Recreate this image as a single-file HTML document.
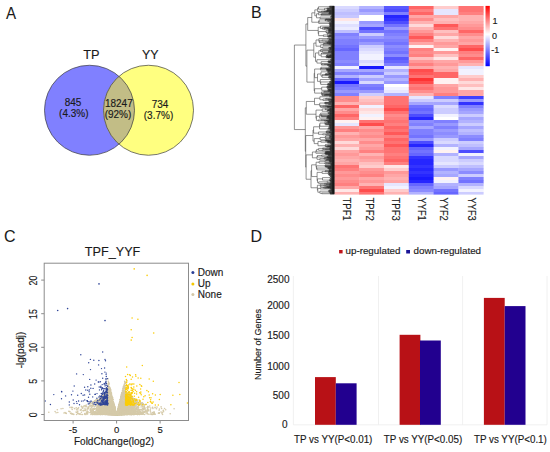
<!DOCTYPE html>
<html><head><meta charset="utf-8"><style>
html,body{margin:0;padding:0;background:#fff;width:550px;height:452px;overflow:hidden}
svg{display:block}
text{font-family:"Liberation Sans",sans-serif;fill:#1a1a1a;stroke:#1a1a1a;stroke-width:0.15px}
text.pl{stroke-width:0.06px}
</style></head><body>
<svg width="550" height="452" viewBox="0 0 550 452">
<defs>
<linearGradient id="cb" x1="0" y1="0" x2="0" y2="1">
<stop offset="0" stop-color="#ff0000"/>
<stop offset="0.47" stop-color="#ffffff"/>
<stop offset="1" stop-color="#0000ff"/>
</linearGradient>
</defs>

<text class="pl" x="5.9" y="19" font-size="16" textLength="10.1" lengthAdjust="spacingAndGlyphs">A</text>
<text class="pl" x="251" y="18" font-size="16">B</text>
<text class="pl" x="4" y="242.3" font-size="16">C</text>
<text class="pl" x="250.5" y="242.1" font-size="16">D</text>
<circle cx="89.5" cy="110.25" r="45" fill="#8080ff"/>
<circle cx="148.5" cy="110.25" r="45" fill="#ffff80"/>
<clipPath id="cA"><circle cx="89.5" cy="110.25" r="45"/></clipPath>
<circle cx="148.5" cy="110.25" r="45" fill="#c2bd86" clip-path="url(#cA)"/>
<circle cx="89.5" cy="110.25" r="45" fill="none" stroke="#3c3c3c" stroke-width="0.7"/>
<circle cx="148.5" cy="110.25" r="45" fill="none" stroke="#3c3c3c" stroke-width="0.7"/>
<text x="83.2" y="58.9" font-size="13.6" textLength="16.3" lengthAdjust="spacingAndGlyphs">TP</text>
<text x="141.9" y="58.9" font-size="13.6" textLength="16.6" lengthAdjust="spacingAndGlyphs">YY</text>
<g font-size="10" text-anchor="middle">
<text x="73" y="105.8">845</text><text x="73.8" y="117">(4.3%)</text>
<text x="118.8" y="107.4">18247</text><text x="118" y="118.2">(92%)</text>
<text x="160" y="107.7">734</text><text x="158.5" y="118.5">(3.7%)</text>
</g>
<rect x="334.30" y="6.00" width="25.13" height="3.30" fill="#d9d9ff"/>
<rect x="334.30" y="9.00" width="25.13" height="3.30" fill="#ccccff"/>
<rect x="334.30" y="12.00" width="25.13" height="3.30" fill="#bfbfff"/>
<rect x="334.30" y="15.00" width="25.13" height="3.30" fill="#c7c7ff"/>
<rect x="334.30" y="18.00" width="25.13" height="3.30" fill="#ffe6e6"/>
<rect x="334.30" y="21.00" width="25.13" height="3.30" fill="#f2f2ff"/>
<rect x="334.30" y="24.00" width="25.13" height="3.30" fill="#e0e0ff"/>
<rect x="334.30" y="27.00" width="25.13" height="3.30" fill="#ebebff"/>
<rect x="334.30" y="30.00" width="25.13" height="3.30" fill="#bfbfff"/>
<rect x="334.30" y="33.00" width="25.13" height="3.30" fill="#8080ff"/>
<rect x="334.30" y="36.00" width="25.13" height="3.30" fill="#8c8cff"/>
<rect x="334.30" y="39.00" width="25.13" height="3.30" fill="#8080ff"/>
<rect x="334.30" y="42.00" width="25.13" height="3.30" fill="#8080ff"/>
<rect x="334.30" y="45.00" width="25.13" height="3.30" fill="#7373ff"/>
<rect x="334.30" y="48.00" width="25.13" height="3.30" fill="#6666ff"/>
<rect x="334.30" y="51.00" width="25.13" height="3.30" fill="#8080ff"/>
<rect x="334.30" y="54.00" width="25.13" height="3.30" fill="#8080ff"/>
<rect x="334.30" y="57.00" width="25.13" height="3.30" fill="#8080ff"/>
<rect x="334.30" y="60.00" width="25.13" height="3.30" fill="#8c8cff"/>
<rect x="334.30" y="63.00" width="25.13" height="3.30" fill="#8080ff"/>
<rect x="334.30" y="66.00" width="25.13" height="3.30" fill="#f2f2ff"/>
<rect x="334.30" y="69.00" width="25.13" height="3.30" fill="#a6a6ff"/>
<rect x="334.30" y="72.00" width="25.13" height="3.30" fill="#8080ff"/>
<rect x="334.30" y="75.00" width="25.13" height="3.30" fill="#b2b2ff"/>
<rect x="334.30" y="78.00" width="25.13" height="3.30" fill="#6666ff"/>
<rect x="334.30" y="81.00" width="25.13" height="3.30" fill="#1919ff"/>
<rect x="334.30" y="84.00" width="25.13" height="3.30" fill="#7373ff"/>
<rect x="334.30" y="87.00" width="25.13" height="3.30" fill="#8080ff"/>
<rect x="334.30" y="90.00" width="25.13" height="3.30" fill="#9999ff"/>
<rect x="334.30" y="93.00" width="25.13" height="3.30" fill="#8080ff"/>
<rect x="334.30" y="96.00" width="25.13" height="3.30" fill="#ff8c8c"/>
<rect x="334.30" y="99.00" width="25.13" height="3.30" fill="#ff8c8c"/>
<rect x="334.30" y="102.00" width="25.13" height="3.30" fill="#ffb2b2"/>
<rect x="334.30" y="105.00" width="25.13" height="3.30" fill="#ff6666"/>
<rect x="334.30" y="108.00" width="25.13" height="3.30" fill="#ffa6a6"/>
<rect x="334.30" y="111.00" width="25.13" height="3.30" fill="#ff8c8c"/>
<rect x="334.30" y="114.00" width="25.13" height="3.30" fill="#ff6666"/>
<rect x="334.30" y="117.00" width="25.13" height="3.30" fill="#ff8080"/>
<rect x="334.30" y="120.00" width="25.13" height="3.30" fill="#fff2f2"/>
<rect x="334.30" y="123.00" width="25.13" height="3.30" fill="#e6e6ff"/>
<rect x="334.30" y="126.00" width="25.13" height="3.30" fill="#ff9999"/>
<rect x="334.30" y="129.00" width="25.13" height="3.30" fill="#ff8080"/>
<rect x="334.30" y="132.00" width="25.13" height="3.30" fill="#ffb2b2"/>
<rect x="334.30" y="135.00" width="25.13" height="3.30" fill="#ff9999"/>
<rect x="334.30" y="138.00" width="25.13" height="3.30" fill="#ffa6a6"/>
<rect x="334.30" y="141.00" width="25.13" height="3.30" fill="#ffd9d9"/>
<rect x="334.30" y="144.00" width="25.13" height="3.30" fill="#ffb2b2"/>
<rect x="334.30" y="147.00" width="25.13" height="3.30" fill="#ffd9d9"/>
<rect x="334.30" y="150.00" width="25.13" height="3.30" fill="#ffa6a6"/>
<rect x="334.30" y="153.00" width="25.13" height="3.30" fill="#ff9999"/>
<rect x="334.30" y="156.00" width="25.13" height="3.30" fill="#ffa6a6"/>
<rect x="334.30" y="159.00" width="25.13" height="3.30" fill="#ffb2b2"/>
<rect x="334.30" y="162.00" width="25.13" height="3.30" fill="#ffa6a6"/>
<rect x="334.30" y="165.00" width="25.13" height="3.30" fill="#ff7373"/>
<rect x="334.30" y="168.00" width="25.13" height="3.30" fill="#ff8080"/>
<rect x="334.30" y="171.00" width="25.13" height="3.30" fill="#ff9999"/>
<rect x="334.30" y="174.00" width="25.13" height="3.30" fill="#ff8c8c"/>
<rect x="334.30" y="177.00" width="25.13" height="3.30" fill="#ff9999"/>
<rect x="334.30" y="180.00" width="25.13" height="3.30" fill="#ff8c8c"/>
<rect x="334.30" y="183.00" width="25.13" height="3.30" fill="#ff8080"/>
<rect x="334.30" y="186.00" width="25.13" height="3.30" fill="#ffa6a6"/>
<rect x="334.30" y="189.00" width="25.13" height="3.30" fill="#ffe6e6"/>
<rect x="334.30" y="192.00" width="25.13" height="2.60" fill="#ffb2b2"/>
<rect x="359.13" y="6.00" width="25.13" height="3.30" fill="#b2b2ff"/>
<rect x="359.13" y="9.00" width="25.13" height="3.30" fill="#9999ff"/>
<rect x="359.13" y="12.00" width="25.13" height="3.30" fill="#b2b2ff"/>
<rect x="359.13" y="15.00" width="25.13" height="3.30" fill="#ffffff"/>
<rect x="359.13" y="18.00" width="25.13" height="3.30" fill="#ffffff"/>
<rect x="359.13" y="21.00" width="25.13" height="3.30" fill="#9999ff"/>
<rect x="359.13" y="24.00" width="25.13" height="3.30" fill="#a6a6ff"/>
<rect x="359.13" y="27.00" width="25.13" height="3.30" fill="#4d4dff"/>
<rect x="359.13" y="30.00" width="25.13" height="3.30" fill="#7373ff"/>
<rect x="359.13" y="33.00" width="25.13" height="3.30" fill="#ccccff"/>
<rect x="359.13" y="36.00" width="25.13" height="3.30" fill="#9999ff"/>
<rect x="359.13" y="39.00" width="25.13" height="3.30" fill="#8080ff"/>
<rect x="359.13" y="42.00" width="25.13" height="3.30" fill="#9999ff"/>
<rect x="359.13" y="45.00" width="25.13" height="3.30" fill="#ccccff"/>
<rect x="359.13" y="48.00" width="25.13" height="3.30" fill="#d9d9ff"/>
<rect x="359.13" y="51.00" width="25.13" height="3.30" fill="#e6e6ff"/>
<rect x="359.13" y="54.00" width="25.13" height="3.30" fill="#f2f2ff"/>
<rect x="359.13" y="57.00" width="25.13" height="3.30" fill="#f2f2ff"/>
<rect x="359.13" y="60.00" width="25.13" height="3.30" fill="#d9d9ff"/>
<rect x="359.13" y="63.00" width="25.13" height="3.30" fill="#e6e6ff"/>
<rect x="359.13" y="66.00" width="25.13" height="3.30" fill="#1919ff"/>
<rect x="359.13" y="69.00" width="25.13" height="3.30" fill="#a6a6ff"/>
<rect x="359.13" y="72.00" width="25.13" height="3.30" fill="#8080ff"/>
<rect x="359.13" y="75.00" width="25.13" height="3.30" fill="#ccccff"/>
<rect x="359.13" y="78.00" width="25.13" height="3.30" fill="#a6a6ff"/>
<rect x="359.13" y="81.00" width="25.13" height="3.30" fill="#d9d9ff"/>
<rect x="359.13" y="84.00" width="25.13" height="3.30" fill="#8080ff"/>
<rect x="359.13" y="87.00" width="25.13" height="3.30" fill="#7373ff"/>
<rect x="359.13" y="90.00" width="25.13" height="3.30" fill="#9999ff"/>
<rect x="359.13" y="93.00" width="25.13" height="3.30" fill="#ccccff"/>
<rect x="359.13" y="96.00" width="25.13" height="3.30" fill="#ffcccc"/>
<rect x="359.13" y="99.00" width="25.13" height="3.30" fill="#ffbfbf"/>
<rect x="359.13" y="102.00" width="25.13" height="3.30" fill="#ffb2b2"/>
<rect x="359.13" y="105.00" width="25.13" height="3.30" fill="#f2f2ff"/>
<rect x="359.13" y="108.00" width="25.13" height="3.30" fill="#ffd9d9"/>
<rect x="359.13" y="111.00" width="25.13" height="3.30" fill="#ffe6e6"/>
<rect x="359.13" y="114.00" width="25.13" height="3.30" fill="#f2f2ff"/>
<rect x="359.13" y="117.00" width="25.13" height="3.30" fill="#fff2f2"/>
<rect x="359.13" y="120.00" width="25.13" height="3.30" fill="#ff7373"/>
<rect x="359.13" y="123.00" width="25.13" height="3.30" fill="#ff4d4d"/>
<rect x="359.13" y="126.00" width="25.13" height="3.30" fill="#ffa6a6"/>
<rect x="359.13" y="129.00" width="25.13" height="3.30" fill="#ff8c8c"/>
<rect x="359.13" y="132.00" width="25.13" height="3.30" fill="#ff9999"/>
<rect x="359.13" y="135.00" width="25.13" height="3.30" fill="#ff8c8c"/>
<rect x="359.13" y="138.00" width="25.13" height="3.30" fill="#ffa6a6"/>
<rect x="359.13" y="141.00" width="25.13" height="3.30" fill="#ff8c8c"/>
<rect x="359.13" y="144.00" width="25.13" height="3.30" fill="#ffa6a6"/>
<rect x="359.13" y="147.00" width="25.13" height="3.30" fill="#ff9999"/>
<rect x="359.13" y="150.00" width="25.13" height="3.30" fill="#ff8080"/>
<rect x="359.13" y="153.00" width="25.13" height="3.30" fill="#ffb2b2"/>
<rect x="359.13" y="156.00" width="25.13" height="3.30" fill="#ff9999"/>
<rect x="359.13" y="159.00" width="25.13" height="3.30" fill="#ffa6a6"/>
<rect x="359.13" y="162.00" width="25.13" height="3.30" fill="#ffbfbf"/>
<rect x="359.13" y="165.00" width="25.13" height="3.30" fill="#ffcccc"/>
<rect x="359.13" y="168.00" width="25.13" height="3.30" fill="#ff9999"/>
<rect x="359.13" y="171.00" width="25.13" height="3.30" fill="#ff8c8c"/>
<rect x="359.13" y="174.00" width="25.13" height="3.30" fill="#ff8080"/>
<rect x="359.13" y="177.00" width="25.13" height="3.30" fill="#ffa6a6"/>
<rect x="359.13" y="180.00" width="25.13" height="3.30" fill="#ff9999"/>
<rect x="359.13" y="183.00" width="25.13" height="3.30" fill="#ffb2b2"/>
<rect x="359.13" y="186.00" width="25.13" height="3.30" fill="#ff7373"/>
<rect x="359.13" y="189.00" width="25.13" height="3.30" fill="#ff4d4d"/>
<rect x="359.13" y="192.00" width="25.13" height="2.60" fill="#ff7373"/>
<rect x="383.97" y="6.00" width="25.13" height="3.30" fill="#5959ff"/>
<rect x="383.97" y="9.00" width="25.13" height="3.30" fill="#4d4dff"/>
<rect x="383.97" y="12.00" width="25.13" height="3.30" fill="#8080ff"/>
<rect x="383.97" y="15.00" width="25.13" height="3.30" fill="#2626ff"/>
<rect x="383.97" y="18.00" width="25.13" height="3.30" fill="#3333ff"/>
<rect x="383.97" y="21.00" width="25.13" height="3.30" fill="#4d4dff"/>
<rect x="383.97" y="24.00" width="25.13" height="3.30" fill="#7373ff"/>
<rect x="383.97" y="27.00" width="25.13" height="3.30" fill="#9999ff"/>
<rect x="383.97" y="30.00" width="25.13" height="3.30" fill="#7373ff"/>
<rect x="383.97" y="33.00" width="25.13" height="3.30" fill="#8080ff"/>
<rect x="383.97" y="36.00" width="25.13" height="3.30" fill="#8c8cff"/>
<rect x="383.97" y="39.00" width="25.13" height="3.30" fill="#8080ff"/>
<rect x="383.97" y="42.00" width="25.13" height="3.30" fill="#7373ff"/>
<rect x="383.97" y="45.00" width="25.13" height="3.30" fill="#8c8cff"/>
<rect x="383.97" y="48.00" width="25.13" height="3.30" fill="#8080ff"/>
<rect x="383.97" y="51.00" width="25.13" height="3.30" fill="#7373ff"/>
<rect x="383.97" y="54.00" width="25.13" height="3.30" fill="#8c8cff"/>
<rect x="383.97" y="57.00" width="25.13" height="3.30" fill="#5959ff"/>
<rect x="383.97" y="60.00" width="25.13" height="3.30" fill="#6666ff"/>
<rect x="383.97" y="63.00" width="25.13" height="3.30" fill="#8080ff"/>
<rect x="383.97" y="66.00" width="25.13" height="3.30" fill="#e6e6ff"/>
<rect x="383.97" y="69.00" width="25.13" height="3.30" fill="#b2b2ff"/>
<rect x="383.97" y="72.00" width="25.13" height="3.30" fill="#ccccff"/>
<rect x="383.97" y="75.00" width="25.13" height="3.30" fill="#9999ff"/>
<rect x="383.97" y="78.00" width="25.13" height="3.30" fill="#b2b2ff"/>
<rect x="383.97" y="81.00" width="25.13" height="3.30" fill="#9999ff"/>
<rect x="383.97" y="84.00" width="25.13" height="3.30" fill="#ffffff"/>
<rect x="383.97" y="87.00" width="25.13" height="3.30" fill="#f2f2ff"/>
<rect x="383.97" y="90.00" width="25.13" height="3.30" fill="#e6e6ff"/>
<rect x="383.97" y="93.00" width="25.13" height="3.30" fill="#b2b2ff"/>
<rect x="383.97" y="96.00" width="25.13" height="3.30" fill="#ff7373"/>
<rect x="383.97" y="99.00" width="25.13" height="3.30" fill="#ff7373"/>
<rect x="383.97" y="102.00" width="25.13" height="3.30" fill="#ff7373"/>
<rect x="383.97" y="105.00" width="25.13" height="3.30" fill="#ff6666"/>
<rect x="383.97" y="108.00" width="25.13" height="3.30" fill="#ff4d4d"/>
<rect x="383.97" y="111.00" width="25.13" height="3.30" fill="#ff7373"/>
<rect x="383.97" y="114.00" width="25.13" height="3.30" fill="#ff8c8c"/>
<rect x="383.97" y="117.00" width="25.13" height="3.30" fill="#ff8080"/>
<rect x="383.97" y="120.00" width="25.13" height="3.30" fill="#ff7373"/>
<rect x="383.97" y="123.00" width="25.13" height="3.30" fill="#ff8080"/>
<rect x="383.97" y="126.00" width="25.13" height="3.30" fill="#ff6666"/>
<rect x="383.97" y="129.00" width="25.13" height="3.30" fill="#ff7373"/>
<rect x="383.97" y="132.00" width="25.13" height="3.30" fill="#ff5959"/>
<rect x="383.97" y="135.00" width="25.13" height="3.30" fill="#ff8080"/>
<rect x="383.97" y="138.00" width="25.13" height="3.30" fill="#ff6666"/>
<rect x="383.97" y="141.00" width="25.13" height="3.30" fill="#ff7373"/>
<rect x="383.97" y="144.00" width="25.13" height="3.30" fill="#ff5959"/>
<rect x="383.97" y="147.00" width="25.13" height="3.30" fill="#ff7373"/>
<rect x="383.97" y="150.00" width="25.13" height="3.30" fill="#ff7373"/>
<rect x="383.97" y="153.00" width="25.13" height="3.30" fill="#ff8080"/>
<rect x="383.97" y="156.00" width="25.13" height="3.30" fill="#ff7373"/>
<rect x="383.97" y="159.00" width="25.13" height="3.30" fill="#ff6666"/>
<rect x="383.97" y="162.00" width="25.13" height="3.30" fill="#ff8080"/>
<rect x="383.97" y="165.00" width="25.13" height="3.30" fill="#ffe6e6"/>
<rect x="383.97" y="168.00" width="25.13" height="3.30" fill="#ffcccc"/>
<rect x="383.97" y="171.00" width="25.13" height="3.30" fill="#ff9999"/>
<rect x="383.97" y="174.00" width="25.13" height="3.30" fill="#ffa6a6"/>
<rect x="383.97" y="177.00" width="25.13" height="3.30" fill="#ffb2b2"/>
<rect x="383.97" y="180.00" width="25.13" height="3.30" fill="#ffa6a6"/>
<rect x="383.97" y="183.00" width="25.13" height="3.30" fill="#e6e6ff"/>
<rect x="383.97" y="186.00" width="25.13" height="3.30" fill="#f2f2ff"/>
<rect x="383.97" y="189.00" width="25.13" height="3.30" fill="#ffcccc"/>
<rect x="383.97" y="192.00" width="25.13" height="2.60" fill="#ffb2b2"/>
<rect x="408.80" y="6.00" width="25.13" height="3.30" fill="#ff6666"/>
<rect x="408.80" y="9.00" width="25.13" height="3.30" fill="#ff8080"/>
<rect x="408.80" y="12.00" width="25.13" height="3.30" fill="#ff6666"/>
<rect x="408.80" y="15.00" width="25.13" height="3.30" fill="#ffa6a6"/>
<rect x="408.80" y="18.00" width="25.13" height="3.30" fill="#ff8c8c"/>
<rect x="408.80" y="21.00" width="25.13" height="3.30" fill="#ffb2b2"/>
<rect x="408.80" y="24.00" width="25.13" height="3.30" fill="#ffd9d9"/>
<rect x="408.80" y="27.00" width="25.13" height="3.30" fill="#ffb2b2"/>
<rect x="408.80" y="30.00" width="25.13" height="3.30" fill="#ff9999"/>
<rect x="408.80" y="33.00" width="25.13" height="3.30" fill="#ff8080"/>
<rect x="408.80" y="36.00" width="25.13" height="3.30" fill="#ff5959"/>
<rect x="408.80" y="39.00" width="25.13" height="3.30" fill="#ff8080"/>
<rect x="408.80" y="42.00" width="25.13" height="3.30" fill="#ffa6a6"/>
<rect x="408.80" y="45.00" width="25.13" height="3.30" fill="#fff2f2"/>
<rect x="408.80" y="48.00" width="25.13" height="3.30" fill="#ff8080"/>
<rect x="408.80" y="51.00" width="25.13" height="3.30" fill="#ff8c8c"/>
<rect x="408.80" y="54.00" width="25.13" height="3.30" fill="#ff8080"/>
<rect x="408.80" y="57.00" width="25.13" height="3.30" fill="#ffbfbf"/>
<rect x="408.80" y="60.00" width="25.13" height="3.30" fill="#ff9999"/>
<rect x="408.80" y="63.00" width="25.13" height="3.30" fill="#ff8080"/>
<rect x="408.80" y="66.00" width="25.13" height="3.30" fill="#ffa6a6"/>
<rect x="408.80" y="69.00" width="25.13" height="3.30" fill="#ff4d4d"/>
<rect x="408.80" y="72.00" width="25.13" height="3.30" fill="#ff5959"/>
<rect x="408.80" y="75.00" width="25.13" height="3.30" fill="#ff7373"/>
<rect x="408.80" y="78.00" width="25.13" height="3.30" fill="#ff3333"/>
<rect x="408.80" y="81.00" width="25.13" height="3.30" fill="#ff4d4d"/>
<rect x="408.80" y="84.00" width="25.13" height="3.30" fill="#ff8080"/>
<rect x="408.80" y="87.00" width="25.13" height="3.30" fill="#ff7373"/>
<rect x="408.80" y="90.00" width="25.13" height="3.30" fill="#ff8c8c"/>
<rect x="408.80" y="93.00" width="25.13" height="3.30" fill="#ffb2b2"/>
<rect x="408.80" y="96.00" width="25.13" height="3.30" fill="#e6e6ff"/>
<rect x="408.80" y="99.00" width="25.13" height="3.30" fill="#ccccff"/>
<rect x="408.80" y="102.00" width="25.13" height="3.30" fill="#a6a6ff"/>
<rect x="408.80" y="105.00" width="25.13" height="3.30" fill="#7373ff"/>
<rect x="408.80" y="108.00" width="25.13" height="3.30" fill="#6666ff"/>
<rect x="408.80" y="111.00" width="25.13" height="3.30" fill="#7373ff"/>
<rect x="408.80" y="114.00" width="25.13" height="3.30" fill="#4d4dff"/>
<rect x="408.80" y="117.00" width="25.13" height="3.30" fill="#2626ff"/>
<rect x="408.80" y="120.00" width="25.13" height="3.30" fill="#8c8cff"/>
<rect x="408.80" y="123.00" width="25.13" height="3.30" fill="#8080ff"/>
<rect x="408.80" y="126.00" width="25.13" height="3.30" fill="#a6a6ff"/>
<rect x="408.80" y="129.00" width="25.13" height="3.30" fill="#8080ff"/>
<rect x="408.80" y="132.00" width="25.13" height="3.30" fill="#8080ff"/>
<rect x="408.80" y="135.00" width="25.13" height="3.30" fill="#7373ff"/>
<rect x="408.80" y="138.00" width="25.13" height="3.30" fill="#9999ff"/>
<rect x="408.80" y="141.00" width="25.13" height="3.30" fill="#4d4dff"/>
<rect x="408.80" y="144.00" width="25.13" height="3.30" fill="#2626ff"/>
<rect x="408.80" y="147.00" width="25.13" height="3.30" fill="#6666ff"/>
<rect x="408.80" y="150.00" width="25.13" height="3.30" fill="#7373ff"/>
<rect x="408.80" y="153.00" width="25.13" height="3.30" fill="#6666ff"/>
<rect x="408.80" y="156.00" width="25.13" height="3.30" fill="#3333ff"/>
<rect x="408.80" y="159.00" width="25.13" height="3.30" fill="#2626ff"/>
<rect x="408.80" y="162.00" width="25.13" height="3.30" fill="#2626ff"/>
<rect x="408.80" y="165.00" width="25.13" height="3.30" fill="#3333ff"/>
<rect x="408.80" y="168.00" width="25.13" height="3.30" fill="#2626ff"/>
<rect x="408.80" y="171.00" width="25.13" height="3.30" fill="#3333ff"/>
<rect x="408.80" y="174.00" width="25.13" height="3.30" fill="#2626ff"/>
<rect x="408.80" y="177.00" width="25.13" height="3.30" fill="#1919ff"/>
<rect x="408.80" y="180.00" width="25.13" height="3.30" fill="#2626ff"/>
<rect x="408.80" y="183.00" width="25.13" height="3.30" fill="#6666ff"/>
<rect x="408.80" y="186.00" width="25.13" height="3.30" fill="#8080ff"/>
<rect x="408.80" y="189.00" width="25.13" height="3.30" fill="#8c8cff"/>
<rect x="408.80" y="192.00" width="25.13" height="2.60" fill="#b2b2ff"/>
<rect x="433.63" y="6.00" width="25.13" height="3.30" fill="#ffcccc"/>
<rect x="433.63" y="9.00" width="25.13" height="3.30" fill="#e6e6ff"/>
<rect x="433.63" y="12.00" width="25.13" height="3.30" fill="#e6e6ff"/>
<rect x="433.63" y="15.00" width="25.13" height="3.30" fill="#ffa6a6"/>
<rect x="433.63" y="18.00" width="25.13" height="3.30" fill="#ffbfbf"/>
<rect x="433.63" y="21.00" width="25.13" height="3.30" fill="#ffb2b2"/>
<rect x="433.63" y="24.00" width="25.13" height="3.30" fill="#ff5959"/>
<rect x="433.63" y="27.00" width="25.13" height="3.30" fill="#ff7373"/>
<rect x="433.63" y="30.00" width="25.13" height="3.30" fill="#ffbfbf"/>
<rect x="433.63" y="33.00" width="25.13" height="3.30" fill="#ffa6a6"/>
<rect x="433.63" y="36.00" width="25.13" height="3.30" fill="#ffd9d9"/>
<rect x="433.63" y="39.00" width="25.13" height="3.30" fill="#ffb2b2"/>
<rect x="433.63" y="42.00" width="25.13" height="3.30" fill="#ff9999"/>
<rect x="433.63" y="45.00" width="25.13" height="3.30" fill="#ffa6a6"/>
<rect x="433.63" y="48.00" width="25.13" height="3.30" fill="#fff2f2"/>
<rect x="433.63" y="51.00" width="25.13" height="3.30" fill="#ff9999"/>
<rect x="433.63" y="54.00" width="25.13" height="3.30" fill="#ffbfbf"/>
<rect x="433.63" y="57.00" width="25.13" height="3.30" fill="#ffe6e6"/>
<rect x="433.63" y="60.00" width="25.13" height="3.30" fill="#ffa6a6"/>
<rect x="433.63" y="63.00" width="25.13" height="3.30" fill="#ff9999"/>
<rect x="433.63" y="66.00" width="25.13" height="3.30" fill="#ffb2b2"/>
<rect x="433.63" y="69.00" width="25.13" height="3.30" fill="#ffa6a6"/>
<rect x="433.63" y="72.00" width="25.13" height="3.30" fill="#ff6666"/>
<rect x="433.63" y="75.00" width="25.13" height="3.30" fill="#ff6666"/>
<rect x="433.63" y="78.00" width="25.13" height="3.30" fill="#fff2f2"/>
<rect x="433.63" y="81.00" width="25.13" height="3.30" fill="#fff2f2"/>
<rect x="433.63" y="84.00" width="25.13" height="3.30" fill="#ffa6a6"/>
<rect x="433.63" y="87.00" width="25.13" height="3.30" fill="#ff9999"/>
<rect x="433.63" y="90.00" width="25.13" height="3.30" fill="#ff9999"/>
<rect x="433.63" y="93.00" width="25.13" height="3.30" fill="#ff8080"/>
<rect x="433.63" y="96.00" width="25.13" height="3.30" fill="#8080ff"/>
<rect x="433.63" y="99.00" width="25.13" height="3.30" fill="#ccccff"/>
<rect x="433.63" y="102.00" width="25.13" height="3.30" fill="#a6a6ff"/>
<rect x="433.63" y="105.00" width="25.13" height="3.30" fill="#d9d9ff"/>
<rect x="433.63" y="108.00" width="25.13" height="3.30" fill="#ccccff"/>
<rect x="433.63" y="111.00" width="25.13" height="3.30" fill="#ccccff"/>
<rect x="433.63" y="114.00" width="25.13" height="3.30" fill="#f2f2ff"/>
<rect x="433.63" y="117.00" width="25.13" height="3.30" fill="#ffffff"/>
<rect x="433.63" y="120.00" width="25.13" height="3.30" fill="#8080ff"/>
<rect x="433.63" y="123.00" width="25.13" height="3.30" fill="#9999ff"/>
<rect x="433.63" y="126.00" width="25.13" height="3.30" fill="#8080ff"/>
<rect x="433.63" y="129.00" width="25.13" height="3.30" fill="#9999ff"/>
<rect x="433.63" y="132.00" width="25.13" height="3.30" fill="#8c8cff"/>
<rect x="433.63" y="135.00" width="25.13" height="3.30" fill="#9999ff"/>
<rect x="433.63" y="138.00" width="25.13" height="3.30" fill="#ccccff"/>
<rect x="433.63" y="141.00" width="25.13" height="3.30" fill="#d9d9ff"/>
<rect x="433.63" y="144.00" width="25.13" height="3.30" fill="#b2b2ff"/>
<rect x="433.63" y="147.00" width="25.13" height="3.30" fill="#f2f2ff"/>
<rect x="433.63" y="150.00" width="25.13" height="3.30" fill="#fff2f2"/>
<rect x="433.63" y="153.00" width="25.13" height="3.30" fill="#b2b2ff"/>
<rect x="433.63" y="156.00" width="25.13" height="3.30" fill="#d9d9ff"/>
<rect x="433.63" y="159.00" width="25.13" height="3.30" fill="#d9d9ff"/>
<rect x="433.63" y="162.00" width="25.13" height="3.30" fill="#e6e6ff"/>
<rect x="433.63" y="165.00" width="25.13" height="3.30" fill="#ccccff"/>
<rect x="433.63" y="168.00" width="25.13" height="3.30" fill="#9999ff"/>
<rect x="433.63" y="171.00" width="25.13" height="3.30" fill="#b2b2ff"/>
<rect x="433.63" y="174.00" width="25.13" height="3.30" fill="#a6a6ff"/>
<rect x="433.63" y="177.00" width="25.13" height="3.30" fill="#fff2f2"/>
<rect x="433.63" y="180.00" width="25.13" height="3.30" fill="#f2f2ff"/>
<rect x="433.63" y="183.00" width="25.13" height="3.30" fill="#b2b2ff"/>
<rect x="433.63" y="186.00" width="25.13" height="3.30" fill="#a6a6ff"/>
<rect x="433.63" y="189.00" width="25.13" height="3.30" fill="#7373ff"/>
<rect x="433.63" y="192.00" width="25.13" height="2.60" fill="#6666ff"/>
<rect x="458.47" y="6.00" width="25.13" height="3.30" fill="#ff7373"/>
<rect x="458.47" y="9.00" width="25.13" height="3.30" fill="#ff7373"/>
<rect x="458.47" y="12.00" width="25.13" height="3.30" fill="#ff8080"/>
<rect x="458.47" y="15.00" width="25.13" height="3.30" fill="#ffb2b2"/>
<rect x="458.47" y="18.00" width="25.13" height="3.30" fill="#ffb2b2"/>
<rect x="458.47" y="21.00" width="25.13" height="3.30" fill="#ffa6a6"/>
<rect x="458.47" y="24.00" width="25.13" height="3.30" fill="#ff9999"/>
<rect x="458.47" y="27.00" width="25.13" height="3.30" fill="#ff8c8c"/>
<rect x="458.47" y="30.00" width="25.13" height="3.30" fill="#ff6666"/>
<rect x="458.47" y="33.00" width="25.13" height="3.30" fill="#ff8c8c"/>
<rect x="458.47" y="36.00" width="25.13" height="3.30" fill="#ffa6a6"/>
<rect x="458.47" y="39.00" width="25.13" height="3.30" fill="#ff9999"/>
<rect x="458.47" y="42.00" width="25.13" height="3.30" fill="#ffa6a6"/>
<rect x="458.47" y="45.00" width="25.13" height="3.30" fill="#ff6666"/>
<rect x="458.47" y="48.00" width="25.13" height="3.30" fill="#ff4d4d"/>
<rect x="458.47" y="51.00" width="25.13" height="3.30" fill="#ff8080"/>
<rect x="458.47" y="54.00" width="25.13" height="3.30" fill="#ff8c8c"/>
<rect x="458.47" y="57.00" width="25.13" height="3.30" fill="#ff6666"/>
<rect x="458.47" y="60.00" width="25.13" height="3.30" fill="#ff9999"/>
<rect x="458.47" y="63.00" width="25.13" height="3.30" fill="#ffb2b2"/>
<rect x="458.47" y="66.00" width="25.13" height="3.30" fill="#e6e6ff"/>
<rect x="458.47" y="69.00" width="25.13" height="3.30" fill="#f2f2ff"/>
<rect x="458.47" y="72.00" width="25.13" height="3.30" fill="#f2f2ff"/>
<rect x="458.47" y="75.00" width="25.13" height="3.30" fill="#ffcccc"/>
<rect x="458.47" y="78.00" width="25.13" height="3.30" fill="#ffb2b2"/>
<rect x="458.47" y="81.00" width="25.13" height="3.30" fill="#ffd9d9"/>
<rect x="458.47" y="84.00" width="25.13" height="3.30" fill="#ffbfbf"/>
<rect x="458.47" y="87.00" width="25.13" height="3.30" fill="#ffe6e6"/>
<rect x="458.47" y="90.00" width="25.13" height="3.30" fill="#ffa6a6"/>
<rect x="458.47" y="93.00" width="25.13" height="3.30" fill="#ffa6a6"/>
<rect x="458.47" y="96.00" width="25.13" height="3.30" fill="#4040ff"/>
<rect x="458.47" y="99.00" width="25.13" height="3.30" fill="#9999ff"/>
<rect x="458.47" y="102.00" width="25.13" height="3.30" fill="#3333ff"/>
<rect x="458.47" y="105.00" width="25.13" height="3.30" fill="#8080ff"/>
<rect x="458.47" y="108.00" width="25.13" height="3.30" fill="#9999ff"/>
<rect x="458.47" y="111.00" width="25.13" height="3.30" fill="#a6a6ff"/>
<rect x="458.47" y="114.00" width="25.13" height="3.30" fill="#ccccff"/>
<rect x="458.47" y="117.00" width="25.13" height="3.30" fill="#a6a6ff"/>
<rect x="458.47" y="120.00" width="25.13" height="3.30" fill="#b2b2ff"/>
<rect x="458.47" y="123.00" width="25.13" height="3.30" fill="#ccccff"/>
<rect x="458.47" y="126.00" width="25.13" height="3.30" fill="#a6a6ff"/>
<rect x="458.47" y="129.00" width="25.13" height="3.30" fill="#bfbfff"/>
<rect x="458.47" y="132.00" width="25.13" height="3.30" fill="#b2b2ff"/>
<rect x="458.47" y="135.00" width="25.13" height="3.30" fill="#8c8cff"/>
<rect x="458.47" y="138.00" width="25.13" height="3.30" fill="#8080ff"/>
<rect x="458.47" y="141.00" width="25.13" height="3.30" fill="#ccccff"/>
<rect x="458.47" y="144.00" width="25.13" height="3.30" fill="#bfbfff"/>
<rect x="458.47" y="147.00" width="25.13" height="3.30" fill="#a6a6ff"/>
<rect x="458.47" y="150.00" width="25.13" height="3.30" fill="#4d4dff"/>
<rect x="458.47" y="153.00" width="25.13" height="3.30" fill="#f2f2ff"/>
<rect x="458.47" y="156.00" width="25.13" height="3.30" fill="#a6a6ff"/>
<rect x="458.47" y="159.00" width="25.13" height="3.30" fill="#ccccff"/>
<rect x="458.47" y="162.00" width="25.13" height="3.30" fill="#d9d9ff"/>
<rect x="458.47" y="165.00" width="25.13" height="3.30" fill="#bfbfff"/>
<rect x="458.47" y="168.00" width="25.13" height="3.30" fill="#a6a6ff"/>
<rect x="458.47" y="171.00" width="25.13" height="3.30" fill="#8c8cff"/>
<rect x="458.47" y="174.00" width="25.13" height="3.30" fill="#ccccff"/>
<rect x="458.47" y="177.00" width="25.13" height="3.30" fill="#8080ff"/>
<rect x="458.47" y="180.00" width="25.13" height="3.30" fill="#7373ff"/>
<rect x="458.47" y="183.00" width="25.13" height="3.30" fill="#b2b2ff"/>
<rect x="458.47" y="186.00" width="25.13" height="3.30" fill="#d9d9ff"/>
<rect x="458.47" y="189.00" width="25.13" height="3.30" fill="#f2f2ff"/>
<rect x="458.47" y="192.00" width="25.13" height="2.60" fill="#ccccff"/>
<path d="M324.5 8.40H326.9M324.5 8.40V10.00M318.5 6.77H329.2M318.5 9.20H324.5M318.5 6.77V9.20M317.6 7.98H318.5M317.6 11.73H318.7M317.6 7.98V11.73M321.0 14.32H321.4M321.0 14.32V15.25M318.4 14.79H321.0M318.4 12.80V14.79M330.6 16.39H331.0M330.6 16.39V17.78M320.0 17.08H330.6M320.0 17.08V18.55M316.5 13.79H318.4M316.5 17.82H320.0M316.5 13.79V17.82M314.8 9.86H317.6M314.8 15.80H316.5M314.8 9.86V15.80M325.0 20.44H325.4M325.0 19.39V20.44M319.1 19.91H325.0M319.1 19.91V22.09M329.1 24.05H329.5M329.1 22.82V24.05M318.7 21.00H319.1M318.7 23.44H329.1M318.7 21.00V23.44M311.8 12.83H314.8M311.8 22.22H318.7M311.8 12.83V22.22M322.5 29.18H324.3M322.5 27.69V29.18M320.5 26.08H329.4M320.5 28.44H322.5M320.5 26.08V28.44M326.4 31.90V33.04M326.0 32.47H326.4M326.0 30.67V32.47M323.4 34.91H327.5M323.4 34.91V36.39M318.6 31.57H326.0M318.6 35.65H323.4M318.6 31.57V35.65M318.2 27.26H320.5M318.2 33.61H318.6M318.2 27.26V33.61M307.7 17.52H311.8M307.7 30.44H318.2M307.7 17.52V30.44M327.6 38.10H328.6M327.6 38.10V39.08M319.3 40.31H322.1M319.3 42.34H319.7M319.3 40.31V42.34M318.9 38.59H327.6M318.9 41.33H319.3M318.9 38.59V41.33M323.1 45.53H331.0M323.1 44.03V45.53M322.6 48.28H328.4M322.6 46.86V48.28M320.7 44.78H323.1M320.7 47.57H322.6M320.7 44.78V47.57M316.0 39.96H318.9M316.0 46.18H320.7M316.0 39.96V46.18M322.4 52.17H328.2M322.4 50.86V52.17M320.5 49.88H320.9M320.5 51.52H322.4M320.5 49.88V51.52M326.4 55.43H326.8M326.4 55.43V56.54M326.0 55.99H326.4M326.0 55.99V57.59M321.2 53.58H321.6M321.2 56.79H326.0M321.2 53.58V56.79M318.8 50.70H320.5M318.8 55.18H321.2M318.8 50.70V55.18M330.5 59.22H330.9M330.5 59.22V60.18M327.8 61.16V62.11M321.6 63.90H322.0M321.6 63.90V65.16M321.2 61.64H327.8M321.2 64.53H321.6M321.2 61.64V64.53M316.9 59.70H330.5M316.9 63.08H321.2M316.9 59.70V63.08M315.5 52.94H318.8M315.5 61.39H316.9M315.5 52.94V61.39M313.8 43.07H316.0M313.8 57.17H315.5M313.8 43.07V57.17M328.7 66.63H329.1M328.7 66.63V67.89M321.0 67.26H328.7M321.0 67.26V68.80M320.6 68.03H321.0M320.6 68.03V70.03M327.6 72.40H328.0M327.6 71.26V72.40M322.6 74.41H325.0M322.6 74.41V75.53M328.5 76.79H328.9M328.5 76.79V77.85M322.1 74.97H322.6M322.1 77.32H328.5M322.1 74.97V77.32M321.0 71.83H327.6M321.0 76.15H322.1M321.0 71.83V76.15M330.6 80.16H331.0M330.6 78.90V80.16M329.5 82.49H329.9M329.5 81.42V82.49M327.5 83.87V84.96M320.7 81.96H329.5M320.7 84.42H327.5M320.7 81.96V84.42M320.3 79.53H330.6M320.3 83.19H320.7M320.3 79.53V83.19M317.5 73.99H321.0M317.5 81.36H320.3M317.5 73.99V81.36M314.6 69.03H320.6M314.6 77.67H317.5M314.6 69.03V77.67M326.9 86.33H327.3M326.9 87.96H327.3M326.9 86.33V87.96M327.7 89.69H328.1M327.7 89.69V90.95M321.7 87.14H326.9M321.7 90.32H327.7M321.7 87.14V90.32M321.9 95.21H322.3M321.9 93.37V95.21M321.5 91.93H323.8M321.5 94.29H321.9M321.5 91.93V94.29M314.6 88.73H321.7M314.6 93.11H321.5M314.6 88.73V93.11M314.2 73.35H314.6M314.2 90.92H314.6M314.2 73.35V90.92M306.9 50.12H313.8M306.9 82.14H314.2M306.9 50.12V82.14M305.9 23.98H307.7M305.9 66.13H306.9M305.9 23.98V66.13M328.6 101.09H329.0M328.6 99.99V101.09M323.0 98.99H325.2M323.0 100.54H328.6M323.0 98.99V100.54M319.9 96.75H329.7M319.9 99.77H323.0M319.9 96.75V99.77M324.6 103.61H325.2M324.6 102.51V103.61M320.8 106.36V107.48M320.4 106.92H320.8M320.4 105.42V106.92M319.7 103.06H324.6M319.7 106.17H320.4M319.7 103.06V106.17M314.5 98.26H319.9M314.5 104.62H319.7M314.5 98.26V104.62M327.1 110.67V111.86M322.2 108.92H325.1M322.2 111.26H327.1M322.2 108.92V111.26M321.4 114.31V115.60M321.0 114.96H321.4M321.0 114.96V116.65M320.6 115.81H321.0M320.6 113.12V115.81M319.6 114.46H320.6M319.6 118.14H326.6M319.6 114.46V118.14M318.1 119.93V120.86M316.4 116.30H319.6M316.4 120.39H318.1M316.4 116.30V120.39M316.0 110.09H322.2M316.0 118.35H316.4M316.0 110.09V118.35M306.3 101.44H314.5M306.3 114.22H316.0M306.3 101.44V114.22M325.3 123.43H325.7M325.3 123.43V124.85M324.9 124.14H325.3M324.9 121.94V124.14M329.0 125.69V126.81M319.9 123.04H324.9M319.9 126.25H329.0M319.9 123.04V126.25M328.0 128.12H328.4M328.0 129.75H329.8M328.0 128.12V129.75M319.5 124.64H319.9M319.5 128.93H328.0M319.5 124.64V128.93M326.1 131.29V132.65M318.5 131.97H326.1M318.5 134.28H322.8M318.5 131.97V134.28M313.6 126.79H319.5M313.6 133.13H318.5M313.6 126.79V133.13M325.7 135.86H329.2M325.7 135.86V137.17M325.3 136.51H325.7M325.3 136.51V138.36M320.1 137.44H325.3M320.1 137.44V139.76M327.4 142.77H327.8M327.4 141.65V142.77M320.9 142.21H327.4M320.9 140.70V142.21M325.6 144.41V145.57M325.2 144.99H325.6M325.2 144.99V146.52M318.0 141.46H320.9M318.0 145.75H325.2M318.0 141.46V145.75M314.2 138.60H320.1M314.2 143.61H318.0M314.2 138.60V143.61M313.0 129.96H313.6M313.0 141.10H314.2M313.0 129.96V141.10M322.7 147.92V148.93M318.6 148.42H322.7M318.6 150.33H322.2M318.6 148.42V150.33M316.7 149.38H318.6M316.7 149.38V151.91M315.9 150.64H316.7M315.9 153.29H324.7M315.9 150.64V153.29M317.4 155.56H321.7M317.4 155.56V157.05M319.8 158.61H324.0M319.8 158.61V160.06M317.0 156.31H317.4M317.0 159.34H319.8M317.0 156.31V159.34M312.4 151.97H315.9M312.4 157.82H317.0M312.4 151.97V157.82M319.1 161.29H325.0M319.1 161.29V163.18M325.4 164.61H330.6M325.4 164.61V165.73M325.0 165.17H325.4M325.0 165.17V166.56M316.9 168.06H327.5M316.9 168.06V169.90M316.5 165.87H325.0M316.5 168.98H316.9M316.5 165.87V168.98M316.1 162.23H319.1M316.1 167.42H316.5M316.1 162.23V167.42M328.6 174.84H329.0M328.6 173.65V174.84M328.2 174.24H328.6M328.2 172.56V174.24M322.1 173.40H328.2M322.1 171.35V173.40M330.5 177.08H330.9M330.5 176.10V177.08M330.1 176.59H330.5M330.1 176.59V178.65M322.5 177.62H330.1M322.5 177.62V180.05M327.2 181.21V182.50M318.7 181.85H327.2M318.7 181.85V183.45M317.5 178.84H322.5M317.5 182.65H318.7M317.5 178.84V182.65M317.1 172.38H322.1M317.1 180.74H317.5M317.1 172.38V180.74M311.6 164.83H316.1M311.6 176.56H317.1M311.6 164.83V176.56M320.7 185.48H324.0M320.7 185.48V186.95M320.3 186.21H320.7M320.3 184.29V186.21M320.2 187.75V189.01M328.4 190.55V191.78M319.9 191.17H328.4M319.9 193.28H321.8M319.9 191.17V193.28M317.8 188.38H320.2M317.8 192.23H319.9M317.8 188.38V192.23M317.4 185.25H320.3M317.4 190.30H317.8M317.4 185.25V190.30M311.0 170.69H311.6M311.0 187.78H317.4M311.0 170.69V187.78M306.1 154.89H312.4M306.1 179.24H311.0M306.1 154.89V179.24M305.7 135.53H313.0M305.7 167.07H306.1M305.7 135.53V167.07M305.3 107.83H306.3M305.3 151.30H305.7M305.3 107.83V151.30M294.4 45.05H305.9M294.4 129.56H305.3M294.4 45.05V129.56" stroke="#4a4a4a" stroke-width="0.6" fill="none"/><path d="M330.0 6.14H334.3M330.4 6.42H334.3M330.4 6.70H334.3M330.0 6.42H330.4M330.0 6.70H330.4M330.0 6.42V6.70M329.6 6.14H330.0M329.6 6.56H330.0M329.6 6.14V6.56M332.3 6.98H334.3M330.4 7.26H334.3M330.4 7.54H334.3M330.0 7.26H330.4M330.0 7.54H330.4M330.0 7.26V7.54M329.6 6.98H332.3M329.6 7.40H330.0M329.6 6.98V7.40M329.2 6.35H329.6M329.2 7.19H329.6M329.2 6.35V7.19M332.0 7.82H334.3M332.0 8.10H334.3M331.6 7.82H332.0M331.6 8.10H332.0M331.6 7.82V8.10M328.1 8.38H334.3M329.8 8.66H334.3M327.7 8.38H328.1M327.7 8.66H329.8M327.7 8.38V8.66M328.1 8.94H334.3M332.0 9.22H334.3M332.0 9.50H334.3M331.6 9.22H332.0M331.6 9.50H332.0M331.6 9.22V9.50M327.7 8.94H328.1M327.7 9.36H331.6M327.7 8.94V9.36M327.3 8.52H327.7M327.3 9.15H327.7M327.3 8.52V9.15M326.9 7.96H331.6M326.9 8.84H327.3M326.9 7.96V8.84M331.4 9.79H334.3M327.9 10.07H334.3M327.9 10.35H334.3M327.5 10.07H327.9M327.5 10.35H327.9M327.5 10.07V10.35M327.1 9.79H331.4M327.1 10.21H327.5M327.1 9.79V10.21M324.5 10.00H327.1M328.4 10.63H334.3M332.2 10.91H334.3M326.7 10.63H328.4M326.7 10.91H332.2M326.7 10.63V10.91M326.7 11.19H334.3M326.3 10.77H326.7M326.3 11.19H326.7M326.3 10.77V11.19M328.3 11.47H334.3M330.1 11.75H334.3M323.8 11.47H328.3M323.8 11.75H330.1M323.8 11.47V11.75M321.5 10.98H326.3M321.5 11.61H323.8M321.5 10.98V11.61M329.7 12.03H334.3M330.7 12.31H334.3M329.3 12.03H329.7M329.3 12.31H330.7M329.3 12.03V12.31M318.7 11.29H321.5M318.7 12.17H329.3M318.7 11.29V12.17M329.8 12.59H334.3M331.6 12.87H334.3M332.1 13.15H334.3M329.6 12.87H331.6M329.6 13.15H332.1M329.6 12.87V13.15M329.2 12.59H329.8M329.2 13.01H329.6M329.2 12.59V13.01M329.5 13.43H334.3M329.4 13.71H334.3M329.4 13.99H334.3M329.0 13.71H329.4M329.0 13.99H329.4M329.0 13.71V13.99M328.6 13.43H329.5M328.6 13.85H329.0M328.6 13.43V13.85M326.2 14.27H334.3M321.8 13.64H328.6M321.8 14.27H326.2M321.8 13.64V14.27M332.3 14.55H334.3M332.3 14.83H334.3M331.9 14.55H332.3M331.9 14.83H332.3M331.9 14.55V14.83M321.4 13.96H321.8M321.4 14.69H331.9M321.4 13.96V14.69M331.9 15.11H334.3M331.9 15.39H334.3M331.5 15.11H331.9M331.5 15.39H331.9M331.5 15.11V15.39M321.0 15.25H331.5M318.4 12.80H329.2M332.2 15.67H334.3M332.2 15.95H334.3M331.8 15.67H332.2M331.8 15.95H332.2M331.8 15.67V15.95M331.8 16.23H334.3M331.4 15.81H331.8M331.4 16.23H331.8M331.4 15.81V16.23M331.8 16.51H334.3M332.2 16.79H334.3M332.6 17.07H334.3M332.6 17.36H334.3M332.2 17.07H332.6M332.2 17.36H332.6M332.2 17.07V17.36M331.8 16.79H332.2M331.8 17.21H332.2M331.8 16.79V17.21M331.4 16.51H331.8M331.4 17.00H331.8M331.4 16.51V17.00M331.0 16.02H331.4M331.0 16.76H331.4M331.0 16.02V16.76M331.4 17.64H334.3M331.4 17.92H334.3M331.0 17.64H331.4M331.0 17.92H331.4M331.0 17.64V17.92M330.6 17.78H331.0M332.0 18.20H334.3M332.0 18.48H334.3M331.6 18.20H332.0M331.6 18.48H332.0M331.6 18.20V18.48M331.6 18.76H334.3M331.2 18.34H331.6M331.2 18.76H331.6M331.2 18.34V18.76M320.0 18.55H331.2M327.8 19.04H334.3M326.2 19.32H334.3M325.8 19.04H327.8M325.8 19.32H326.2M325.8 19.04V19.32M330.3 19.60H334.3M325.4 19.18H325.8M325.4 19.60H330.3M325.4 19.18V19.60M330.1 19.88H334.3M331.5 20.16H334.3M329.7 19.88H330.1M329.7 20.16H331.5M329.7 19.88V20.16M332.3 20.44H334.3M331.8 20.72H334.3M331.4 20.44H332.3M331.4 20.72H331.8M331.4 20.44V20.72M328.3 21.00H334.3M330.3 21.28H334.3M327.9 21.00H328.3M327.9 21.28H330.3M327.9 21.00V21.28M327.5 20.58H331.4M327.5 21.14H327.9M327.5 20.58V21.14M325.4 20.02H329.7M325.4 20.86H327.5M325.4 20.02V20.86M325.0 19.39H325.4M331.4 21.56H334.3M331.8 21.84H334.3M331.8 22.12H334.3M331.4 21.84H331.8M331.4 22.12H331.8M331.4 21.84V22.12M331.0 21.56H331.4M331.0 21.98H331.4M331.0 21.56V21.98M331.0 22.40H334.3M330.6 21.77H331.0M330.6 22.40H331.0M330.6 21.77V22.40M319.1 22.09H330.6M329.9 22.68H334.3M331.5 22.96H334.3M329.5 22.68H329.9M329.5 22.96H331.5M329.5 22.68V22.96M330.7 23.24H334.3M330.7 23.52H334.3M330.3 23.24H330.7M330.3 23.52H330.7M330.3 23.24V23.52M330.3 23.80H334.3M329.9 23.38H330.3M329.9 23.80H330.3M329.9 23.38V23.80M331.2 24.08H334.3M330.7 24.36H334.3M330.3 24.08H331.2M330.3 24.36H330.7M330.3 24.08V24.36M330.7 24.64H334.3M330.7 24.93H334.3M330.3 24.64H330.7M330.3 24.93H330.7M330.3 24.64V24.93M329.9 24.22H330.3M329.9 24.79H330.3M329.9 24.22V24.79M329.5 23.59H329.9M329.5 24.50H329.9M329.5 23.59V24.50M329.1 22.82H329.5M330.6 25.21H334.3M332.1 25.49H334.3M330.2 25.21H330.6M330.2 25.49H332.1M330.2 25.21V25.49M330.6 25.77H334.3M330.6 26.05H334.3M330.2 25.77H330.6M330.2 26.05H330.6M330.2 25.77V26.05M329.8 25.35H330.2M329.8 25.91H330.2M329.8 25.35V25.91M330.3 26.33H334.3M330.6 26.61H334.3M330.6 26.89H334.3M330.2 26.61H330.6M330.2 26.89H330.6M330.2 26.61V26.89M329.8 26.33H330.3M329.8 26.75H330.2M329.8 26.33V26.75M329.4 25.63H329.8M329.4 26.54H329.8M329.4 25.63V26.54M331.8 27.17H334.3M329.5 27.45H334.3M324.5 27.17H331.8M324.5 27.45H329.5M324.5 27.17V27.45M331.8 27.73H334.3M331.8 28.01H334.3M331.4 27.73H331.8M331.4 28.01H331.8M331.4 27.73V28.01M327.8 28.29H334.3M324.5 27.87H331.4M324.5 28.29H327.8M324.5 27.87V28.29M322.9 27.31H324.5M322.9 28.08H324.5M322.9 27.31V28.08M329.0 28.57H334.3M330.0 28.85H334.3M327.0 28.57H329.0M327.0 28.85H330.0M327.0 28.57V28.85M329.2 29.13H334.3M331.6 29.41H334.3M329.6 29.69H334.3M329.2 29.41H331.6M329.2 29.69H329.6M329.2 29.41V29.69M328.8 29.13H329.2M328.8 29.55H329.2M328.8 29.13V29.55M328.8 29.97H334.3M328.4 29.34H328.8M328.4 29.97H328.8M328.4 29.34V29.97M324.3 28.71H327.0M324.3 29.66H328.4M324.3 28.71V29.66M322.5 27.69H322.9M329.3 30.25H334.3M329.1 30.53H334.3M328.7 30.25H329.3M328.7 30.53H329.1M328.7 30.25V30.53M329.3 30.81H334.3M329.3 31.09H334.3M328.9 30.81H329.3M328.9 31.09H329.3M328.9 30.81V31.09M328.3 30.39H328.7M328.3 30.95H328.9M328.3 30.39V30.95M329.3 31.37H334.3M329.2 31.65H334.3M328.8 31.37H329.3M328.8 31.65H329.2M328.8 31.37V31.65M332.2 31.93H334.3M332.2 32.21H334.3M331.8 31.93H332.2M331.8 32.21H332.2M331.8 31.93V32.21M329.2 32.50H334.3M328.8 32.07H331.8M328.8 32.50H329.2M328.8 32.07V32.50M328.4 31.51H328.8M328.4 32.29H328.8M328.4 31.51V32.29M329.2 32.78H334.3M328.0 33.06H334.3M331.1 33.34H334.3M331.5 33.62H334.3M331.5 33.90H334.3M331.1 33.62H331.5M331.1 33.90H331.5M331.1 33.62V33.90M330.7 33.34H331.1M330.7 33.76H331.1M330.7 33.34V33.76M327.6 33.06H328.0M327.6 33.55H330.7M327.6 33.06V33.55M327.2 32.78H329.2M327.2 33.30H327.6M327.2 32.78V33.30M326.4 31.90H328.4M326.4 33.04H327.2M326.0 30.67H328.3M332.2 34.18H334.3M332.2 34.46H334.3M331.8 34.18H332.2M331.8 34.46H332.2M331.8 34.18V34.46M331.0 34.74H334.3M331.0 35.02H334.3M330.6 34.74H331.0M330.6 35.02H331.0M330.6 34.74V35.02M330.2 35.30H334.3M330.2 35.58H334.3M329.8 35.30H330.2M329.8 35.58H330.2M329.8 35.30V35.58M329.4 34.88H330.6M329.4 35.44H329.8M329.4 34.88V35.44M330.9 35.86H334.3M329.0 35.16H329.4M329.0 35.86H330.9M329.0 35.16V35.86M327.5 34.32H331.8M327.5 35.51H329.0M327.5 34.32V35.51M329.8 36.14H334.3M328.3 36.42H334.3M328.7 36.70H334.3M330.7 36.98H334.3M328.3 36.70H328.7M328.3 36.98H330.7M328.3 36.70V36.98M327.9 36.42H328.3M327.9 36.84H328.3M327.9 36.42V36.84M327.5 36.14H329.8M327.5 36.63H327.9M327.5 36.14V36.63M323.4 36.39H327.5M332.1 37.26H334.3M332.1 37.54H334.3M331.7 37.26H332.1M331.7 37.54H332.1M331.7 37.26V37.54M332.2 37.82H334.3M332.2 38.10H334.3M331.8 37.82H332.2M331.8 38.10H332.2M331.8 37.82V38.10M331.3 37.40H331.7M331.3 37.96H331.8M331.3 37.40V37.96M329.4 38.38H334.3M329.4 38.66H334.3M329.0 38.38H329.4M329.0 38.66H329.4M329.0 38.38V38.66M328.6 37.68H331.3M328.6 38.52H329.0M328.6 37.68V38.52M331.9 38.94H334.3M331.9 39.22H334.3M331.5 38.94H331.9M331.5 39.22H331.9M331.5 38.94V39.22M327.6 39.08H331.5M329.9 39.50H334.3M329.9 39.79H334.3M329.5 39.50H329.9M329.5 39.79H329.9M329.5 39.50V39.79M331.0 40.07H334.3M329.1 39.64H329.5M329.1 40.07H331.0M329.1 39.64V40.07M330.7 40.35H334.3M330.1 40.63H334.3M329.7 40.35H330.7M329.7 40.63H330.1M329.7 40.35V40.63M332.2 40.91H334.3M332.2 41.19H334.3M331.8 40.91H332.2M331.8 41.19H332.2M331.8 40.91V41.19M328.5 40.49H329.7M328.5 41.05H331.8M328.5 40.49V41.05M322.1 39.86H329.1M322.1 40.77H328.5M322.1 39.86V40.77M328.6 41.47H334.3M328.6 41.75H334.3M328.2 41.47H328.6M328.2 41.75H328.6M328.2 41.47V41.75M329.7 42.03H334.3M328.9 42.31H334.3M327.3 42.03H329.7M327.3 42.31H328.9M327.3 42.03V42.31M325.6 41.61H328.2M325.6 42.17H327.3M325.6 41.61V42.17M330.9 42.59H334.3M329.8 42.87H334.3M329.8 43.15H334.3M329.4 42.87H329.8M329.4 43.15H329.8M329.4 42.87V43.15M326.8 42.59H330.9M326.8 43.01H329.4M326.8 42.59V43.01M319.7 41.89H325.6M319.7 42.80H326.8M319.7 41.89V42.80M325.8 43.43H334.3M327.9 43.71H334.3M331.5 43.99H334.3M327.5 43.71H327.9M327.5 43.99H331.5M327.5 43.71V43.99M323.9 43.43H325.8M323.9 43.85H327.5M323.9 43.43V43.85M331.7 44.27H334.3M329.3 44.55H334.3M328.9 44.27H331.7M328.9 44.55H329.3M328.9 44.27V44.55M323.5 43.64H323.9M323.5 44.41H328.9M323.5 43.64V44.41M331.8 44.83H334.3M332.2 45.11H334.3M332.2 45.39H334.3M331.8 45.11H332.2M331.8 45.39H332.2M331.8 45.11V45.39M331.4 44.83H331.8M331.4 45.25H331.8M331.4 44.83V45.25M332.2 45.67H334.3M332.2 45.95H334.3M331.8 45.67H332.2M331.8 45.95H332.2M331.8 45.67V45.95M331.8 46.23H334.3M331.4 45.81H331.8M331.4 46.23H331.8M331.4 45.81V46.23M331.0 45.04H331.4M331.0 46.02H331.4M331.0 45.04V46.02M323.1 44.03H323.5M331.5 46.51H334.3M331.5 46.79H334.3M331.1 46.51H331.5M331.1 46.79H331.5M331.1 46.51V46.79M331.1 47.07H334.3M330.7 46.65H331.1M330.7 47.07H331.1M330.7 46.65V47.07M330.0 47.36H334.3M330.5 47.64H334.3M329.6 47.36H330.0M329.6 47.64H330.5M329.6 47.36V47.64M329.6 47.92H334.3M329.2 47.50H329.6M329.2 47.92H329.6M329.2 47.50V47.92M329.2 48.20H334.3M328.8 47.71H329.2M328.8 48.20H329.2M328.8 47.71V48.20M330.1 48.48H334.3M330.1 48.76H334.3M329.7 48.48H330.1M329.7 48.76H330.1M329.7 48.48V48.76M328.4 47.95H328.8M328.4 48.62H329.7M328.4 47.95V48.62M322.6 46.86H330.7M330.2 49.04H334.3M330.2 49.32H334.3M329.8 49.04H330.2M329.8 49.32H330.2M329.8 49.04V49.32M330.2 49.60H334.3M330.2 49.88H334.3M329.8 49.60H330.2M329.8 49.88H330.2M329.8 49.60V49.88M329.4 49.18H329.8M329.4 49.74H329.8M329.4 49.18V49.74M332.0 50.16H334.3M332.0 50.44H334.3M331.6 50.16H332.0M331.6 50.44H332.0M331.6 50.16V50.44M320.9 49.46H329.4M320.9 50.30H331.6M320.9 49.46V50.30M328.5 50.72H334.3M328.5 51.00H334.3M328.1 50.72H328.5M328.1 51.00H328.5M328.1 50.72V51.00M330.2 51.28H334.3M331.3 51.56H334.3M331.3 51.84H334.3M330.9 51.56H331.3M330.9 51.84H331.3M330.9 51.56V51.84M329.0 51.28H330.2M329.0 51.70H330.9M329.0 51.28V51.70M329.0 52.12H334.3M328.6 51.49H329.0M328.6 52.12H329.0M328.6 51.49V52.12M331.2 52.40H334.3M331.2 52.68H334.3M330.8 52.40H331.2M330.8 52.68H331.2M330.8 52.40V52.68M328.2 51.81H328.6M328.2 52.54H330.8M328.2 51.81V52.54M322.4 50.86H328.1M329.3 52.96H334.3M329.8 53.24H334.3M323.3 52.96H329.3M323.3 53.24H329.8M323.3 52.96V53.24M332.0 53.52H334.3M332.4 53.80H334.3M332.4 54.08H334.3M332.0 53.80H332.4M332.0 54.08H332.4M332.0 53.80V54.08M331.6 53.52H332.0M331.6 53.94H332.0M331.6 53.52V53.94M331.8 54.36H334.3M331.2 53.73H331.6M331.2 54.36H331.8M331.2 53.73V54.36M321.6 53.10H323.3M321.6 54.05H331.2M321.6 53.10V54.05M329.3 54.64H334.3M330.4 54.93H334.3M330.4 55.21H334.3M330.0 54.93H330.4M330.0 55.21H330.4M330.0 54.93V55.21M332.1 55.49H334.3M329.6 55.07H330.0M329.6 55.49H332.1M329.6 55.07V55.49M327.2 54.64H329.3M327.2 55.28H329.6M327.2 54.64V55.28M331.0 55.77H334.3M330.4 56.05H334.3M327.2 55.77H331.0M327.2 56.05H330.4M327.2 55.77V56.05M326.8 54.96H327.2M326.8 55.91H327.2M326.8 54.96V55.91M328.7 56.33H334.3M327.6 56.61H334.3M327.6 56.89H334.3M327.2 56.61H327.6M327.2 56.89H327.6M327.2 56.61V56.89M326.8 56.33H328.7M326.8 56.75H327.2M326.8 56.33V56.75M326.4 56.54H326.8M329.9 57.17H334.3M327.2 57.45H334.3M326.8 57.17H329.9M326.8 57.45H327.2M326.8 57.17V57.45M329.8 57.73H334.3M328.4 58.01H334.3M328.0 57.73H329.8M328.0 58.01H328.4M328.0 57.73V58.01M326.4 57.31H326.8M326.4 57.87H328.0M326.4 57.31V57.87M326.0 57.59H326.4M332.5 58.29H334.3M332.5 58.57H334.3M332.1 58.29H332.5M332.1 58.57H332.5M332.1 58.29V58.57M332.1 58.85H334.3M331.7 58.43H332.1M331.7 58.85H332.1M331.7 58.43V58.85M331.7 59.13H334.3M331.3 58.64H331.7M331.3 59.13H331.7M331.3 58.64V59.13M331.7 59.41H334.3M331.7 59.69H334.3M331.3 59.41H331.7M331.3 59.69H331.7M331.3 59.41V59.69M330.9 58.89H331.3M330.9 59.55H331.3M330.9 58.89V59.55M331.3 59.97H334.3M331.7 60.25H334.3M332.2 60.53H334.3M331.3 60.25H331.7M331.3 60.53H332.2M331.3 60.25V60.53M330.9 59.97H331.3M330.9 60.39H331.3M330.9 59.97V60.39M330.5 60.18H330.9M329.0 60.81H334.3M329.0 61.09H334.3M328.6 60.81H329.0M328.6 61.09H329.0M328.6 60.81V61.09M328.6 61.37H334.3M328.2 60.95H328.6M328.2 61.37H328.6M328.2 60.95V61.37M332.2 61.65H334.3M329.0 61.93H334.3M328.6 61.65H332.2M328.6 61.93H329.0M328.6 61.65V61.93M332.0 62.21H334.3M330.0 62.50H334.3M329.4 62.78H334.3M329.0 62.50H330.0M329.0 62.78H329.4M329.0 62.50V62.78M328.6 62.21H332.0M328.6 62.64H329.0M328.6 62.21V62.64M328.2 61.79H328.6M328.2 62.43H328.6M328.2 61.79V62.43M327.8 61.16H328.2M327.8 62.11H328.2M331.7 63.06H334.3M331.7 63.34H334.3M331.3 63.06H331.7M331.3 63.34H331.7M331.3 63.06V63.34M331.7 63.62H334.3M331.7 63.90H334.3M331.3 63.62H331.7M331.3 63.90H331.7M331.3 63.62V63.90M330.9 63.20H331.3M330.9 63.76H331.3M330.9 63.20V63.76M329.3 64.18H334.3M329.4 64.46H334.3M324.2 64.18H329.3M324.2 64.46H329.4M324.2 64.18V64.46M322.0 63.48H330.9M322.0 64.32H324.2M322.0 63.48V64.32M332.3 64.74H334.3M328.2 65.02H334.3M327.8 64.74H332.3M327.8 65.02H328.2M327.8 64.74V65.02M329.5 65.30H334.3M328.2 65.58H334.3M327.8 65.30H329.5M327.8 65.58H328.2M327.8 65.30V65.58M327.4 64.88H327.8M327.4 65.44H327.8M327.4 64.88V65.44M321.6 65.16H327.4M330.6 65.86H334.3M330.6 66.14H334.3M330.2 65.86H330.6M330.2 66.14H330.6M330.2 65.86V66.14M330.2 66.42H334.3M329.8 66.00H330.2M329.8 66.42H330.2M329.8 66.00V66.42M330.3 66.70H334.3M330.3 66.98H334.3M329.9 66.70H330.3M329.9 66.98H330.3M329.9 66.70V66.98M332.0 67.26H334.3M329.5 66.84H329.9M329.5 67.26H332.0M329.5 66.84V67.26M329.1 66.21H329.8M329.1 67.05H329.5M329.1 66.21V67.05M331.0 67.54H334.3M331.0 67.82H334.3M330.6 67.54H331.0M330.6 67.82H331.0M330.6 67.54V67.82M330.6 68.10H334.3M330.2 67.68H330.6M330.2 68.10H330.6M330.2 67.68V68.10M328.7 67.89H330.2M326.0 68.38H334.3M326.5 68.66H334.3M325.6 68.38H326.0M325.6 68.66H326.5M325.6 68.38V68.66M332.4 68.94H334.3M326.9 69.22H334.3M326.5 68.94H332.4M326.5 69.22H326.9M326.5 68.94V69.22M321.4 68.52H325.6M321.4 69.08H326.5M321.4 68.52V69.08M321.0 68.80H321.4M328.7 69.50H334.3M327.5 69.79H334.3M326.8 69.50H328.7M326.8 69.79H327.5M326.8 69.50V69.79M330.4 70.07H334.3M327.6 70.35H334.3M327.2 70.07H330.4M327.2 70.35H327.6M327.2 70.07V70.35M330.8 70.63H334.3M326.8 70.21H327.2M326.8 70.63H330.8M326.8 70.21V70.63M326.4 69.64H326.8M326.4 70.42H326.8M326.4 69.64V70.42M320.6 70.03H326.4M331.4 70.91H334.3M330.4 71.19H334.3M328.4 70.91H331.4M328.4 71.19H330.4M328.4 70.91V71.19M330.2 71.47H334.3M328.0 71.05H328.4M328.0 71.47H330.2M328.0 71.05V71.47M331.2 71.75H334.3M331.6 72.03H334.3M331.6 72.31H334.3M331.2 72.03H331.6M331.2 72.31H331.6M331.2 72.03V72.31M330.8 71.75H331.2M330.8 72.17H331.2M330.8 71.75V72.17M328.8 72.59H334.3M331.5 72.87H334.3M329.6 73.15H334.3M330.4 73.43H334.3M329.2 73.15H329.6M329.2 73.43H330.4M329.2 73.15V73.43M328.8 72.87H331.5M328.8 73.29H329.2M328.8 72.87V73.29M328.4 72.59H328.8M328.4 73.08H328.8M328.4 72.59V73.08M328.0 71.96H330.8M328.0 72.83H328.4M328.0 71.96V72.83M327.6 71.26H328.0M328.3 73.71H334.3M331.4 73.99H334.3M325.8 73.71H328.3M325.8 73.99H331.4M325.8 73.71V73.99M327.6 74.27H334.3M325.4 73.85H325.8M325.4 74.27H327.6M325.4 73.85V74.27M329.8 74.55H334.3M332.4 74.83H334.3M331.3 75.11H334.3M330.9 74.83H332.4M330.9 75.11H331.3M330.9 74.83V75.11M325.4 74.55H329.8M325.4 74.97H330.9M325.4 74.55V74.97M325.0 74.06H325.4M325.0 74.76H325.4M325.0 74.06V74.76M330.9 75.39H334.3M330.1 75.67H334.3M329.6 75.39H330.9M329.6 75.67H330.1M329.6 75.39V75.67M322.6 75.53H329.6M332.2 75.95H334.3M332.2 76.23H334.3M331.8 75.95H332.2M331.8 76.23H332.2M331.8 75.95V76.23M330.1 76.51H334.3M330.1 76.79H334.3M329.7 76.51H330.1M329.7 76.79H330.1M329.7 76.51V76.79M329.3 76.09H331.8M329.3 76.65H329.7M329.3 76.09V76.65M330.9 77.07H334.3M330.9 77.36H334.3M330.5 77.07H330.9M330.5 77.36H330.9M330.5 77.07V77.36M328.9 76.37H329.3M328.9 77.21H330.5M328.9 76.37V77.21M329.3 77.64H334.3M329.8 77.92H334.3M329.7 78.20H334.3M329.3 77.92H329.8M329.3 78.20H329.7M329.3 77.92V78.20M328.9 77.64H329.3M328.9 78.06H329.3M328.9 77.64V78.06M328.5 77.85H328.9M331.8 78.48H334.3M332.2 78.76H334.3M331.4 78.48H331.8M331.4 78.76H332.2M331.4 78.48V78.76M331.8 79.04H334.3M331.8 79.32H334.3M331.4 79.04H331.8M331.4 79.32H331.8M331.4 79.04V79.32M331.0 78.62H331.4M331.0 79.18H331.4M331.0 78.62V79.18M331.8 79.60H334.3M331.8 79.88H334.3M331.4 79.60H331.8M331.4 79.88H331.8M331.4 79.60V79.88M332.2 80.16H334.3M332.2 80.44H334.3M331.8 80.16H332.2M331.8 80.44H332.2M331.8 80.16V80.44M332.2 80.72H334.3M332.2 81.00H334.3M331.8 80.72H332.2M331.8 81.00H332.2M331.8 80.72V81.00M331.4 80.30H331.8M331.4 80.86H331.8M331.4 80.30V80.86M331.0 79.74H331.4M331.0 80.58H331.4M331.0 79.74V80.58M330.6 78.90H331.0M330.3 81.28H334.3M332.1 81.56H334.3M329.9 81.28H330.3M329.9 81.56H332.1M329.9 81.28V81.56M330.7 81.84H334.3M330.7 82.12H334.3M330.3 81.84H330.7M330.3 82.12H330.7M330.3 81.84V82.12M332.2 82.40H334.3M331.5 82.68H334.3M331.1 82.40H332.2M331.1 82.68H331.5M331.1 82.40V82.68M331.1 82.96H334.3M330.7 82.54H331.1M330.7 82.96H331.1M330.7 82.54V82.96M330.7 83.24H334.3M330.3 82.75H330.7M330.3 83.24H330.7M330.3 82.75V83.24M329.9 81.98H330.3M329.9 83.00H330.3M329.9 81.98V83.00M329.5 81.42H329.9M330.5 83.52H334.3M331.2 83.80H334.3M328.3 83.52H330.5M328.3 83.80H331.2M328.3 83.52V83.80M328.4 84.08H334.3M327.9 83.66H328.3M327.9 84.08H328.4M327.9 83.66V84.08M328.7 84.36H334.3M329.6 84.64H334.3M329.2 84.93H334.3M328.8 84.64H329.6M328.8 84.93H329.2M328.8 84.64V84.93M328.3 84.36H328.7M328.3 84.79H328.8M328.3 84.36V84.79M331.8 85.21H334.3M330.6 85.49H334.3M330.2 85.21H331.8M330.2 85.49H330.6M330.2 85.21V85.49M327.9 84.57H328.3M327.9 85.35H330.2M327.9 84.57V85.35M327.5 83.87H327.9M327.5 84.96H327.9M329.6 85.77H334.3M330.3 86.05H334.3M329.2 85.77H329.6M329.2 86.05H330.3M329.2 85.77V86.05M330.4 86.33H334.3M329.2 86.61H334.3M328.1 86.33H330.4M328.1 86.61H329.2M328.1 86.33V86.61M330.2 86.89H334.3M330.2 87.17H334.3M329.8 86.89H330.2M329.8 87.17H330.2M329.8 86.89V87.17M327.7 86.47H328.1M327.7 87.03H329.8M327.7 86.47V87.03M327.3 85.91H329.2M327.3 86.75H327.7M327.3 85.91V86.75M332.1 87.45H334.3M331.4 87.73H334.3M327.7 87.45H332.1M327.7 87.73H331.4M327.7 87.45V87.73M328.1 88.01H334.3M332.2 88.29H334.3M332.2 88.57H334.3M331.8 88.29H332.2M331.8 88.57H332.2M331.8 88.29V88.57M331.8 88.85H334.3M331.4 88.43H331.8M331.4 88.85H331.8M331.4 88.43V88.85M327.7 88.01H328.1M327.7 88.64H331.4M327.7 88.01V88.64M327.3 87.59H327.7M327.3 88.32H327.7M327.3 87.59V88.32M331.8 89.13H334.3M328.9 89.41H334.3M328.5 89.13H331.8M328.5 89.41H328.9M328.5 89.13V89.41M329.3 89.69H334.3M332.0 89.97H334.3M328.9 89.69H329.3M328.9 89.97H332.0M328.9 89.69V89.97M330.9 90.25H334.3M329.3 90.53H334.3M328.9 90.25H330.9M328.9 90.53H329.3M328.9 90.25V90.53M328.5 89.83H328.9M328.5 90.39H328.9M328.5 89.83V90.39M328.1 89.27H328.5M328.1 90.11H328.5M328.1 89.27V90.11M328.5 90.81H334.3M328.5 91.09H334.3M328.1 90.81H328.5M328.1 91.09H328.5M328.1 90.81V91.09M327.7 90.95H328.1M330.5 91.37H334.3M325.1 91.65H334.3M324.2 91.37H330.5M324.2 91.65H325.1M324.2 91.37V91.65M330.8 91.93H334.3M330.8 92.21H334.3M330.4 91.93H330.8M330.4 92.21H330.8M330.4 91.93V92.21M330.8 92.50H334.3M331.5 92.78H334.3M330.4 92.50H330.8M330.4 92.78H331.5M330.4 92.50V92.78M330.0 92.07H330.4M330.0 92.64H330.4M330.0 92.07V92.64M323.8 91.51H324.2M323.8 92.36H330.0M323.8 91.51V92.36M325.2 93.06H334.3M331.4 93.34H334.3M331.4 93.62H334.3M331.0 93.34H331.4M331.0 93.62H331.4M331.0 93.34V93.62M330.0 93.90H334.3M329.6 93.48H331.0M329.6 93.90H330.0M329.6 93.48V93.90M322.4 93.06H325.2M322.4 93.69H329.6M322.4 93.06V93.69M329.5 94.18H334.3M331.8 94.46H334.3M325.6 94.18H329.5M325.6 94.46H331.8M325.6 94.18V94.46M331.9 94.74H334.3M330.3 95.02H334.3M324.5 94.74H331.9M324.5 95.02H330.3M324.5 94.74V95.02M329.5 95.30H334.3M324.1 94.88H324.5M324.1 95.30H329.5M324.1 94.88V95.30M322.7 94.32H325.6M322.7 95.09H324.1M322.7 94.32V95.09M330.3 95.58H334.3M329.8 95.86H334.3M329.4 95.58H330.3M329.4 95.86H329.8M329.4 95.58V95.86M322.3 94.70H322.7M322.3 95.72H329.4M322.3 94.70V95.72M321.9 93.37H322.4M330.5 96.14H334.3M330.5 96.42H334.3M330.1 96.14H330.5M330.1 96.42H330.5M330.1 96.14V96.42M332.1 96.70H334.3M332.1 96.98H334.3M331.7 96.70H332.1M331.7 96.98H332.1M331.7 96.70V96.98M332.5 97.26H334.3M332.5 97.54H334.3M332.1 97.26H332.5M332.1 97.54H332.5M332.1 97.26V97.54M332.1 97.82H334.3M331.7 97.40H332.1M331.7 97.82H332.1M331.7 97.40V97.82M331.3 96.84H331.7M331.3 97.61H331.7M331.3 96.84V97.61M329.7 96.28H330.1M329.7 97.23H331.3M329.7 96.28V97.23M332.1 98.10H334.3M332.5 98.38H334.3M332.5 98.66H334.3M332.1 98.38H332.5M332.1 98.66H332.5M332.1 98.38V98.66M331.7 98.10H332.1M331.7 98.52H332.1M331.7 98.10V98.52M327.7 98.94H334.3M326.0 98.31H331.7M326.0 98.94H327.7M326.0 98.31V98.94M329.8 99.22H334.3M328.1 99.50H334.3M327.7 99.22H329.8M327.7 99.50H328.1M327.7 99.22V99.50M325.2 98.63H326.0M325.2 99.36H327.7M325.2 98.63V99.36M331.3 99.78H334.3M331.7 100.06H334.3M331.7 100.34H334.3M331.3 100.06H331.7M331.3 100.34H331.7M331.3 100.06V100.34M330.9 99.78H331.3M330.9 100.20H331.3M330.9 99.78V100.20M330.5 100.62H334.3M329.8 100.90H334.3M329.4 100.62H330.5M329.4 100.90H329.8M329.4 100.62V100.90M331.0 101.18H334.3M330.2 101.46H334.3M331.8 101.74H334.3M331.8 102.02H334.3M331.4 101.74H331.8M331.4 102.02H331.8M331.4 101.74V102.02M329.8 101.46H330.2M329.8 101.88H331.4M329.8 101.46V101.88M329.4 101.18H331.0M329.4 101.67H329.8M329.4 101.18V101.67M329.0 100.76H329.4M329.0 101.43H329.4M329.0 100.76V101.43M328.6 99.99H330.9M330.9 102.30H334.3M325.8 102.58H334.3M326.0 102.86H334.3M325.4 102.58H325.8M325.4 102.86H326.0M325.4 102.58V102.86M325.0 102.30H330.9M325.0 102.72H325.4M325.0 102.30V102.72M332.4 103.14H334.3M332.4 103.42H334.3M332.0 103.14H332.4M332.0 103.42H332.4M332.0 103.14V103.42M326.0 103.70H334.3M329.0 103.98H334.3M329.3 104.26H334.3M329.3 104.54H334.3M328.9 104.26H329.3M328.9 104.54H329.3M328.9 104.26V104.54M328.5 103.98H329.0M328.5 104.40H328.9M328.5 103.98V104.40M325.6 103.70H326.0M325.6 104.19H328.5M325.6 103.70V104.19M325.2 103.28H332.0M325.2 103.95H325.6M325.2 103.28V103.95M324.6 102.51H325.0M332.5 104.82H334.3M332.5 105.10H334.3M332.1 104.82H332.5M332.1 105.10H332.5M332.1 104.82V105.10M332.1 105.38H334.3M331.7 104.96H332.1M331.7 105.38H332.1M331.7 104.96V105.38M331.7 105.66H334.3M331.3 105.17H331.7M331.3 105.66H331.7M331.3 105.17V105.66M330.6 105.94H334.3M329.0 106.22H334.3M325.2 105.94H330.6M325.2 106.22H329.0M325.2 105.94V106.22M330.9 106.50H334.3M327.3 106.78H334.3M326.7 106.50H330.9M326.7 106.78H327.3M326.7 106.50V106.78M322.8 106.08H325.2M322.8 106.64H326.7M322.8 106.08V106.64M328.3 107.06H334.3M329.4 107.34H334.3M327.9 107.06H328.3M327.9 107.34H329.4M327.9 107.06V107.34M332.1 107.62H334.3M332.3 107.90H334.3M331.7 107.62H332.1M331.7 107.90H332.3M331.7 107.62V107.90M327.5 107.20H327.9M327.5 107.76H331.7M327.5 107.20V107.76M320.8 106.36H322.8M320.8 107.48H327.5M320.4 105.42H331.3M329.9 108.18H334.3M332.2 108.46H334.3M330.3 108.74H334.3M329.9 108.46H332.2M329.9 108.74H330.3M329.9 108.46V108.74M329.5 108.18H329.9M329.5 108.60H329.9M329.5 108.18V108.60M330.0 109.02H334.3M331.5 109.30H334.3M329.6 109.02H330.0M329.6 109.30H331.5M329.6 109.02V109.30M328.2 109.58H334.3M332.4 109.86H334.3M327.8 109.58H328.2M327.8 109.86H332.4M327.8 109.58V109.86M325.5 109.16H329.6M325.5 109.72H327.8M325.5 109.16V109.72M325.1 108.39H329.5M325.1 109.44H325.5M325.1 108.39V109.44M328.3 110.14H334.3M329.4 110.42H334.3M328.7 110.70H334.3M328.3 110.42H329.4M328.3 110.70H328.7M328.3 110.42V110.70M327.9 110.14H328.3M327.9 110.56H328.3M327.9 110.14V110.56M328.1 110.98H334.3M327.5 110.35H327.9M327.5 110.98H328.1M327.5 110.35V110.98M331.5 111.26H334.3M332.0 111.54H334.3M330.7 111.82H334.3M330.3 111.54H332.0M330.3 111.82H330.7M330.3 111.54V111.82M329.9 111.26H331.5M329.9 111.68H330.3M329.9 111.26V111.68M330.3 112.10H334.3M330.3 112.38H334.3M329.9 112.10H330.3M329.9 112.38H330.3M329.9 112.10V112.38M329.5 111.47H329.9M329.5 112.24H329.9M329.5 111.47V112.24M327.1 110.67H327.5M327.1 111.86H329.5M330.5 112.66H334.3M328.8 112.94H334.3M328.4 112.66H330.5M328.4 112.94H328.8M328.4 112.66V112.94M328.8 113.22H334.3M330.3 113.50H334.3M331.7 113.78H334.3M329.9 113.50H330.3M329.9 113.78H331.7M329.9 113.50V113.78M328.4 113.22H328.8M328.4 113.64H329.9M328.4 113.22V113.64M328.0 112.80H328.4M328.0 113.43H328.4M328.0 112.80V113.43M329.9 114.06H334.3M330.2 114.34H334.3M330.6 114.62H334.3M330.6 114.90H334.3M330.2 114.62H330.6M330.2 114.90H330.6M330.2 114.62V114.90M329.8 114.34H330.2M329.8 114.76H330.2M329.8 114.34V114.76M329.4 114.06H329.9M329.4 114.55H329.8M329.4 114.06V114.55M329.6 115.18H334.3M328.9 115.46H334.3M328.2 115.18H329.6M328.2 115.46H328.9M328.2 115.18V115.46M328.1 115.74H334.3M328.1 116.02H334.3M327.7 115.74H328.1M327.7 116.02H328.1M327.7 115.74V116.02M321.8 115.32H328.2M321.8 115.88H327.7M321.8 115.32V115.88M321.4 114.31H329.4M321.4 115.60H321.8M331.0 116.30H334.3M327.3 116.58H334.3M326.9 116.30H331.0M326.9 116.58H327.3M326.9 116.30V116.58M325.8 116.86H334.3M321.7 116.44H326.9M321.7 116.86H325.8M321.7 116.44V116.86M321.0 116.65H321.7M320.6 113.12H328.0M327.8 117.14H334.3M331.2 117.42H334.3M328.2 117.70H334.3M327.8 117.42H331.2M327.8 117.70H328.2M327.8 117.42V117.70M327.4 117.14H327.8M327.4 117.56H327.8M327.4 117.14V117.56M328.6 117.98H334.3M327.0 117.35H327.4M327.0 117.98H328.6M327.0 117.35V117.98M328.7 118.26H334.3M328.7 118.54H334.3M328.3 118.26H328.7M328.3 118.54H328.7M328.3 118.26V118.54M327.4 118.82H334.3M327.0 118.40H328.3M327.0 118.82H327.4M327.0 118.40V118.82M326.6 117.67H327.0M326.6 118.61H327.0M326.6 117.67V118.61M329.7 119.10H334.3M331.3 119.38H334.3M330.1 119.66H334.3M329.7 119.38H331.3M329.7 119.66H330.1M329.7 119.38V119.66M329.3 119.10H329.7M329.3 119.52H329.7M329.3 119.10V119.52M329.3 119.94H334.3M328.9 119.31H329.3M328.9 119.94H329.3M328.9 119.31V119.94M328.4 120.22H334.3M321.0 119.63H328.9M321.0 120.22H328.4M321.0 119.63V120.22M330.1 120.50H334.3M331.6 120.79H334.3M326.1 120.50H330.1M326.1 120.79H331.6M326.1 120.50V120.79M328.4 121.07H334.3M324.2 120.65H326.1M324.2 121.07H328.4M324.2 120.65V121.07M318.1 119.93H321.0M318.1 120.86H324.2M330.8 121.35H334.3M329.1 121.63H334.3M330.1 121.91H334.3M328.3 121.63H329.1M328.3 121.91H330.1M328.3 121.63V121.91M327.9 121.35H330.8M327.9 121.77H328.3M327.9 121.35V121.77M328.3 122.19H334.3M328.3 122.47H334.3M327.9 122.19H328.3M327.9 122.47H328.3M327.9 122.19V122.47M327.5 121.56H327.9M327.5 122.33H327.9M327.5 121.56V122.33M329.9 122.75H334.3M326.5 123.03H334.3M326.1 122.75H329.9M326.1 123.03H326.5M326.1 122.75V123.03M330.6 123.31H334.3M330.6 123.59H334.3M330.2 123.31H330.6M330.2 123.59H330.6M330.2 123.31V123.59M330.2 123.87H334.3M328.0 123.45H330.2M328.0 123.87H330.2M328.0 123.45V123.87M326.9 124.15H334.3M332.2 124.43H334.3M326.5 124.15H326.9M326.5 124.43H332.2M326.5 124.15V124.43M326.1 123.66H328.0M326.1 124.29H326.5M326.1 123.66V124.29M325.7 122.89H326.1M325.7 123.97H326.1M325.7 122.89V123.97M329.8 124.71H334.3M331.7 124.99H334.3M329.4 124.71H329.8M329.4 124.99H331.7M329.4 124.71V124.99M325.3 124.85H329.4M324.9 121.94H327.5M331.1 125.27H334.3M330.8 125.55H334.3M329.8 125.27H331.1M329.8 125.55H330.8M329.8 125.27V125.55M330.5 125.83H334.3M330.5 126.11H334.3M330.1 125.83H330.5M330.1 126.11H330.5M330.1 125.83V126.11M329.4 125.41H329.8M329.4 125.97H330.1M329.4 125.41V125.97M332.2 126.39H334.3M330.2 126.67H334.3M329.8 126.39H332.2M329.8 126.67H330.2M329.8 126.39V126.67M330.6 126.95H334.3M330.6 127.23H334.3M330.2 126.95H330.6M330.2 127.23H330.6M330.2 126.95V127.23M329.4 126.53H329.8M329.4 127.09H330.2M329.4 126.53V127.09M329.0 125.69H329.4M329.0 126.81H329.4M330.0 127.51H334.3M331.7 127.79H334.3M329.6 127.51H330.0M329.6 127.79H331.7M329.6 127.51V127.79M330.9 128.07H334.3M330.0 128.35H334.3M330.0 128.63H334.3M329.6 128.35H330.0M329.6 128.63H330.0M329.6 128.35V128.63M329.2 128.07H330.9M329.2 128.49H329.6M329.2 128.07V128.49M329.2 128.91H334.3M328.8 128.28H329.2M328.8 128.91H329.2M328.8 128.28V128.91M328.4 127.65H329.6M328.4 128.59H328.8M328.4 127.65V128.59M331.0 129.19H334.3M331.4 129.47H334.3M330.6 129.19H331.0M330.6 129.47H331.4M330.6 129.19V129.47M331.7 129.75H334.3M331.0 130.03H334.3M330.6 129.75H331.7M330.6 130.03H331.0M330.6 129.75V130.03M331.7 130.31H334.3M331.0 130.59H334.3M330.6 130.31H331.7M330.6 130.59H331.0M330.6 130.31V130.59M330.2 129.89H330.6M330.2 130.45H330.6M330.2 129.89V130.45M329.8 129.33H330.6M329.8 130.17H330.2M329.8 129.33V130.17M329.6 130.87H334.3M327.3 131.15H334.3M326.9 130.87H329.6M326.9 131.15H327.3M326.9 130.87V131.15M332.4 131.43H334.3M332.1 131.71H334.3M331.7 131.43H332.4M331.7 131.71H332.1M331.7 131.43V131.71M326.5 131.01H326.9M326.5 131.57H331.7M326.5 131.01V131.57M330.4 131.99H334.3M329.8 132.27H334.3M329.4 131.99H330.4M329.4 132.27H329.8M329.4 131.99V132.27M329.4 132.55H334.3M329.0 132.13H329.4M329.0 132.55H329.4M329.0 132.13V132.55M327.3 132.83H334.3M331.9 133.11H334.3M326.9 132.83H327.3M326.9 133.11H331.9M326.9 132.83V133.11M326.5 132.34H329.0M326.5 132.97H326.9M326.5 132.34V132.97M326.1 131.29H326.5M326.1 132.65H326.5M331.5 133.39H334.3M331.5 133.67H334.3M331.1 133.39H331.5M331.1 133.67H331.5M331.1 133.39V133.67M331.8 133.95H334.3M330.7 133.53H331.1M330.7 133.95H331.8M330.7 133.53V133.95M331.7 134.23H334.3M331.3 134.51H334.3M330.9 134.23H331.7M330.9 134.51H331.3M330.9 134.23V134.51M330.9 134.79H334.3M330.5 134.37H330.9M330.5 134.79H330.9M330.5 134.37V134.79M326.8 135.07H334.3M325.6 134.58H330.5M325.6 135.07H326.8M325.6 134.58V135.07M322.8 133.74H330.7M322.8 134.82H325.6M322.8 133.74V134.82M332.1 135.35H334.3M332.1 135.63H334.3M331.7 135.35H332.1M331.7 135.63H332.1M331.7 135.35V135.63M330.0 135.91H334.3M330.8 136.19H334.3M330.8 136.47H334.3M330.4 136.19H330.8M330.4 136.47H330.8M330.4 136.19V136.47M330.4 136.75H334.3M330.0 136.33H330.4M330.0 136.75H330.4M330.0 136.33V136.75M329.6 135.91H330.0M329.6 136.54H330.0M329.6 135.91V136.54M329.2 135.49H331.7M329.2 136.22H329.6M329.2 135.49V136.22M332.2 137.03H334.3M332.2 137.31H334.3M331.8 137.03H332.2M331.8 137.31H332.2M331.8 137.03V137.31M325.7 137.17H331.8M329.9 137.59H334.3M332.4 137.87H334.3M329.5 137.59H329.9M329.5 137.87H332.4M329.5 137.59V137.87M331.0 138.15H334.3M331.0 138.43H334.3M330.6 138.15H331.0M330.6 138.43H331.0M330.6 138.15V138.43M329.1 137.73H329.5M329.1 138.29H330.6M329.1 137.73V138.29M326.1 138.71H334.3M325.7 138.01H329.1M325.7 138.71H326.1M325.7 138.01V138.71M325.3 138.36H325.7M331.4 138.99H334.3M331.4 139.27H334.3M331.0 138.99H331.4M331.0 139.27H331.4M331.0 138.99V139.27M331.4 139.55H334.3M331.4 139.83H334.3M331.0 139.55H331.4M331.0 139.83H331.4M331.0 139.55V139.83M330.6 139.13H331.0M330.6 139.69H331.0M330.6 139.13V139.69M327.7 140.11H334.3M326.0 139.41H330.6M326.0 140.11H327.7M326.0 139.41V140.11M320.1 139.76H326.0M328.1 140.39H334.3M326.6 140.67H334.3M331.4 140.95H334.3M325.9 140.67H326.6M325.9 140.95H331.4M325.9 140.67V140.95M328.0 141.23H334.3M325.5 140.81H325.9M325.5 141.23H328.0M325.5 140.81V141.23M325.1 140.39H328.1M325.1 141.02H325.5M325.1 140.39V141.02M329.5 141.51H334.3M330.3 141.79H334.3M327.8 141.51H329.5M327.8 141.79H330.3M327.8 141.51V141.79M331.1 142.07H334.3M329.0 142.35H334.3M329.0 142.63H334.3M328.6 142.35H329.0M328.6 142.63H329.0M328.6 142.35V142.63M328.2 142.07H331.1M328.2 142.49H328.6M328.2 142.07V142.49M332.2 142.91H334.3M330.8 143.19H334.3M330.4 142.91H332.2M330.4 143.19H330.8M330.4 142.91V143.19M330.4 143.47H334.3M330.0 143.05H330.4M330.0 143.47H330.4M330.0 143.05V143.47M327.8 142.28H328.2M327.8 143.26H330.0M327.8 142.28V143.26M327.4 141.65H327.8M320.9 140.70H325.1M332.4 143.75H334.3M332.4 144.03H334.3M332.0 143.75H332.4M332.0 144.03H332.4M332.0 143.75V144.03M331.8 144.31H334.3M331.4 143.89H332.0M331.4 144.31H331.8M331.4 143.89V144.31M331.8 144.59H334.3M331.8 144.87H334.3M331.4 144.59H331.8M331.4 144.87H331.8M331.4 144.59V144.87M331.0 144.10H331.4M331.0 144.73H331.4M331.0 144.10V144.73M330.6 145.15H334.3M330.6 145.43H334.3M330.2 145.15H330.6M330.2 145.43H330.6M330.2 145.15V145.43M328.4 145.71H334.3M328.4 145.99H334.3M328.0 145.71H328.4M328.0 145.99H328.4M328.0 145.71V145.99M327.6 145.29H330.2M327.6 145.85H328.0M327.6 145.29V145.85M325.6 144.41H331.0M325.6 145.57H327.6M326.8 146.27H334.3M327.7 146.55H334.3M328.3 146.83H334.3M328.7 147.11H334.3M326.9 146.83H328.3M326.9 147.11H328.7M326.9 146.83V147.11M326.4 146.55H327.7M326.4 146.97H326.9M326.4 146.55V146.97M325.6 146.27H326.8M325.6 146.76H326.4M325.6 146.27V146.76M325.2 146.52H325.6M330.6 147.39H334.3M331.0 147.67H334.3M331.0 147.95H334.3M330.6 147.67H331.0M330.6 147.95H331.0M330.6 147.67V147.95M330.2 147.39H330.6M330.2 147.81H330.6M330.2 147.39V147.81M332.4 148.23H334.3M329.8 147.60H330.2M329.8 148.23H332.4M329.8 147.60V148.23M331.0 148.51H334.3M329.8 148.79H334.3M329.3 148.51H331.0M329.3 148.79H329.8M329.3 148.51V148.79M325.7 149.07H334.3M331.5 149.35H334.3M325.3 149.07H325.7M325.3 149.35H331.5M325.3 149.07V149.35M323.1 148.65H329.3M323.1 149.21H325.3M323.1 148.65V149.21M322.7 147.92H329.8M322.7 148.93H323.1M331.8 149.63H334.3M330.5 149.91H334.3M330.5 150.19H334.3M330.1 149.91H330.5M330.1 150.19H330.5M330.1 149.91V150.19M329.7 149.63H331.8M329.7 150.05H330.1M329.7 149.63V150.05M331.0 150.47H334.3M331.0 150.75H334.3M330.6 150.47H331.0M330.6 150.75H331.0M330.6 150.47V150.75M330.6 151.03H334.3M330.2 150.61H330.6M330.2 151.03H330.6M330.2 150.61V151.03M322.2 149.84H329.7M322.2 150.82H330.2M322.2 149.84V150.82M327.1 151.31H334.3M327.0 151.59H334.3M327.1 151.87H334.3M326.6 151.59H327.0M326.6 151.87H327.1M326.6 151.59V151.87M325.7 151.31H327.1M325.7 151.73H326.6M325.7 151.31V151.73M328.5 152.15H334.3M327.8 152.43H334.3M325.7 152.15H328.5M325.7 152.43H327.8M325.7 152.15V152.43M325.3 151.52H325.7M325.3 152.29H325.7M325.3 151.52V152.29M316.7 151.91H325.3M331.5 152.71H334.3M330.6 152.99H334.3M325.1 152.71H331.5M325.1 152.99H330.6M325.1 152.71V152.99M330.6 153.27H334.3M331.4 153.55H334.3M325.5 153.27H330.6M325.5 153.55H331.4M325.5 153.27V153.55M328.8 153.83H334.3M330.5 154.11H334.3M326.3 154.39H334.3M325.9 154.11H330.5M325.9 154.39H326.3M325.9 154.11V154.39M325.5 153.83H328.8M325.5 154.25H325.9M325.5 153.83V154.25M325.1 153.41H325.5M325.1 154.04H325.5M325.1 153.41V154.04M324.7 152.85H325.1M324.7 153.73H325.1M324.7 152.85V153.73M329.9 154.67H334.3M331.0 154.95H334.3M329.1 155.23H334.3M328.7 154.95H331.0M328.7 155.23H329.1M328.7 154.95V155.23M330.6 155.51H334.3M328.3 155.09H328.7M328.3 155.51H330.6M328.3 155.09V155.51M327.9 154.67H329.9M327.9 155.30H328.3M327.9 154.67V155.30M332.4 155.79H334.3M332.4 156.07H334.3M332.0 155.79H332.4M332.0 156.07H332.4M332.0 155.79V156.07M330.0 156.35H334.3M329.6 155.93H332.0M329.6 156.35H330.0M329.6 155.93V156.35M321.7 154.99H327.9M321.7 156.14H329.6M321.7 154.99V156.14M327.5 156.63H334.3M327.5 156.91H334.3M327.1 156.63H327.5M327.1 156.91H327.5M327.1 156.63V156.91M329.3 157.19H334.3M327.5 157.47H334.3M327.1 157.19H329.3M327.1 157.47H327.5M327.1 157.19V157.47M326.7 156.77H327.1M326.7 157.33H327.1M326.7 156.77V157.33M317.4 157.05H326.7M327.7 157.75H334.3M326.8 158.03H334.3M324.8 157.75H327.7M324.8 158.03H326.8M324.8 157.75V158.03M329.9 158.31H334.3M324.4 157.89H324.8M324.4 158.31H329.9M324.4 157.89V158.31M329.0 158.59H334.3M330.3 158.87H334.3M330.3 159.15H334.3M329.9 158.87H330.3M329.9 159.15H330.3M329.9 158.87V159.15M328.6 158.59H329.0M328.6 159.01H329.9M328.6 158.59V159.01M327.8 159.43H334.3M327.4 158.80H328.6M327.4 159.43H327.8M327.4 158.80V159.43M324.0 158.10H324.4M324.0 159.12H327.4M324.0 158.10V159.12M330.9 159.71H334.3M328.2 159.99H334.3M326.1 159.71H330.9M326.1 159.99H328.2M326.1 159.71V159.99M327.5 160.27H334.3M325.7 159.85H326.1M325.7 160.27H327.5M325.7 159.85V160.27M319.8 160.06H325.7M330.9 160.55H334.3M329.9 160.83H334.3M329.9 161.11H334.3M329.5 160.83H329.9M329.5 161.11H329.9M329.5 160.83V161.11M329.1 160.55H330.9M329.1 160.97H329.5M329.1 160.55V160.97M332.3 161.39H334.3M330.3 161.67H334.3M329.9 161.39H332.3M329.9 161.67H330.3M329.9 161.39V161.67M332.0 161.95H334.3M331.7 162.23H334.3M330.1 161.95H332.0M330.1 162.23H331.7M330.1 161.95V162.23M329.0 161.53H329.9M329.0 162.09H330.1M329.0 161.53V162.09M325.0 160.76H329.1M325.0 161.81H329.0M325.0 160.76V161.81M332.2 162.51H334.3M332.2 162.79H334.3M331.8 162.51H332.2M331.8 162.79H332.2M331.8 162.51V162.79M326.4 163.07H334.3M325.7 162.65H331.8M325.7 163.07H326.4M325.7 162.65V163.07M328.8 163.35H334.3M332.0 163.63H334.3M328.4 163.35H328.8M328.4 163.63H332.0M328.4 163.35V163.63M324.5 162.86H325.7M324.5 163.49H328.4M324.5 162.86V163.49M319.1 163.18H324.5M331.4 163.91H334.3M331.8 164.19H334.3M331.8 164.47H334.3M331.4 164.19H331.8M331.4 164.47H331.8M331.4 164.19V164.47M331.0 163.91H331.4M331.0 164.33H331.4M331.0 163.91V164.33M331.8 164.75H334.3M331.8 165.03H334.3M331.4 164.75H331.8M331.4 165.03H331.8M331.4 164.75V165.03M331.4 165.31H334.3M331.0 164.89H331.4M331.0 165.31H331.4M331.0 164.89V165.31M330.6 164.12H331.0M330.6 165.10H331.0M330.6 164.12V165.10M326.2 165.59H334.3M330.5 165.87H334.3M325.8 165.59H326.2M325.8 165.87H330.5M325.8 165.59V165.87M325.4 165.73H325.8M329.9 166.15H334.3M326.6 166.43H334.3M331.1 166.71H334.3M331.8 166.99H334.3M329.7 166.71H331.1M329.7 166.99H331.8M329.7 166.71V166.99M326.2 166.43H326.6M326.2 166.85H329.7M326.2 166.43V166.85M326.2 167.27H334.3M325.8 166.64H326.2M325.8 167.27H326.2M325.8 166.64V167.27M325.4 166.15H329.9M325.4 166.96H325.8M325.4 166.15V166.96M325.0 166.56H325.4M332.3 167.55H334.3M331.8 167.83H334.3M327.9 167.55H332.3M327.9 167.83H331.8M327.9 167.55V167.83M328.5 168.11H334.3M330.7 168.39H334.3M330.9 168.67H334.3M328.9 168.39H330.7M328.9 168.67H330.9M328.9 168.39V168.67M328.9 168.95H334.3M328.5 168.53H328.9M328.5 168.95H328.9M328.5 168.53V168.95M328.1 168.11H328.5M328.1 168.74H328.5M328.1 168.11V168.74M327.5 167.69H327.9M327.5 168.43H328.1M327.5 167.69V168.43M332.3 169.23H334.3M332.3 169.51H334.3M331.9 169.23H332.3M331.9 169.51H332.3M331.9 169.23V169.51M329.9 169.80H334.3M329.5 169.37H331.9M329.5 169.80H329.9M329.5 169.37V169.80M331.2 170.08H334.3M329.9 170.36H334.3M329.5 170.08H331.2M329.5 170.36H329.9M329.5 170.08V170.36M329.1 169.58H329.5M329.1 170.22H329.5M329.1 169.58V170.22M316.9 169.90H329.1M330.5 170.64H334.3M329.4 170.92H334.3M329.4 171.20H334.3M329.0 170.92H329.4M329.0 171.20H329.4M329.0 170.92V171.20M329.0 171.48H334.3M328.6 171.06H329.0M328.6 171.48H329.0M328.6 171.06V171.48M325.5 170.64H330.5M325.5 171.27H328.6M325.5 170.64V171.27M331.4 171.76H334.3M325.1 170.95H325.5M325.1 171.76H331.4M325.1 170.95V171.76M329.4 172.04H334.3M332.0 172.32H334.3M329.0 172.04H329.4M329.0 172.32H332.0M329.0 172.04V172.32M332.3 172.60H334.3M332.0 172.88H334.3M331.6 172.60H332.3M331.6 172.88H332.0M331.6 172.60V172.88M331.6 173.16H334.3M331.2 172.74H331.6M331.2 173.16H331.6M331.2 172.74V173.16M328.6 172.18H329.0M328.6 172.95H331.2M328.6 172.18V172.95M329.8 173.44H334.3M330.9 173.72H334.3M330.4 174.00H334.3M329.4 173.72H330.9M329.4 174.00H330.4M329.4 173.72V174.00M329.0 173.44H329.8M329.0 173.86H329.4M329.0 173.44V173.86M331.6 174.28H334.3M329.8 174.56H334.3M329.4 174.28H331.6M329.4 174.56H329.8M329.4 174.28V174.56M332.2 174.84H334.3M331.8 175.12H334.3M331.4 174.84H332.2M331.4 175.12H331.8M331.4 174.84V175.12M330.2 175.40H334.3M330.2 175.68H334.3M329.8 175.40H330.2M329.8 175.68H330.2M329.8 175.40V175.68M329.4 174.98H331.4M329.4 175.54H329.8M329.4 174.98V175.54M329.0 174.42H329.4M329.0 175.26H329.4M329.0 174.42V175.26M328.6 173.65H329.0M328.2 172.56H328.6M322.1 171.35H325.1M331.3 175.96H334.3M331.3 176.24H334.3M330.9 175.96H331.3M330.9 176.24H331.3M330.9 175.96V176.24M331.7 176.52H334.3M331.7 176.80H334.3M331.3 176.52H331.7M331.3 176.80H331.7M331.3 176.52V176.80M332.1 177.08H334.3M332.4 177.36H334.3M331.7 177.08H332.1M331.7 177.36H332.4M331.7 177.08V177.36M332.1 177.64H334.3M332.1 177.92H334.3M331.7 177.64H332.1M331.7 177.92H332.1M331.7 177.64V177.92M331.3 177.22H331.7M331.3 177.78H331.7M331.3 177.22V177.78M330.9 176.66H331.3M330.9 177.50H331.3M330.9 176.66V177.50M330.5 176.10H330.9M331.3 178.20H334.3M331.3 178.48H334.3M330.9 178.20H331.3M330.9 178.48H331.3M330.9 178.20V178.48M331.3 178.76H334.3M331.7 179.04H334.3M331.7 179.32H334.3M331.3 179.04H331.7M331.3 179.32H331.7M331.3 179.04V179.32M330.9 178.76H331.3M330.9 179.18H331.3M330.9 178.76V179.18M330.5 178.34H330.9M330.5 178.97H330.9M330.5 178.34V178.97M330.1 178.65H330.5M330.1 179.60H334.3M330.1 179.88H334.3M329.7 179.60H330.1M329.7 179.88H330.1M329.7 179.60V179.88M331.9 180.16H334.3M331.7 180.44H334.3M330.5 180.72H334.3M330.1 180.44H331.7M330.1 180.72H330.5M330.1 180.44V180.72M329.7 180.16H331.9M329.7 180.58H330.1M329.7 180.16V180.58M329.3 179.74H329.7M329.3 180.37H329.7M329.3 179.74V180.37M322.5 180.05H329.3M330.5 181.00H334.3M330.9 181.28H334.3M330.9 181.56H334.3M330.5 181.28H330.9M330.5 181.56H330.9M330.5 181.28V181.56M330.1 181.00H330.5M330.1 181.42H330.5M330.1 181.00V181.42M332.1 181.84H334.3M331.9 182.12H334.3M331.5 181.84H332.1M331.5 182.12H331.9M331.5 181.84V182.12M331.5 182.40H334.3M331.1 181.98H331.5M331.1 182.40H331.5M331.1 181.98V182.40M331.1 182.68H334.3M331.1 182.96H334.3M330.7 182.68H331.1M330.7 182.96H331.1M330.7 182.68V182.96M330.3 182.19H331.1M330.3 182.82H330.7M330.3 182.19V182.82M327.2 181.21H330.1M327.2 182.50H330.3M328.5 183.24H334.3M330.1 183.52H334.3M330.1 183.80H334.3M329.7 183.52H330.1M329.7 183.80H330.1M329.7 183.52V183.80M324.5 183.24H328.5M324.5 183.66H329.7M324.5 183.24V183.66M318.7 183.45H324.5M327.1 184.08H334.3M330.1 184.36H334.3M331.9 184.64H334.3M329.7 184.36H330.1M329.7 184.64H331.9M329.7 184.36V184.64M326.3 184.08H327.1M326.3 184.50H329.7M326.3 184.08V184.50M331.4 184.92H334.3M329.5 185.20H334.3M329.1 184.92H331.4M329.1 185.20H329.5M329.1 184.92V185.20M331.0 185.48H334.3M331.0 185.76H334.3M330.6 185.48H331.0M330.6 185.76H331.0M330.6 185.48V185.76M329.6 186.04H334.3M329.6 186.32H334.3M329.2 186.04H329.6M329.2 186.32H329.6M329.2 186.04V186.32M324.9 185.62H330.6M324.9 186.18H329.2M324.9 185.62V186.18M324.0 185.06H329.1M324.0 185.90H324.9M324.0 185.06V185.90M330.4 186.60H334.3M327.3 186.88H334.3M326.9 186.60H330.4M326.9 186.88H327.3M326.9 186.60V186.88M330.5 187.16H334.3M326.5 186.74H326.9M326.5 187.16H330.5M326.5 186.74V187.16M320.7 186.95H326.5M320.3 184.29H326.3M331.0 187.44H334.3M332.1 187.72H334.3M328.3 188.00H334.3M327.9 187.72H332.1M327.9 188.00H328.3M327.9 187.72V188.00M330.2 188.28H334.3M324.7 187.86H327.9M324.7 188.28H330.2M324.7 187.86V188.28M323.2 187.44H331.0M323.2 188.07H324.7M323.2 187.44V188.07M330.9 188.56H334.3M330.9 188.84H334.3M330.5 188.56H330.9M330.5 188.84H330.9M330.5 188.56V188.84M331.7 189.12H334.3M332.1 189.40H334.3M332.1 189.68H334.3M331.7 189.40H332.1M331.7 189.68H332.1M331.7 189.40V189.68M331.3 189.12H331.7M331.3 189.54H331.7M331.3 189.12V189.54M330.1 188.70H330.5M330.1 189.33H331.3M330.1 188.70V189.33M320.2 187.75H323.2M320.2 189.01H330.1M329.9 189.96H334.3M331.1 190.24H334.3M331.2 190.52H334.3M330.7 190.24H331.1M330.7 190.52H331.2M330.7 190.24V190.52M329.5 189.96H329.9M329.5 190.38H330.7M329.5 189.96V190.38M329.9 190.80H334.3M329.9 191.08H334.3M329.5 190.80H329.9M329.5 191.08H329.9M329.5 190.80V191.08M329.1 190.17H329.5M329.1 190.94H329.5M329.1 190.17V190.94M332.2 191.36H334.3M332.2 191.64H334.3M331.8 191.36H332.2M331.8 191.64H332.2M331.8 191.36V191.64M331.4 191.92H334.3M331.3 192.20H334.3M329.3 191.92H331.4M329.3 192.20H331.3M329.3 191.92V192.20M328.9 191.50H331.8M328.9 192.06H329.3M328.9 191.50V192.06M328.4 190.55H329.1M328.4 191.78H328.9M330.6 192.48H334.3M332.0 192.76H334.3M330.2 192.48H330.6M330.2 192.76H332.0M330.2 192.48V192.76M331.5 193.04H334.3M329.8 192.62H330.2M329.8 193.04H331.5M329.8 192.62V193.04M330.8 193.32H334.3M330.8 193.60H334.3M330.4 193.32H330.8M330.4 193.60H330.8M330.4 193.32V193.60M330.8 193.88H334.3M330.8 194.16H334.3M330.4 193.88H330.8M330.4 194.16H330.8M330.4 193.88V194.16M330.0 193.46H330.4M330.0 194.02H330.4M330.0 193.46V194.02M321.8 192.83H329.8M321.8 193.74H330.0M321.8 192.83V193.74" stroke="#000" stroke-width="0.4" fill="none"/><rect x="332.3" y="6.0" width="2" height="187.9" fill="#161616"/>
<rect x="485.5" y="5.9" width="4.3" height="60.3" fill="url(#cb)"/>
<g font-size="9">
<text x="492.5" y="24">1</text><text x="492" y="39.4">0</text><text x="491.2" y="53.3">-1</text>
</g>
<g font-size="10.2">
<text transform="translate(346.5,197.6) rotate(90)" x="0" y="0" dy="0.35em" textLength="23.1" lengthAdjust="spacingAndGlyphs">TPF1</text>
<text transform="translate(369.3,197.6) rotate(90)" x="0" y="0" dy="0.35em" textLength="23.1" lengthAdjust="spacingAndGlyphs">TPF2</text>
<text transform="translate(395.2,197.6) rotate(90)" x="0" y="0" dy="0.35em" textLength="23.1" lengthAdjust="spacingAndGlyphs">TPF3</text>
<text transform="translate(421.6,197.6) rotate(90)" x="0" y="0" dy="0.35em" textLength="23.1" lengthAdjust="spacingAndGlyphs">YYF1</text>
<text transform="translate(443.8,197.6) rotate(90)" x="0" y="0" dy="0.35em" textLength="23.1" lengthAdjust="spacingAndGlyphs">YYF2</text>
<text transform="translate(471.4,197.6) rotate(90)" x="0" y="0" dy="0.35em" textLength="23.1" lengthAdjust="spacingAndGlyphs">YYF3</text>
</g>
<text x="112.55" y="256" font-size="13.3" text-anchor="middle" textLength="55.5" lengthAdjust="spacingAndGlyphs">TPF_YYF</text>
<g fill="#d5caa9"><circle cx="108.6" cy="403.4" r="0.80"/><circle cx="112.5" cy="414.5" r="0.80"/><circle cx="120.1" cy="413.9" r="0.80"/><circle cx="99.4" cy="409.1" r="0.80"/><circle cx="94.5" cy="413.7" r="0.80"/><circle cx="119.9" cy="404.4" r="0.80"/><circle cx="115.9" cy="414.5" r="0.80"/><circle cx="93.3" cy="408.5" r="0.80"/><circle cx="133.7" cy="409.1" r="0.80"/><circle cx="122.7" cy="395.4" r="0.80"/><circle cx="130.4" cy="400.9" r="0.80"/><circle cx="112.5" cy="399.6" r="0.80"/><circle cx="123.5" cy="413.5" r="0.80"/><circle cx="124.7" cy="409.0" r="0.80"/><circle cx="110.7" cy="411.5" r="0.80"/><circle cx="126.4" cy="404.6" r="0.80"/><circle cx="127.5" cy="395.5" r="0.80"/><circle cx="103.2" cy="395.5" r="0.80"/><circle cx="132.7" cy="398.1" r="0.80"/><circle cx="143.2" cy="409.5" r="0.80"/><circle cx="123.7" cy="405.7" r="0.80"/><circle cx="132.5" cy="414.2" r="0.80"/><circle cx="123.3" cy="397.3" r="0.80"/><circle cx="116.4" cy="414.5" r="0.80"/><circle cx="118.7" cy="414.5" r="0.80"/><circle cx="85.0" cy="414.4" r="0.80"/><circle cx="100.9" cy="397.4" r="0.80"/><circle cx="132.3" cy="396.9" r="0.80"/><circle cx="127.0" cy="414.4" r="0.80"/><circle cx="122.1" cy="411.3" r="0.80"/><circle cx="119.2" cy="406.7" r="0.80"/><circle cx="118.7" cy="406.4" r="0.80"/><circle cx="104.1" cy="407.0" r="0.80"/><circle cx="128.7" cy="405.2" r="0.80"/><circle cx="101.5" cy="408.0" r="0.80"/><circle cx="102.4" cy="403.1" r="0.80"/><circle cx="109.0" cy="407.0" r="0.80"/><circle cx="139.4" cy="414.5" r="0.80"/><circle cx="115.1" cy="412.3" r="0.80"/><circle cx="115.1" cy="414.5" r="0.80"/><circle cx="93.5" cy="411.7" r="0.80"/><circle cx="121.6" cy="403.9" r="0.80"/><circle cx="128.7" cy="395.4" r="0.80"/><circle cx="121.5" cy="410.9" r="0.80"/><circle cx="113.1" cy="413.4" r="0.80"/><circle cx="124.1" cy="404.5" r="0.80"/><circle cx="105.9" cy="414.4" r="0.80"/><circle cx="127.0" cy="400.9" r="0.80"/><circle cx="119.3" cy="414.0" r="0.80"/><circle cx="132.1" cy="409.4" r="0.80"/><circle cx="127.7" cy="410.4" r="0.80"/><circle cx="124.8" cy="408.9" r="0.80"/><circle cx="123.5" cy="403.3" r="0.80"/><circle cx="129.0" cy="408.4" r="0.80"/><circle cx="124.3" cy="413.7" r="0.80"/><circle cx="129.8" cy="399.7" r="0.80"/><circle cx="113.8" cy="410.1" r="0.80"/><circle cx="144.6" cy="412.3" r="0.80"/><circle cx="112.6" cy="413.5" r="0.80"/><circle cx="131.5" cy="409.6" r="0.80"/><circle cx="100.1" cy="413.4" r="0.80"/><circle cx="127.1" cy="394.8" r="0.80"/><circle cx="133.3" cy="398.8" r="0.80"/><circle cx="115.2" cy="414.3" r="0.80"/><circle cx="128.6" cy="406.9" r="0.80"/><circle cx="105.6" cy="410.3" r="0.80"/><circle cx="127.2" cy="411.2" r="0.80"/><circle cx="125.3" cy="414.5" r="0.80"/><circle cx="104.3" cy="397.5" r="0.80"/><circle cx="83.3" cy="410.6" r="0.80"/><circle cx="116.4" cy="414.5" r="0.80"/><circle cx="107.0" cy="406.0" r="0.80"/><circle cx="127.7" cy="410.3" r="0.80"/><circle cx="112.1" cy="401.0" r="0.80"/><circle cx="118.2" cy="414.3" r="0.80"/><circle cx="108.7" cy="393.3" r="0.80"/><circle cx="121.7" cy="401.3" r="0.80"/><circle cx="82.5" cy="414.5" r="0.80"/><circle cx="119.9" cy="413.7" r="0.80"/><circle cx="114.5" cy="412.3" r="0.80"/><circle cx="101.8" cy="414.5" r="0.80"/><circle cx="119.2" cy="414.4" r="0.80"/><circle cx="138.0" cy="403.3" r="0.80"/><circle cx="126.4" cy="406.7" r="0.80"/><circle cx="113.4" cy="409.4" r="0.80"/><circle cx="124.0" cy="411.2" r="0.80"/><circle cx="114.5" cy="412.1" r="0.80"/><circle cx="123.7" cy="411.0" r="0.80"/><circle cx="120.2" cy="409.5" r="0.80"/><circle cx="130.2" cy="410.0" r="0.80"/><circle cx="104.7" cy="409.9" r="0.80"/><circle cx="110.1" cy="402.1" r="0.80"/><circle cx="113.3" cy="413.9" r="0.80"/><circle cx="107.5" cy="401.3" r="0.80"/><circle cx="108.4" cy="388.8" r="0.80"/><circle cx="129.1" cy="409.9" r="0.80"/><circle cx="119.7" cy="412.1" r="0.80"/><circle cx="110.0" cy="397.1" r="0.80"/><circle cx="137.7" cy="406.7" r="0.80"/><circle cx="98.5" cy="407.7" r="0.80"/><circle cx="115.9" cy="414.5" r="0.80"/><circle cx="115.8" cy="414.5" r="0.80"/><circle cx="131.2" cy="413.1" r="0.80"/><circle cx="127.1" cy="397.9" r="0.80"/><circle cx="123.8" cy="394.1" r="0.80"/><circle cx="84.2" cy="410.4" r="0.80"/><circle cx="142.7" cy="410.2" r="0.80"/><circle cx="122.6" cy="414.3" r="0.80"/><circle cx="121.7" cy="412.7" r="0.80"/><circle cx="115.4" cy="411.1" r="0.80"/><circle cx="119.4" cy="410.5" r="0.80"/><circle cx="127.3" cy="409.2" r="0.80"/><circle cx="110.2" cy="410.6" r="0.80"/><circle cx="121.5" cy="410.1" r="0.80"/><circle cx="79.6" cy="414.0" r="0.80"/><circle cx="130.1" cy="401.9" r="0.80"/><circle cx="98.7" cy="406.2" r="0.80"/><circle cx="114.7" cy="414.4" r="0.80"/><circle cx="116.4" cy="414.3" r="0.80"/><circle cx="97.2" cy="405.2" r="0.80"/><circle cx="116.0" cy="413.7" r="0.80"/><circle cx="122.4" cy="413.5" r="0.80"/><circle cx="129.2" cy="402.7" r="0.80"/><circle cx="114.5" cy="408.3" r="0.80"/><circle cx="115.9" cy="414.5" r="0.80"/><circle cx="122.7" cy="411.4" r="0.80"/><circle cx="111.7" cy="402.8" r="0.80"/><circle cx="122.5" cy="390.4" r="0.80"/><circle cx="108.7" cy="392.2" r="0.80"/><circle cx="106.3" cy="405.5" r="0.80"/><circle cx="113.5" cy="412.8" r="0.80"/><circle cx="86.3" cy="405.0" r="0.80"/><circle cx="117.4" cy="412.9" r="0.80"/><circle cx="128.0" cy="395.0" r="0.80"/><circle cx="117.1" cy="414.4" r="0.80"/><circle cx="122.2" cy="403.6" r="0.80"/><circle cx="126.3" cy="396.7" r="0.80"/><circle cx="112.7" cy="412.0" r="0.80"/><circle cx="122.5" cy="397.9" r="0.80"/><circle cx="118.6" cy="413.6" r="0.80"/><circle cx="116.1" cy="414.3" r="0.80"/><circle cx="115.7" cy="413.7" r="0.80"/><circle cx="97.9" cy="410.7" r="0.80"/><circle cx="105.5" cy="413.6" r="0.80"/><circle cx="114.4" cy="407.6" r="0.80"/><circle cx="110.0" cy="414.3" r="0.80"/><circle cx="85.0" cy="408.2" r="0.80"/><circle cx="127.2" cy="402.6" r="0.80"/><circle cx="120.8" cy="405.0" r="0.80"/><circle cx="97.4" cy="406.0" r="0.80"/><circle cx="124.3" cy="411.3" r="0.80"/><circle cx="128.5" cy="403.1" r="0.80"/><circle cx="121.8" cy="406.6" r="0.80"/><circle cx="128.0" cy="397.1" r="0.80"/><circle cx="142.6" cy="413.9" r="0.80"/><circle cx="130.7" cy="403.0" r="0.80"/><circle cx="104.8" cy="408.2" r="0.80"/><circle cx="112.3" cy="414.1" r="0.80"/><circle cx="113.5" cy="411.1" r="0.80"/><circle cx="91.0" cy="411.9" r="0.80"/><circle cx="103.5" cy="414.3" r="0.80"/><circle cx="128.4" cy="412.0" r="0.80"/><circle cx="108.0" cy="409.6" r="0.80"/><circle cx="122.8" cy="399.8" r="0.80"/><circle cx="119.0" cy="413.9" r="0.80"/><circle cx="113.1" cy="414.4" r="0.80"/><circle cx="115.2" cy="414.3" r="0.80"/><circle cx="111.1" cy="402.5" r="0.80"/><circle cx="116.4" cy="414.5" r="0.80"/><circle cx="105.0" cy="412.7" r="0.80"/><circle cx="111.3" cy="413.4" r="0.80"/><circle cx="112.2" cy="414.5" r="0.80"/><circle cx="146.3" cy="412.1" r="0.80"/><circle cx="103.2" cy="405.9" r="0.80"/><circle cx="140.2" cy="412.4" r="0.80"/><circle cx="113.2" cy="411.6" r="0.80"/><circle cx="116.4" cy="414.1" r="0.80"/><circle cx="115.5" cy="413.6" r="0.80"/><circle cx="111.1" cy="408.8" r="0.80"/><circle cx="118.0" cy="413.2" r="0.80"/><circle cx="97.6" cy="399.9" r="0.80"/><circle cx="123.5" cy="414.1" r="0.80"/><circle cx="113.0" cy="412.9" r="0.80"/><circle cx="114.6" cy="414.5" r="0.80"/><circle cx="123.6" cy="393.1" r="0.80"/><circle cx="110.7" cy="414.2" r="0.80"/><circle cx="87.8" cy="408.1" r="0.80"/><circle cx="95.3" cy="411.6" r="0.80"/><circle cx="144.9" cy="411.4" r="0.80"/><circle cx="103.7" cy="407.9" r="0.80"/><circle cx="120.0" cy="414.1" r="0.80"/><circle cx="117.5" cy="413.7" r="0.80"/><circle cx="100.7" cy="405.4" r="0.80"/><circle cx="114.5" cy="412.9" r="0.80"/><circle cx="108.6" cy="387.9" r="0.80"/><circle cx="122.3" cy="411.9" r="0.80"/><circle cx="105.1" cy="412.3" r="0.80"/><circle cx="114.5" cy="414.2" r="0.80"/><circle cx="127.4" cy="412.7" r="0.80"/><circle cx="124.2" cy="413.9" r="0.80"/><circle cx="117.6" cy="414.5" r="0.80"/><circle cx="118.4" cy="412.9" r="0.80"/><circle cx="126.0" cy="408.7" r="0.80"/><circle cx="119.0" cy="414.5" r="0.80"/><circle cx="115.0" cy="408.3" r="0.80"/><circle cx="117.8" cy="414.5" r="0.80"/><circle cx="122.8" cy="412.0" r="0.80"/><circle cx="127.0" cy="414.2" r="0.80"/><circle cx="112.3" cy="411.1" r="0.80"/><circle cx="162.0" cy="413.2" r="0.80"/><circle cx="115.0" cy="412.1" r="0.80"/><circle cx="132.5" cy="414.0" r="0.80"/><circle cx="137.2" cy="414.5" r="0.80"/><circle cx="114.4" cy="414.5" r="0.80"/><circle cx="119.4" cy="409.9" r="0.80"/><circle cx="117.8" cy="414.4" r="0.80"/><circle cx="70.0" cy="407.4" r="0.80"/><circle cx="123.4" cy="414.5" r="0.80"/><circle cx="100.1" cy="414.1" r="0.80"/><circle cx="103.5" cy="399.3" r="0.80"/><circle cx="110.6" cy="403.7" r="0.80"/><circle cx="125.6" cy="412.8" r="0.80"/><circle cx="113.6" cy="411.1" r="0.80"/><circle cx="87.0" cy="412.2" r="0.80"/><circle cx="118.6" cy="412.9" r="0.80"/><circle cx="131.6" cy="413.2" r="0.80"/><circle cx="97.2" cy="410.8" r="0.80"/><circle cx="108.2" cy="413.9" r="0.80"/><circle cx="134.0" cy="403.6" r="0.80"/><circle cx="119.1" cy="414.4" r="0.80"/><circle cx="123.5" cy="392.8" r="0.80"/><circle cx="97.9" cy="409.8" r="0.80"/><circle cx="115.1" cy="413.8" r="0.80"/><circle cx="108.8" cy="410.2" r="0.80"/><circle cx="143.4" cy="414.1" r="0.80"/><circle cx="123.5" cy="403.3" r="0.80"/><circle cx="121.4" cy="406.9" r="0.80"/><circle cx="118.1" cy="414.5" r="0.80"/><circle cx="122.6" cy="407.4" r="0.80"/><circle cx="115.3" cy="411.5" r="0.80"/><circle cx="121.3" cy="414.0" r="0.80"/><circle cx="106.1" cy="414.0" r="0.80"/><circle cx="119.2" cy="404.3" r="0.80"/><circle cx="117.8" cy="410.4" r="0.80"/><circle cx="110.6" cy="397.8" r="0.80"/><circle cx="119.0" cy="410.7" r="0.80"/><circle cx="126.6" cy="404.2" r="0.80"/><circle cx="110.8" cy="414.3" r="0.80"/><circle cx="92.8" cy="413.3" r="0.80"/><circle cx="107.7" cy="407.3" r="0.80"/><circle cx="129.4" cy="407.9" r="0.80"/><circle cx="120.3" cy="410.3" r="0.80"/><circle cx="96.6" cy="407.5" r="0.80"/><circle cx="122.5" cy="412.1" r="0.80"/><circle cx="102.5" cy="414.0" r="0.80"/><circle cx="124.5" cy="413.9" r="0.80"/><circle cx="108.7" cy="382.6" r="0.80"/><circle cx="85.0" cy="405.9" r="0.80"/><circle cx="98.1" cy="400.9" r="0.80"/><circle cx="147.6" cy="411.2" r="0.80"/><circle cx="71.7" cy="407.4" r="0.80"/><circle cx="133.1" cy="399.1" r="0.80"/><circle cx="128.1" cy="411.2" r="0.80"/><circle cx="124.5" cy="402.2" r="0.80"/><circle cx="116.4" cy="414.4" r="0.80"/><circle cx="109.6" cy="399.4" r="0.80"/><circle cx="114.9" cy="414.0" r="0.80"/><circle cx="120.6" cy="414.4" r="0.80"/><circle cx="117.7" cy="410.2" r="0.80"/><circle cx="76.2" cy="407.9" r="0.80"/><circle cx="120.6" cy="411.4" r="0.80"/><circle cx="123.0" cy="407.6" r="0.80"/><circle cx="120.9" cy="411.2" r="0.80"/><circle cx="106.3" cy="398.8" r="0.80"/><circle cx="117.3" cy="414.5" r="0.80"/><circle cx="132.4" cy="407.7" r="0.80"/><circle cx="118.0" cy="414.3" r="0.80"/><circle cx="120.9" cy="411.1" r="0.80"/><circle cx="132.7" cy="414.4" r="0.80"/><circle cx="93.0" cy="414.5" r="0.80"/><circle cx="115.1" cy="412.9" r="0.80"/><circle cx="119.0" cy="413.7" r="0.80"/><circle cx="119.5" cy="413.9" r="0.80"/><circle cx="108.0" cy="408.9" r="0.80"/><circle cx="100.9" cy="401.7" r="0.80"/><circle cx="99.5" cy="413.7" r="0.80"/><circle cx="121.2" cy="401.8" r="0.80"/><circle cx="106.5" cy="411.3" r="0.80"/><circle cx="129.0" cy="397.5" r="0.80"/><circle cx="119.0" cy="412.6" r="0.80"/><circle cx="142.5" cy="408.9" r="0.80"/><circle cx="109.7" cy="407.7" r="0.80"/><circle cx="122.0" cy="392.4" r="0.80"/><circle cx="128.6" cy="409.2" r="0.80"/><circle cx="101.5" cy="409.0" r="0.80"/><circle cx="129.8" cy="413.3" r="0.80"/><circle cx="107.7" cy="396.2" r="0.80"/><circle cx="114.4" cy="406.6" r="0.80"/><circle cx="136.7" cy="408.4" r="0.80"/><circle cx="118.8" cy="413.9" r="0.80"/><circle cx="122.8" cy="403.9" r="0.80"/><circle cx="114.5" cy="412.4" r="0.80"/><circle cx="138.4" cy="413.3" r="0.80"/><circle cx="111.0" cy="414.0" r="0.80"/><circle cx="120.2" cy="413.7" r="0.80"/><circle cx="96.5" cy="400.8" r="0.80"/><circle cx="111.1" cy="414.2" r="0.80"/><circle cx="121.0" cy="396.8" r="0.80"/><circle cx="117.3" cy="414.5" r="0.80"/><circle cx="122.4" cy="402.0" r="0.80"/><circle cx="97.0" cy="414.5" r="0.80"/><circle cx="104.8" cy="395.2" r="0.80"/><circle cx="115.5" cy="414.2" r="0.80"/><circle cx="126.5" cy="414.3" r="0.80"/><circle cx="121.3" cy="398.8" r="0.80"/><circle cx="115.3" cy="409.2" r="0.80"/><circle cx="111.4" cy="414.5" r="0.80"/><circle cx="109.7" cy="413.9" r="0.80"/><circle cx="124.4" cy="414.5" r="0.80"/><circle cx="68.8" cy="411.3" r="0.80"/><circle cx="123.4" cy="387.1" r="0.80"/><circle cx="122.0" cy="414.2" r="0.80"/><circle cx="122.3" cy="395.1" r="0.80"/><circle cx="122.4" cy="413.9" r="0.80"/><circle cx="116.1" cy="412.7" r="0.80"/><circle cx="114.4" cy="414.5" r="0.80"/><circle cx="109.4" cy="398.6" r="0.80"/><circle cx="100.7" cy="407.6" r="0.80"/><circle cx="112.5" cy="410.2" r="0.80"/><circle cx="123.0" cy="391.4" r="0.80"/><circle cx="136.6" cy="413.4" r="0.80"/><circle cx="125.1" cy="412.6" r="0.80"/><circle cx="112.1" cy="414.5" r="0.80"/><circle cx="72.0" cy="414.2" r="0.80"/><circle cx="126.1" cy="396.4" r="0.80"/><circle cx="140.4" cy="409.6" r="0.80"/><circle cx="115.3" cy="414.5" r="0.80"/><circle cx="112.0" cy="408.3" r="0.80"/><circle cx="118.4" cy="412.9" r="0.80"/><circle cx="113.2" cy="409.9" r="0.80"/><circle cx="139.0" cy="402.1" r="0.80"/><circle cx="123.2" cy="388.5" r="0.80"/><circle cx="110.4" cy="414.2" r="0.80"/><circle cx="115.7" cy="413.1" r="0.80"/><circle cx="108.7" cy="383.9" r="0.80"/><circle cx="106.0" cy="397.0" r="0.80"/><circle cx="121.1" cy="409.9" r="0.80"/><circle cx="114.2" cy="413.0" r="0.80"/><circle cx="112.6" cy="404.9" r="0.80"/><circle cx="121.8" cy="393.6" r="0.80"/><circle cx="109.8" cy="413.5" r="0.80"/><circle cx="123.5" cy="393.5" r="0.80"/><circle cx="105.5" cy="409.9" r="0.80"/><circle cx="107.8" cy="408.9" r="0.80"/><circle cx="116.1" cy="412.9" r="0.80"/><circle cx="120.3" cy="412.7" r="0.80"/><circle cx="125.4" cy="413.2" r="0.80"/><circle cx="113.6" cy="414.5" r="0.80"/><circle cx="123.0" cy="392.2" r="0.80"/><circle cx="115.3" cy="410.9" r="0.80"/><circle cx="87.3" cy="411.4" r="0.80"/><circle cx="140.0" cy="411.5" r="0.80"/><circle cx="128.9" cy="397.7" r="0.80"/><circle cx="122.6" cy="406.4" r="0.80"/><circle cx="131.7" cy="414.4" r="0.80"/><circle cx="133.0" cy="413.2" r="0.80"/><circle cx="117.4" cy="414.1" r="0.80"/><circle cx="105.4" cy="403.3" r="0.80"/><circle cx="121.6" cy="414.4" r="0.80"/><circle cx="112.7" cy="411.8" r="0.80"/><circle cx="110.5" cy="389.5" r="0.80"/><circle cx="126.5" cy="408.5" r="0.80"/><circle cx="117.7" cy="411.6" r="0.80"/><circle cx="106.6" cy="396.3" r="0.80"/><circle cx="122.2" cy="411.5" r="0.80"/><circle cx="115.3" cy="409.9" r="0.80"/><circle cx="115.0" cy="412.6" r="0.80"/><circle cx="117.7" cy="411.3" r="0.80"/><circle cx="126.3" cy="411.1" r="0.80"/><circle cx="99.7" cy="413.0" r="0.80"/><circle cx="107.5" cy="395.1" r="0.80"/><circle cx="104.7" cy="410.2" r="0.80"/><circle cx="112.3" cy="399.9" r="0.80"/><circle cx="115.8" cy="414.5" r="0.80"/><circle cx="110.7" cy="412.6" r="0.80"/><circle cx="120.8" cy="403.1" r="0.80"/><circle cx="103.4" cy="413.7" r="0.80"/><circle cx="108.0" cy="413.6" r="0.80"/><circle cx="120.2" cy="411.2" r="0.80"/><circle cx="126.4" cy="414.2" r="0.80"/><circle cx="103.4" cy="409.8" r="0.80"/><circle cx="116.6" cy="414.4" r="0.80"/><circle cx="123.4" cy="414.3" r="0.80"/><circle cx="106.1" cy="411.9" r="0.80"/><circle cx="123.8" cy="413.5" r="0.80"/><circle cx="109.1" cy="397.8" r="0.80"/><circle cx="113.2" cy="410.8" r="0.80"/><circle cx="110.1" cy="414.5" r="0.80"/><circle cx="104.4" cy="398.5" r="0.80"/><circle cx="110.6" cy="394.6" r="0.80"/><circle cx="110.7" cy="413.6" r="0.80"/><circle cx="131.0" cy="396.1" r="0.80"/><circle cx="115.9" cy="414.4" r="0.80"/><circle cx="103.1" cy="406.0" r="0.80"/><circle cx="128.6" cy="406.7" r="0.80"/><circle cx="97.3" cy="402.2" r="0.80"/><circle cx="118.1" cy="413.2" r="0.80"/><circle cx="119.2" cy="414.4" r="0.80"/><circle cx="107.2" cy="405.3" r="0.80"/><circle cx="130.7" cy="407.0" r="0.80"/><circle cx="82.6" cy="407.8" r="0.80"/><circle cx="116.0" cy="413.4" r="0.80"/><circle cx="118.8" cy="413.6" r="0.80"/><circle cx="110.6" cy="403.1" r="0.80"/><circle cx="113.9" cy="413.1" r="0.80"/><circle cx="109.4" cy="399.7" r="0.80"/><circle cx="114.1" cy="413.1" r="0.80"/><circle cx="107.0" cy="413.7" r="0.80"/><circle cx="122.8" cy="409.3" r="0.80"/><circle cx="111.3" cy="414.4" r="0.80"/><circle cx="116.4" cy="413.9" r="0.80"/><circle cx="100.9" cy="414.2" r="0.80"/><circle cx="115.7" cy="414.2" r="0.80"/><circle cx="163.6" cy="411.8" r="0.80"/><circle cx="130.8" cy="412.0" r="0.80"/><circle cx="129.9" cy="407.4" r="0.80"/><circle cx="127.0" cy="412.2" r="0.80"/><circle cx="127.4" cy="396.2" r="0.80"/><circle cx="102.9" cy="403.3" r="0.80"/><circle cx="119.3" cy="404.0" r="0.80"/><circle cx="126.1" cy="399.6" r="0.80"/><circle cx="113.2" cy="411.3" r="0.80"/><circle cx="110.6" cy="396.1" r="0.80"/><circle cx="92.7" cy="410.9" r="0.80"/><circle cx="116.0" cy="414.4" r="0.80"/><circle cx="109.2" cy="414.5" r="0.80"/><circle cx="112.2" cy="407.6" r="0.80"/><circle cx="117.1" cy="412.5" r="0.80"/><circle cx="98.1" cy="404.7" r="0.80"/><circle cx="127.3" cy="400.8" r="0.80"/><circle cx="122.0" cy="413.8" r="0.80"/><circle cx="130.8" cy="408.2" r="0.80"/><circle cx="113.5" cy="414.3" r="0.80"/><circle cx="110.8" cy="414.1" r="0.80"/><circle cx="106.3" cy="403.8" r="0.80"/><circle cx="117.8" cy="414.5" r="0.80"/><circle cx="118.0" cy="413.7" r="0.80"/><circle cx="128.5" cy="411.8" r="0.80"/><circle cx="115.8" cy="414.5" r="0.80"/><circle cx="114.9" cy="414.5" r="0.80"/><circle cx="111.5" cy="412.7" r="0.80"/><circle cx="154.3" cy="412.5" r="0.80"/><circle cx="133.4" cy="409.5" r="0.80"/><circle cx="111.4" cy="410.7" r="0.80"/><circle cx="126.5" cy="410.0" r="0.80"/><circle cx="113.2" cy="413.4" r="0.80"/><circle cx="118.6" cy="412.3" r="0.80"/><circle cx="116.1" cy="414.5" r="0.80"/><circle cx="118.5" cy="414.3" r="0.80"/><circle cx="115.2" cy="412.6" r="0.80"/><circle cx="143.0" cy="407.1" r="0.80"/><circle cx="109.9" cy="414.4" r="0.80"/><circle cx="122.6" cy="409.1" r="0.80"/><circle cx="126.9" cy="403.8" r="0.80"/><circle cx="111.5" cy="414.3" r="0.80"/><circle cx="128.9" cy="394.4" r="0.80"/><circle cx="123.8" cy="407.9" r="0.80"/><circle cx="116.9" cy="414.3" r="0.80"/><circle cx="136.4" cy="409.6" r="0.80"/><circle cx="112.1" cy="399.3" r="0.80"/><circle cx="99.7" cy="405.2" r="0.80"/><circle cx="109.4" cy="412.3" r="0.80"/><circle cx="117.9" cy="412.6" r="0.80"/><circle cx="119.1" cy="404.7" r="0.80"/><circle cx="116.0" cy="414.5" r="0.80"/><circle cx="90.3" cy="410.2" r="0.80"/><circle cx="111.4" cy="414.4" r="0.80"/><circle cx="76.6" cy="414.5" r="0.80"/><circle cx="114.9" cy="411.4" r="0.80"/><circle cx="94.9" cy="408.6" r="0.80"/><circle cx="123.1" cy="409.5" r="0.80"/><circle cx="129.8" cy="402.2" r="0.80"/><circle cx="117.9" cy="413.4" r="0.80"/><circle cx="108.7" cy="397.3" r="0.80"/><circle cx="146.1" cy="411.1" r="0.80"/><circle cx="115.0" cy="414.2" r="0.80"/><circle cx="119.2" cy="410.9" r="0.80"/><circle cx="118.2" cy="414.3" r="0.80"/><circle cx="120.2" cy="413.8" r="0.80"/><circle cx="103.5" cy="409.0" r="0.80"/><circle cx="113.5" cy="407.9" r="0.80"/><circle cx="100.1" cy="412.1" r="0.80"/><circle cx="127.2" cy="412.2" r="0.80"/><circle cx="106.8" cy="400.8" r="0.80"/><circle cx="108.9" cy="396.6" r="0.80"/><circle cx="109.2" cy="409.6" r="0.80"/><circle cx="123.7" cy="410.7" r="0.80"/><circle cx="109.1" cy="413.6" r="0.80"/><circle cx="82.7" cy="408.2" r="0.80"/><circle cx="125.1" cy="394.3" r="0.80"/><circle cx="115.5" cy="414.5" r="0.80"/><circle cx="123.4" cy="394.3" r="0.80"/><circle cx="112.3" cy="411.7" r="0.80"/><circle cx="120.1" cy="412.3" r="0.80"/><circle cx="132.6" cy="409.4" r="0.80"/><circle cx="116.5" cy="414.2" r="0.80"/><circle cx="118.3" cy="413.6" r="0.80"/><circle cx="114.4" cy="407.4" r="0.80"/><circle cx="120.2" cy="414.0" r="0.80"/><circle cx="123.9" cy="411.8" r="0.80"/><circle cx="135.2" cy="412.9" r="0.80"/><circle cx="108.4" cy="406.9" r="0.80"/><circle cx="113.4" cy="405.4" r="0.80"/><circle cx="117.5" cy="414.5" r="0.80"/><circle cx="100.5" cy="412.9" r="0.80"/><circle cx="135.1" cy="400.7" r="0.80"/><circle cx="112.9" cy="414.4" r="0.80"/><circle cx="134.3" cy="412.3" r="0.80"/><circle cx="123.1" cy="390.4" r="0.80"/><circle cx="123.2" cy="403.2" r="0.80"/><circle cx="113.1" cy="402.9" r="0.80"/><circle cx="109.5" cy="405.1" r="0.80"/><circle cx="127.1" cy="413.6" r="0.80"/><circle cx="134.0" cy="411.2" r="0.80"/><circle cx="119.3" cy="413.5" r="0.80"/><circle cx="112.2" cy="411.9" r="0.80"/><circle cx="126.6" cy="411.1" r="0.80"/><circle cx="118.3" cy="410.6" r="0.80"/><circle cx="107.4" cy="413.6" r="0.80"/><circle cx="122.3" cy="411.6" r="0.80"/><circle cx="108.5" cy="391.0" r="0.80"/><circle cx="111.2" cy="414.5" r="0.80"/><circle cx="122.9" cy="409.3" r="0.80"/><circle cx="107.2" cy="400.9" r="0.80"/><circle cx="119.5" cy="402.7" r="0.80"/><circle cx="120.2" cy="405.4" r="0.80"/><circle cx="112.6" cy="414.4" r="0.80"/><circle cx="125.5" cy="395.7" r="0.80"/><circle cx="73.8" cy="414.4" r="0.80"/><circle cx="128.0" cy="408.2" r="0.80"/><circle cx="133.0" cy="402.3" r="0.80"/><circle cx="93.0" cy="409.2" r="0.80"/><circle cx="100.7" cy="399.8" r="0.80"/><circle cx="130.7" cy="411.7" r="0.80"/><circle cx="131.7" cy="414.4" r="0.80"/><circle cx="116.1" cy="414.0" r="0.80"/><circle cx="109.5" cy="413.5" r="0.80"/><circle cx="115.8" cy="412.5" r="0.80"/><circle cx="94.8" cy="414.5" r="0.80"/><circle cx="94.2" cy="413.1" r="0.80"/><circle cx="111.4" cy="414.3" r="0.80"/><circle cx="98.7" cy="405.6" r="0.80"/><circle cx="120.2" cy="407.1" r="0.80"/><circle cx="124.7" cy="413.1" r="0.80"/><circle cx="111.1" cy="396.5" r="0.80"/><circle cx="108.5" cy="399.1" r="0.80"/><circle cx="123.3" cy="411.9" r="0.80"/><circle cx="118.8" cy="414.5" r="0.80"/><circle cx="103.7" cy="402.3" r="0.80"/><circle cx="98.5" cy="410.0" r="0.80"/><circle cx="129.0" cy="413.9" r="0.80"/><circle cx="109.9" cy="389.8" r="0.80"/><circle cx="107.8" cy="407.1" r="0.80"/><circle cx="99.2" cy="408.8" r="0.80"/><circle cx="109.4" cy="408.2" r="0.80"/><circle cx="126.4" cy="410.9" r="0.80"/><circle cx="142.3" cy="414.3" r="0.80"/><circle cx="103.8" cy="412.7" r="0.80"/><circle cx="121.4" cy="414.3" r="0.80"/><circle cx="116.4" cy="414.5" r="0.80"/><circle cx="116.5" cy="414.0" r="0.80"/><circle cx="110.0" cy="403.5" r="0.80"/><circle cx="111.4" cy="405.5" r="0.80"/><circle cx="107.2" cy="414.3" r="0.80"/><circle cx="123.3" cy="412.2" r="0.80"/><circle cx="108.5" cy="407.2" r="0.80"/><circle cx="101.9" cy="407.7" r="0.80"/><circle cx="126.7" cy="409.7" r="0.80"/><circle cx="120.9" cy="412.7" r="0.80"/><circle cx="121.6" cy="414.4" r="0.80"/><circle cx="118.8" cy="411.8" r="0.80"/><circle cx="113.6" cy="414.5" r="0.80"/><circle cx="95.1" cy="413.0" r="0.80"/><circle cx="130.1" cy="412.1" r="0.80"/><circle cx="126.6" cy="398.3" r="0.80"/><circle cx="122.1" cy="404.0" r="0.80"/><circle cx="124.0" cy="388.7" r="0.80"/><circle cx="138.7" cy="407.8" r="0.80"/><circle cx="99.8" cy="412.2" r="0.80"/><circle cx="120.5" cy="404.5" r="0.80"/><circle cx="120.4" cy="406.1" r="0.80"/><circle cx="127.2" cy="402.3" r="0.80"/><circle cx="98.2" cy="414.4" r="0.80"/><circle cx="110.4" cy="403.7" r="0.80"/><circle cx="128.8" cy="401.7" r="0.80"/><circle cx="111.7" cy="409.9" r="0.80"/><circle cx="102.7" cy="400.6" r="0.80"/><circle cx="109.2" cy="413.3" r="0.80"/><circle cx="133.7" cy="414.5" r="0.80"/><circle cx="106.3" cy="405.2" r="0.80"/><circle cx="117.1" cy="412.5" r="0.80"/><circle cx="89.5" cy="405.1" r="0.80"/><circle cx="107.5" cy="397.4" r="0.80"/><circle cx="143.0" cy="411.6" r="0.80"/><circle cx="115.8" cy="413.1" r="0.80"/><circle cx="117.1" cy="413.1" r="0.80"/><circle cx="105.2" cy="411.0" r="0.80"/><circle cx="108.6" cy="405.2" r="0.80"/><circle cx="109.4" cy="403.1" r="0.80"/><circle cx="111.2" cy="397.3" r="0.80"/><circle cx="159.2" cy="413.3" r="0.80"/><circle cx="114.7" cy="411.4" r="0.80"/><circle cx="100.5" cy="403.9" r="0.80"/><circle cx="108.5" cy="408.7" r="0.80"/><circle cx="131.5" cy="402.7" r="0.80"/><circle cx="142.6" cy="403.6" r="0.80"/><circle cx="129.7" cy="405.9" r="0.80"/><circle cx="143.8" cy="408.9" r="0.80"/><circle cx="119.6" cy="413.5" r="0.80"/><circle cx="130.1" cy="412.0" r="0.80"/><circle cx="139.2" cy="404.7" r="0.80"/><circle cx="116.9" cy="414.2" r="0.80"/><circle cx="108.0" cy="389.0" r="0.80"/><circle cx="117.0" cy="413.4" r="0.80"/><circle cx="113.0" cy="410.2" r="0.80"/><circle cx="125.1" cy="387.3" r="0.80"/><circle cx="122.6" cy="412.5" r="0.80"/><circle cx="96.1" cy="410.8" r="0.80"/><circle cx="131.2" cy="396.9" r="0.80"/><circle cx="116.3" cy="414.5" r="0.80"/><circle cx="131.5" cy="400.1" r="0.80"/><circle cx="108.1" cy="391.3" r="0.80"/><circle cx="128.6" cy="404.4" r="0.80"/><circle cx="94.0" cy="401.5" r="0.80"/><circle cx="131.4" cy="412.9" r="0.80"/><circle cx="118.1" cy="414.4" r="0.80"/><circle cx="106.5" cy="413.0" r="0.80"/><circle cx="62.9" cy="408.5" r="0.80"/><circle cx="121.8" cy="401.9" r="0.80"/><circle cx="117.1" cy="413.6" r="0.80"/><circle cx="119.2" cy="413.7" r="0.80"/><circle cx="122.1" cy="414.4" r="0.80"/><circle cx="125.5" cy="395.5" r="0.80"/><circle cx="120.2" cy="408.7" r="0.80"/><circle cx="121.9" cy="397.7" r="0.80"/><circle cx="124.8" cy="392.1" r="0.80"/><circle cx="107.7" cy="414.1" r="0.80"/><circle cx="115.2" cy="414.5" r="0.80"/><circle cx="114.0" cy="406.5" r="0.80"/><circle cx="127.0" cy="396.8" r="0.80"/><circle cx="99.6" cy="407.5" r="0.80"/><circle cx="120.3" cy="413.8" r="0.80"/><circle cx="117.2" cy="414.5" r="0.80"/><circle cx="78.6" cy="407.7" r="0.80"/><circle cx="110.0" cy="393.4" r="0.80"/><circle cx="115.1" cy="410.7" r="0.80"/><circle cx="124.7" cy="394.0" r="0.80"/><circle cx="113.2" cy="413.9" r="0.80"/><circle cx="114.0" cy="408.9" r="0.80"/><circle cx="118.5" cy="407.0" r="0.80"/><circle cx="115.7" cy="412.0" r="0.80"/><circle cx="133.5" cy="404.7" r="0.80"/><circle cx="113.8" cy="406.8" r="0.80"/><circle cx="125.3" cy="414.4" r="0.80"/><circle cx="93.3" cy="412.2" r="0.80"/><circle cx="116.5" cy="414.5" r="0.80"/><circle cx="120.3" cy="399.5" r="0.80"/><circle cx="134.3" cy="404.6" r="0.80"/><circle cx="103.8" cy="412.0" r="0.80"/><circle cx="111.0" cy="402.4" r="0.80"/><circle cx="114.9" cy="412.4" r="0.80"/><circle cx="113.1" cy="413.8" r="0.80"/><circle cx="110.0" cy="413.6" r="0.80"/><circle cx="131.8" cy="397.6" r="0.80"/><circle cx="113.2" cy="402.0" r="0.80"/><circle cx="116.8" cy="414.5" r="0.80"/><circle cx="103.4" cy="405.9" r="0.80"/><circle cx="106.4" cy="399.1" r="0.80"/><circle cx="87.6" cy="413.9" r="0.80"/><circle cx="90.9" cy="414.5" r="0.80"/><circle cx="101.9" cy="396.9" r="0.80"/><circle cx="113.4" cy="412.7" r="0.80"/><circle cx="105.4" cy="405.7" r="0.80"/><circle cx="71.5" cy="413.2" r="0.80"/><circle cx="110.8" cy="406.6" r="0.80"/><circle cx="121.2" cy="396.5" r="0.80"/><circle cx="112.2" cy="413.6" r="0.80"/><circle cx="121.8" cy="399.9" r="0.80"/><circle cx="123.1" cy="394.8" r="0.80"/><circle cx="123.2" cy="408.6" r="0.80"/><circle cx="126.2" cy="410.9" r="0.80"/><circle cx="105.4" cy="399.8" r="0.80"/><circle cx="113.0" cy="409.7" r="0.80"/><circle cx="126.2" cy="406.2" r="0.80"/><circle cx="121.3" cy="412.2" r="0.80"/><circle cx="118.5" cy="414.5" r="0.80"/><circle cx="101.9" cy="409.7" r="0.80"/><circle cx="122.5" cy="414.0" r="0.80"/><circle cx="128.7" cy="403.3" r="0.80"/><circle cx="104.5" cy="400.2" r="0.80"/><circle cx="85.3" cy="409.7" r="0.80"/><circle cx="108.6" cy="404.2" r="0.80"/><circle cx="106.9" cy="400.1" r="0.80"/><circle cx="111.1" cy="414.5" r="0.80"/><circle cx="93.1" cy="401.7" r="0.80"/><circle cx="121.3" cy="414.4" r="0.80"/><circle cx="97.8" cy="414.5" r="0.80"/><circle cx="105.1" cy="396.9" r="0.80"/><circle cx="135.3" cy="410.5" r="0.80"/><circle cx="116.8" cy="414.5" r="0.80"/><circle cx="112.7" cy="402.9" r="0.80"/><circle cx="112.4" cy="409.8" r="0.80"/><circle cx="125.1" cy="383.1" r="0.80"/><circle cx="99.5" cy="412.5" r="0.80"/><circle cx="119.2" cy="407.2" r="0.80"/><circle cx="129.2" cy="410.0" r="0.80"/><circle cx="106.4" cy="413.8" r="0.80"/><circle cx="103.2" cy="413.1" r="0.80"/><circle cx="119.4" cy="405.8" r="0.80"/><circle cx="105.1" cy="406.7" r="0.80"/><circle cx="112.5" cy="412.3" r="0.80"/><circle cx="124.6" cy="405.0" r="0.80"/><circle cx="99.9" cy="399.8" r="0.80"/><circle cx="122.4" cy="398.3" r="0.80"/><circle cx="127.3" cy="413.7" r="0.80"/><circle cx="129.9" cy="395.5" r="0.80"/><circle cx="128.5" cy="401.1" r="0.80"/><circle cx="121.8" cy="414.5" r="0.80"/><circle cx="103.9" cy="396.8" r="0.80"/><circle cx="98.6" cy="411.4" r="0.80"/><circle cx="121.9" cy="401.7" r="0.80"/><circle cx="133.7" cy="401.2" r="0.80"/><circle cx="116.2" cy="414.5" r="0.80"/><circle cx="100.8" cy="407.0" r="0.80"/><circle cx="111.9" cy="413.9" r="0.80"/><circle cx="111.6" cy="394.9" r="0.80"/><circle cx="119.7" cy="409.1" r="0.80"/><circle cx="121.2" cy="401.5" r="0.80"/><circle cx="122.9" cy="393.0" r="0.80"/><circle cx="121.0" cy="411.5" r="0.80"/><circle cx="113.3" cy="414.3" r="0.80"/><circle cx="109.5" cy="413.5" r="0.80"/><circle cx="124.7" cy="411.7" r="0.80"/><circle cx="130.8" cy="399.8" r="0.80"/><circle cx="121.0" cy="413.6" r="0.80"/><circle cx="127.6" cy="414.5" r="0.80"/><circle cx="119.6" cy="405.6" r="0.80"/><circle cx="113.2" cy="414.4" r="0.80"/><circle cx="131.8" cy="404.8" r="0.80"/><circle cx="111.8" cy="408.0" r="0.80"/><circle cx="115.1" cy="413.4" r="0.80"/><circle cx="107.0" cy="414.2" r="0.80"/><circle cx="107.2" cy="409.3" r="0.80"/><circle cx="114.7" cy="414.1" r="0.80"/><circle cx="139.3" cy="411.7" r="0.80"/><circle cx="120.6" cy="413.9" r="0.80"/><circle cx="120.5" cy="412.2" r="0.80"/><circle cx="138.6" cy="405.2" r="0.80"/><circle cx="110.9" cy="412.5" r="0.80"/><circle cx="116.2" cy="414.4" r="0.80"/><circle cx="124.6" cy="396.8" r="0.80"/><circle cx="99.9" cy="406.3" r="0.80"/><circle cx="122.5" cy="414.5" r="0.80"/><circle cx="102.7" cy="396.8" r="0.80"/><circle cx="119.9" cy="413.1" r="0.80"/><circle cx="108.0" cy="410.3" r="0.80"/><circle cx="120.2" cy="410.0" r="0.80"/><circle cx="117.4" cy="414.3" r="0.80"/><circle cx="97.4" cy="409.9" r="0.80"/><circle cx="116.1" cy="414.2" r="0.80"/><circle cx="121.7" cy="396.1" r="0.80"/><circle cx="123.2" cy="413.7" r="0.80"/><circle cx="121.9" cy="406.3" r="0.80"/><circle cx="107.5" cy="402.3" r="0.80"/><circle cx="117.7" cy="413.9" r="0.80"/><circle cx="114.2" cy="410.9" r="0.80"/><circle cx="126.1" cy="406.3" r="0.80"/><circle cx="119.3" cy="407.2" r="0.80"/><circle cx="122.6" cy="413.8" r="0.80"/><circle cx="107.9" cy="410.9" r="0.80"/><circle cx="115.4" cy="414.3" r="0.80"/><circle cx="113.6" cy="410.5" r="0.80"/><circle cx="114.4" cy="405.7" r="0.80"/><circle cx="144.0" cy="412.2" r="0.80"/><circle cx="126.5" cy="396.5" r="0.80"/><circle cx="121.7" cy="394.3" r="0.80"/><circle cx="104.5" cy="403.2" r="0.80"/><circle cx="136.1" cy="411.9" r="0.80"/><circle cx="103.3" cy="406.7" r="0.80"/><circle cx="106.2" cy="397.7" r="0.80"/><circle cx="141.4" cy="409.6" r="0.80"/><circle cx="126.2" cy="413.5" r="0.80"/><circle cx="143.4" cy="408.8" r="0.80"/><circle cx="120.9" cy="411.2" r="0.80"/><circle cx="136.3" cy="414.0" r="0.80"/><circle cx="101.4" cy="403.1" r="0.80"/><circle cx="123.9" cy="409.4" r="0.80"/><circle cx="114.5" cy="414.1" r="0.80"/><circle cx="117.4" cy="414.5" r="0.80"/><circle cx="121.5" cy="409.5" r="0.80"/><circle cx="109.7" cy="400.7" r="0.80"/><circle cx="116.6" cy="414.4" r="0.80"/><circle cx="116.3" cy="414.1" r="0.80"/><circle cx="116.6" cy="414.5" r="0.80"/><circle cx="108.1" cy="390.9" r="0.80"/><circle cx="124.5" cy="385.4" r="0.80"/><circle cx="130.5" cy="412.9" r="0.80"/><circle cx="130.0" cy="401.4" r="0.80"/><circle cx="113.4" cy="413.8" r="0.80"/><circle cx="108.5" cy="406.9" r="0.80"/><circle cx="131.2" cy="413.7" r="0.80"/><circle cx="112.6" cy="414.5" r="0.80"/><circle cx="109.7" cy="413.0" r="0.80"/><circle cx="114.4" cy="409.7" r="0.80"/><circle cx="98.1" cy="410.7" r="0.80"/><circle cx="164.6" cy="408.5" r="0.80"/><circle cx="77.8" cy="409.1" r="0.80"/><circle cx="112.9" cy="413.3" r="0.80"/><circle cx="117.6" cy="414.3" r="0.80"/><circle cx="115.6" cy="414.5" r="0.80"/><circle cx="123.1" cy="408.2" r="0.80"/><circle cx="119.7" cy="413.9" r="0.80"/><circle cx="115.4" cy="410.4" r="0.80"/><circle cx="100.7" cy="414.5" r="0.80"/><circle cx="92.7" cy="412.0" r="0.80"/><circle cx="95.3" cy="412.1" r="0.80"/><circle cx="124.8" cy="412.9" r="0.80"/><circle cx="107.8" cy="409.2" r="0.80"/><circle cx="118.0" cy="413.8" r="0.80"/><circle cx="123.5" cy="396.9" r="0.80"/><circle cx="106.2" cy="397.0" r="0.80"/><circle cx="111.1" cy="414.4" r="0.80"/><circle cx="116.0" cy="412.6" r="0.80"/><circle cx="97.1" cy="413.9" r="0.80"/><circle cx="116.1" cy="412.3" r="0.80"/><circle cx="103.6" cy="404.3" r="0.80"/><circle cx="105.8" cy="412.0" r="0.80"/><circle cx="145.4" cy="411.8" r="0.80"/><circle cx="102.5" cy="400.8" r="0.80"/><circle cx="116.9" cy="414.5" r="0.80"/><circle cx="108.0" cy="396.9" r="0.80"/><circle cx="122.0" cy="412.7" r="0.80"/><circle cx="117.4" cy="412.8" r="0.80"/><circle cx="107.1" cy="409.9" r="0.80"/><circle cx="106.5" cy="408.2" r="0.80"/><circle cx="112.1" cy="414.0" r="0.80"/><circle cx="93.6" cy="405.8" r="0.80"/><circle cx="104.5" cy="411.3" r="0.80"/><circle cx="116.9" cy="414.2" r="0.80"/><circle cx="152.5" cy="412.6" r="0.80"/><circle cx="159.4" cy="409.1" r="0.80"/><circle cx="120.8" cy="397.7" r="0.80"/><circle cx="148.5" cy="410.3" r="0.80"/><circle cx="119.9" cy="405.4" r="0.80"/><circle cx="100.8" cy="401.3" r="0.80"/><circle cx="113.4" cy="414.2" r="0.80"/><circle cx="115.6" cy="413.9" r="0.80"/><circle cx="101.3" cy="413.4" r="0.80"/><circle cx="106.1" cy="401.6" r="0.80"/><circle cx="126.6" cy="406.7" r="0.80"/><circle cx="104.8" cy="413.9" r="0.80"/><circle cx="122.5" cy="412.4" r="0.80"/><circle cx="139.7" cy="404.5" r="0.80"/><circle cx="139.8" cy="405.1" r="0.80"/><circle cx="122.5" cy="396.6" r="0.80"/><circle cx="92.9" cy="409.3" r="0.80"/><circle cx="105.2" cy="411.3" r="0.80"/><circle cx="101.4" cy="399.9" r="0.80"/><circle cx="131.7" cy="401.9" r="0.80"/><circle cx="113.1" cy="414.1" r="0.80"/><circle cx="116.4" cy="414.3" r="0.80"/><circle cx="127.7" cy="413.8" r="0.80"/><circle cx="122.0" cy="414.5" r="0.80"/><circle cx="129.3" cy="410.2" r="0.80"/><circle cx="146.0" cy="411.4" r="0.80"/><circle cx="120.3" cy="410.9" r="0.80"/><circle cx="106.0" cy="393.3" r="0.80"/><circle cx="133.0" cy="398.6" r="0.80"/><circle cx="122.1" cy="412.0" r="0.80"/><circle cx="114.8" cy="414.3" r="0.80"/><circle cx="142.8" cy="412.9" r="0.80"/><circle cx="112.6" cy="410.5" r="0.80"/><circle cx="105.7" cy="411.5" r="0.80"/><circle cx="101.4" cy="411.8" r="0.80"/><circle cx="100.9" cy="408.1" r="0.80"/><circle cx="97.4" cy="413.1" r="0.80"/><circle cx="118.2" cy="413.3" r="0.80"/><circle cx="107.4" cy="409.3" r="0.80"/><circle cx="121.4" cy="395.0" r="0.80"/><circle cx="121.6" cy="395.9" r="0.80"/><circle cx="124.8" cy="414.3" r="0.80"/><circle cx="126.6" cy="408.3" r="0.80"/><circle cx="114.0" cy="406.3" r="0.80"/><circle cx="94.7" cy="408.6" r="0.80"/><circle cx="98.9" cy="413.3" r="0.80"/><circle cx="121.5" cy="414.5" r="0.80"/><circle cx="123.3" cy="392.3" r="0.80"/><circle cx="122.4" cy="410.3" r="0.80"/><circle cx="109.2" cy="396.2" r="0.80"/><circle cx="105.7" cy="398.2" r="0.80"/><circle cx="115.7" cy="414.5" r="0.80"/><circle cx="120.6" cy="408.5" r="0.80"/><circle cx="113.0" cy="413.7" r="0.80"/><circle cx="130.4" cy="406.0" r="0.80"/><circle cx="122.4" cy="401.5" r="0.80"/><circle cx="111.8" cy="403.6" r="0.80"/><circle cx="131.1" cy="406.1" r="0.80"/><circle cx="115.7" cy="414.3" r="0.80"/><circle cx="92.7" cy="406.8" r="0.80"/><circle cx="122.6" cy="407.7" r="0.80"/><circle cx="112.0" cy="408.2" r="0.80"/><circle cx="114.5" cy="412.3" r="0.80"/><circle cx="112.8" cy="407.4" r="0.80"/><circle cx="127.9" cy="396.4" r="0.80"/><circle cx="116.0" cy="413.9" r="0.80"/><circle cx="120.6" cy="413.5" r="0.80"/><circle cx="111.8" cy="413.7" r="0.80"/><circle cx="114.1" cy="413.4" r="0.80"/><circle cx="135.4" cy="400.4" r="0.80"/><circle cx="88.6" cy="407.6" r="0.80"/><circle cx="133.4" cy="410.2" r="0.80"/><circle cx="117.2" cy="414.2" r="0.80"/><circle cx="93.7" cy="414.3" r="0.80"/><circle cx="150.0" cy="414.2" r="0.80"/><circle cx="91.8" cy="405.9" r="0.80"/><circle cx="112.3" cy="413.9" r="0.80"/><circle cx="113.0" cy="413.6" r="0.80"/><circle cx="92.7" cy="402.2" r="0.80"/><circle cx="108.6" cy="391.2" r="0.80"/><circle cx="108.2" cy="413.7" r="0.80"/><circle cx="110.3" cy="411.5" r="0.80"/><circle cx="110.9" cy="413.3" r="0.80"/><circle cx="105.6" cy="407.1" r="0.80"/><circle cx="105.2" cy="396.8" r="0.80"/><circle cx="97.3" cy="410.0" r="0.80"/><circle cx="109.3" cy="413.9" r="0.80"/><circle cx="109.8" cy="400.7" r="0.80"/><circle cx="110.1" cy="414.4" r="0.80"/><circle cx="126.8" cy="408.0" r="0.80"/><circle cx="119.9" cy="401.8" r="0.80"/><circle cx="114.4" cy="406.1" r="0.80"/><circle cx="120.4" cy="414.3" r="0.80"/><circle cx="129.4" cy="401.6" r="0.80"/><circle cx="125.2" cy="394.0" r="0.80"/><circle cx="108.9" cy="411.7" r="0.80"/><circle cx="114.3" cy="411.8" r="0.80"/><circle cx="109.4" cy="396.3" r="0.80"/><circle cx="106.9" cy="407.6" r="0.80"/><circle cx="126.2" cy="413.7" r="0.80"/><circle cx="125.3" cy="394.7" r="0.80"/><circle cx="118.7" cy="411.2" r="0.80"/><circle cx="126.0" cy="412.2" r="0.80"/><circle cx="110.1" cy="413.4" r="0.80"/><circle cx="124.2" cy="399.0" r="0.80"/><circle cx="120.7" cy="414.2" r="0.80"/><circle cx="128.3" cy="404.7" r="0.80"/><circle cx="148.2" cy="410.8" r="0.80"/><circle cx="116.5" cy="413.9" r="0.80"/><circle cx="119.6" cy="414.5" r="0.80"/><circle cx="83.1" cy="406.7" r="0.80"/><circle cx="111.8" cy="413.5" r="0.80"/><circle cx="109.3" cy="413.4" r="0.80"/><circle cx="105.7" cy="406.8" r="0.80"/><circle cx="120.9" cy="414.2" r="0.80"/><circle cx="104.6" cy="405.3" r="0.80"/><circle cx="102.7" cy="408.7" r="0.80"/><circle cx="128.4" cy="412.2" r="0.80"/><circle cx="100.2" cy="414.5" r="0.80"/><circle cx="106.9" cy="414.5" r="0.80"/><circle cx="119.5" cy="413.6" r="0.80"/><circle cx="122.4" cy="413.0" r="0.80"/><circle cx="124.0" cy="386.9" r="0.80"/><circle cx="131.6" cy="397.6" r="0.80"/><circle cx="113.2" cy="402.2" r="0.80"/><circle cx="111.1" cy="403.3" r="0.80"/><circle cx="121.4" cy="401.8" r="0.80"/><circle cx="121.9" cy="411.0" r="0.80"/><circle cx="132.1" cy="404.2" r="0.80"/><circle cx="119.0" cy="410.3" r="0.80"/><circle cx="142.5" cy="403.0" r="0.80"/><circle cx="117.8" cy="410.8" r="0.80"/><circle cx="113.2" cy="406.1" r="0.80"/><circle cx="111.8" cy="411.8" r="0.80"/><circle cx="120.4" cy="401.3" r="0.80"/><circle cx="124.6" cy="390.3" r="0.80"/><circle cx="116.5" cy="414.5" r="0.80"/><circle cx="128.1" cy="409.9" r="0.80"/><circle cx="112.6" cy="402.1" r="0.80"/><circle cx="101.1" cy="401.0" r="0.80"/><circle cx="109.1" cy="383.9" r="0.80"/><circle cx="134.2" cy="407.5" r="0.80"/><circle cx="132.0" cy="406.0" r="0.80"/><circle cx="124.1" cy="413.9" r="0.80"/><circle cx="114.8" cy="414.1" r="0.80"/><circle cx="109.9" cy="408.6" r="0.80"/><circle cx="124.4" cy="399.3" r="0.80"/><circle cx="119.8" cy="414.5" r="0.80"/><circle cx="121.6" cy="413.7" r="0.80"/><circle cx="158.4" cy="413.3" r="0.80"/><circle cx="126.6" cy="406.4" r="0.80"/><circle cx="118.8" cy="410.8" r="0.80"/><circle cx="135.4" cy="412.6" r="0.80"/><circle cx="123.1" cy="413.9" r="0.80"/><circle cx="112.3" cy="413.6" r="0.80"/><circle cx="110.3" cy="406.2" r="0.80"/><circle cx="125.1" cy="395.6" r="0.80"/><circle cx="124.5" cy="414.1" r="0.80"/><circle cx="108.0" cy="411.6" r="0.80"/><circle cx="76.1" cy="412.1" r="0.80"/><circle cx="146.1" cy="413.7" r="0.80"/><circle cx="114.8" cy="414.3" r="0.80"/><circle cx="124.8" cy="407.8" r="0.80"/><circle cx="109.4" cy="408.1" r="0.80"/><circle cx="115.2" cy="410.3" r="0.80"/><circle cx="100.6" cy="400.4" r="0.80"/><circle cx="124.3" cy="392.7" r="0.80"/><circle cx="124.6" cy="404.7" r="0.80"/><circle cx="120.1" cy="412.9" r="0.80"/><circle cx="104.0" cy="414.0" r="0.80"/><circle cx="108.2" cy="414.2" r="0.80"/><circle cx="120.9" cy="404.4" r="0.80"/><circle cx="141.2" cy="414.2" r="0.80"/><circle cx="109.3" cy="409.3" r="0.80"/><circle cx="117.9" cy="411.3" r="0.80"/><circle cx="104.2" cy="411.7" r="0.80"/><circle cx="111.2" cy="414.5" r="0.80"/><circle cx="118.4" cy="414.2" r="0.80"/><circle cx="119.9" cy="412.6" r="0.80"/><circle cx="102.7" cy="401.9" r="0.80"/><circle cx="128.3" cy="396.8" r="0.80"/><circle cx="125.2" cy="405.1" r="0.80"/><circle cx="102.2" cy="413.4" r="0.80"/><circle cx="115.6" cy="411.3" r="0.80"/><circle cx="126.0" cy="412.6" r="0.80"/><circle cx="137.1" cy="411.1" r="0.80"/><circle cx="110.3" cy="406.8" r="0.80"/><circle cx="115.2" cy="414.5" r="0.80"/><circle cx="114.9" cy="407.6" r="0.80"/><circle cx="130.4" cy="399.4" r="0.80"/><circle cx="114.1" cy="407.4" r="0.80"/><circle cx="126.0" cy="406.4" r="0.80"/><circle cx="127.0" cy="406.4" r="0.80"/><circle cx="124.3" cy="400.1" r="0.80"/><circle cx="107.1" cy="413.8" r="0.80"/><circle cx="119.4" cy="403.7" r="0.80"/><circle cx="109.5" cy="409.3" r="0.80"/><circle cx="121.0" cy="413.4" r="0.80"/><circle cx="104.5" cy="403.7" r="0.80"/><circle cx="121.1" cy="412.6" r="0.80"/><circle cx="119.7" cy="414.5" r="0.80"/><circle cx="96.5" cy="414.5" r="0.80"/><circle cx="90.9" cy="411.9" r="0.80"/><circle cx="114.8" cy="414.0" r="0.80"/><circle cx="128.0" cy="406.9" r="0.80"/><circle cx="143.2" cy="412.8" r="0.80"/><circle cx="126.3" cy="393.8" r="0.80"/><circle cx="113.3" cy="407.9" r="0.80"/><circle cx="57.8" cy="412.5" r="0.80"/><circle cx="121.1" cy="398.6" r="0.80"/><circle cx="125.0" cy="405.6" r="0.80"/><circle cx="118.2" cy="414.5" r="0.80"/><circle cx="101.0" cy="410.6" r="0.80"/><circle cx="133.3" cy="409.8" r="0.80"/><circle cx="133.2" cy="412.4" r="0.80"/><circle cx="110.3" cy="413.1" r="0.80"/><circle cx="118.3" cy="408.5" r="0.80"/><circle cx="116.7" cy="414.5" r="0.80"/><circle cx="145.0" cy="409.3" r="0.80"/><circle cx="124.1" cy="409.6" r="0.80"/><circle cx="119.7" cy="414.5" r="0.80"/><circle cx="109.6" cy="390.5" r="0.80"/><circle cx="126.9" cy="413.5" r="0.80"/><circle cx="121.0" cy="404.1" r="0.80"/><circle cx="98.8" cy="401.3" r="0.80"/><circle cx="133.7" cy="414.4" r="0.80"/><circle cx="102.8" cy="396.0" r="0.80"/><circle cx="114.8" cy="407.1" r="0.80"/><circle cx="125.3" cy="402.4" r="0.80"/><circle cx="121.2" cy="402.1" r="0.80"/><circle cx="115.4" cy="410.1" r="0.80"/><circle cx="103.0" cy="403.6" r="0.80"/><circle cx="122.8" cy="413.7" r="0.80"/><circle cx="112.9" cy="405.5" r="0.80"/><circle cx="104.9" cy="412.0" r="0.80"/><circle cx="118.7" cy="413.3" r="0.80"/><circle cx="111.9" cy="406.7" r="0.80"/><circle cx="106.9" cy="401.4" r="0.80"/><circle cx="141.1" cy="407.0" r="0.80"/><circle cx="123.3" cy="400.1" r="0.80"/><circle cx="111.0" cy="404.9" r="0.80"/><circle cx="110.6" cy="411.5" r="0.80"/><circle cx="115.1" cy="414.1" r="0.80"/><circle cx="99.4" cy="412.4" r="0.80"/><circle cx="115.2" cy="410.5" r="0.80"/><circle cx="117.6" cy="414.5" r="0.80"/><circle cx="86.3" cy="406.8" r="0.80"/><circle cx="115.1" cy="409.8" r="0.80"/><circle cx="120.3" cy="408.5" r="0.80"/><circle cx="107.1" cy="403.5" r="0.80"/><circle cx="120.1" cy="410.3" r="0.80"/><circle cx="109.1" cy="393.8" r="0.80"/><circle cx="111.3" cy="393.0" r="0.80"/><circle cx="118.1" cy="410.0" r="0.80"/><circle cx="106.5" cy="405.7" r="0.80"/><circle cx="123.7" cy="405.3" r="0.80"/><circle cx="112.8" cy="403.3" r="0.80"/><circle cx="115.8" cy="414.1" r="0.80"/><circle cx="106.5" cy="399.1" r="0.80"/><circle cx="132.1" cy="409.5" r="0.80"/><circle cx="94.4" cy="411.8" r="0.80"/><circle cx="115.8" cy="413.4" r="0.80"/><circle cx="99.9" cy="412.8" r="0.80"/><circle cx="129.2" cy="412.3" r="0.80"/><circle cx="127.2" cy="407.6" r="0.80"/><circle cx="123.9" cy="402.3" r="0.80"/><circle cx="105.9" cy="413.3" r="0.80"/><circle cx="125.4" cy="396.5" r="0.80"/><circle cx="121.5" cy="400.7" r="0.80"/><circle cx="119.3" cy="412.8" r="0.80"/><circle cx="118.5" cy="414.3" r="0.80"/><circle cx="115.0" cy="412.0" r="0.80"/><circle cx="106.2" cy="414.1" r="0.80"/><circle cx="121.1" cy="414.5" r="0.80"/><circle cx="125.8" cy="403.7" r="0.80"/><circle cx="117.0" cy="414.1" r="0.80"/><circle cx="127.9" cy="410.1" r="0.80"/><circle cx="115.9" cy="413.9" r="0.80"/><circle cx="111.4" cy="409.4" r="0.80"/><circle cx="76.7" cy="412.5" r="0.80"/><circle cx="131.4" cy="408.6" r="0.80"/><circle cx="108.9" cy="396.5" r="0.80"/><circle cx="104.8" cy="409.8" r="0.80"/><circle cx="125.2" cy="405.4" r="0.80"/><circle cx="114.8" cy="414.1" r="0.80"/><circle cx="162.5" cy="414.5" r="0.80"/><circle cx="109.1" cy="387.0" r="0.80"/><circle cx="114.4" cy="413.9" r="0.80"/><circle cx="130.2" cy="407.4" r="0.80"/><circle cx="109.2" cy="414.5" r="0.80"/><circle cx="109.6" cy="411.9" r="0.80"/><circle cx="107.7" cy="409.3" r="0.80"/><circle cx="109.7" cy="411.9" r="0.80"/><circle cx="110.8" cy="404.7" r="0.80"/><circle cx="134.7" cy="406.1" r="0.80"/><circle cx="130.3" cy="413.6" r="0.80"/><circle cx="121.3" cy="414.4" r="0.80"/><circle cx="122.9" cy="411.4" r="0.80"/><circle cx="114.6" cy="412.9" r="0.80"/><circle cx="126.9" cy="397.6" r="0.80"/><circle cx="114.6" cy="414.1" r="0.80"/><circle cx="124.1" cy="403.9" r="0.80"/><circle cx="107.8" cy="410.1" r="0.80"/><circle cx="102.5" cy="410.4" r="0.80"/><circle cx="124.9" cy="411.8" r="0.80"/><circle cx="119.1" cy="407.5" r="0.80"/><circle cx="110.5" cy="401.9" r="0.80"/><circle cx="116.9" cy="413.7" r="0.80"/><circle cx="118.3" cy="412.3" r="0.80"/><circle cx="131.1" cy="401.4" r="0.80"/><circle cx="118.2" cy="412.2" r="0.80"/><circle cx="118.6" cy="414.4" r="0.80"/><circle cx="117.6" cy="411.4" r="0.80"/><circle cx="104.1" cy="399.8" r="0.80"/><circle cx="128.0" cy="398.3" r="0.80"/><circle cx="109.0" cy="411.9" r="0.80"/><circle cx="122.3" cy="414.4" r="0.80"/><circle cx="112.2" cy="409.5" r="0.80"/><circle cx="117.8" cy="413.8" r="0.80"/><circle cx="115.8" cy="413.5" r="0.80"/><circle cx="97.9" cy="399.5" r="0.80"/><circle cx="90.9" cy="408.9" r="0.80"/><circle cx="110.6" cy="413.3" r="0.80"/><circle cx="115.4" cy="413.7" r="0.80"/><circle cx="137.7" cy="411.8" r="0.80"/><circle cx="129.1" cy="410.4" r="0.80"/><circle cx="120.5" cy="409.2" r="0.80"/><circle cx="56.1" cy="412.7" r="0.80"/><circle cx="104.7" cy="413.6" r="0.80"/><circle cx="135.8" cy="404.1" r="0.80"/><circle cx="124.2" cy="408.6" r="0.80"/><circle cx="119.9" cy="413.9" r="0.80"/><circle cx="115.3" cy="413.3" r="0.80"/><circle cx="121.9" cy="413.9" r="0.80"/><circle cx="128.2" cy="406.6" r="0.80"/><circle cx="111.0" cy="414.5" r="0.80"/><circle cx="119.9" cy="412.1" r="0.80"/><circle cx="114.5" cy="414.5" r="0.80"/><circle cx="115.5" cy="411.5" r="0.80"/><circle cx="142.8" cy="406.4" r="0.80"/><circle cx="110.5" cy="412.7" r="0.80"/><circle cx="107.3" cy="407.2" r="0.80"/><circle cx="98.7" cy="412.7" r="0.80"/><circle cx="138.0" cy="413.7" r="0.80"/><circle cx="101.9" cy="408.5" r="0.80"/><circle cx="119.6" cy="414.0" r="0.80"/><circle cx="122.6" cy="403.5" r="0.80"/><circle cx="144.9" cy="408.2" r="0.80"/><circle cx="120.1" cy="403.3" r="0.80"/><circle cx="116.8" cy="413.6" r="0.80"/><circle cx="107.2" cy="397.1" r="0.80"/><circle cx="124.9" cy="407.5" r="0.80"/><circle cx="118.0" cy="409.8" r="0.80"/><circle cx="135.5" cy="413.7" r="0.80"/><circle cx="91.3" cy="411.2" r="0.80"/><circle cx="119.8" cy="407.5" r="0.80"/><circle cx="121.5" cy="412.6" r="0.80"/><circle cx="114.6" cy="414.2" r="0.80"/><circle cx="123.0" cy="414.4" r="0.80"/><circle cx="118.9" cy="412.2" r="0.80"/><circle cx="116.8" cy="414.3" r="0.80"/><circle cx="93.0" cy="402.1" r="0.80"/><circle cx="118.7" cy="414.3" r="0.80"/><circle cx="92.8" cy="414.4" r="0.80"/><circle cx="135.4" cy="405.4" r="0.80"/><circle cx="103.9" cy="409.3" r="0.80"/><circle cx="111.2" cy="400.2" r="0.80"/><circle cx="126.0" cy="393.1" r="0.80"/><circle cx="131.4" cy="414.4" r="0.80"/><circle cx="105.0" cy="413.9" r="0.80"/><circle cx="103.9" cy="413.0" r="0.80"/><circle cx="121.4" cy="410.5" r="0.80"/><circle cx="120.4" cy="414.5" r="0.80"/><circle cx="120.4" cy="399.2" r="0.80"/><circle cx="117.0" cy="413.3" r="0.80"/><circle cx="94.0" cy="414.3" r="0.80"/><circle cx="122.9" cy="395.9" r="0.80"/><circle cx="105.8" cy="398.2" r="0.80"/><circle cx="119.3" cy="413.3" r="0.80"/><circle cx="105.4" cy="414.4" r="0.80"/><circle cx="143.1" cy="408.4" r="0.80"/><circle cx="100.5" cy="409.5" r="0.80"/><circle cx="101.8" cy="399.8" r="0.80"/><circle cx="80.4" cy="414.0" r="0.80"/><circle cx="114.5" cy="407.4" r="0.80"/><circle cx="136.4" cy="407.8" r="0.80"/><circle cx="119.7" cy="402.2" r="0.80"/><circle cx="127.6" cy="403.4" r="0.80"/><circle cx="117.1" cy="414.5" r="0.80"/><circle cx="118.5" cy="414.3" r="0.80"/><circle cx="100.3" cy="414.0" r="0.80"/><circle cx="113.7" cy="414.5" r="0.80"/><circle cx="114.0" cy="414.1" r="0.80"/><circle cx="124.4" cy="414.1" r="0.80"/><circle cx="117.6" cy="413.0" r="0.80"/><circle cx="109.6" cy="401.3" r="0.80"/><circle cx="114.4" cy="413.9" r="0.80"/><circle cx="147.6" cy="413.6" r="0.80"/><circle cx="108.0" cy="414.5" r="0.80"/><circle cx="121.0" cy="411.7" r="0.80"/><circle cx="117.6" cy="413.9" r="0.80"/><circle cx="98.4" cy="403.7" r="0.80"/><circle cx="95.1" cy="411.7" r="0.80"/><circle cx="115.0" cy="412.4" r="0.80"/><circle cx="114.8" cy="409.0" r="0.80"/><circle cx="119.7" cy="406.6" r="0.80"/><circle cx="118.6" cy="408.5" r="0.80"/><circle cx="101.9" cy="409.7" r="0.80"/><circle cx="121.8" cy="412.7" r="0.80"/><circle cx="120.2" cy="409.3" r="0.80"/><circle cx="81.1" cy="414.5" r="0.80"/><circle cx="107.6" cy="405.6" r="0.80"/><circle cx="103.4" cy="407.4" r="0.80"/><circle cx="134.8" cy="409.9" r="0.80"/><circle cx="129.7" cy="407.6" r="0.80"/><circle cx="102.5" cy="407.5" r="0.80"/><circle cx="144.6" cy="408.2" r="0.80"/><circle cx="112.5" cy="400.8" r="0.80"/><circle cx="118.8" cy="408.1" r="0.80"/><circle cx="117.0" cy="414.0" r="0.80"/><circle cx="117.0" cy="413.1" r="0.80"/><circle cx="134.6" cy="414.4" r="0.80"/><circle cx="131.6" cy="400.4" r="0.80"/><circle cx="132.5" cy="409.6" r="0.80"/><circle cx="122.8" cy="412.0" r="0.80"/><circle cx="119.1" cy="413.5" r="0.80"/><circle cx="126.2" cy="398.1" r="0.80"/><circle cx="110.0" cy="413.0" r="0.80"/><circle cx="121.8" cy="393.0" r="0.80"/><circle cx="118.4" cy="413.4" r="0.80"/><circle cx="128.3" cy="399.6" r="0.80"/><circle cx="111.3" cy="397.4" r="0.80"/><circle cx="115.5" cy="414.5" r="0.80"/><circle cx="117.6" cy="414.5" r="0.80"/><circle cx="129.5" cy="401.7" r="0.80"/><circle cx="116.4" cy="414.3" r="0.80"/><circle cx="87.3" cy="413.8" r="0.80"/><circle cx="119.4" cy="411.6" r="0.80"/><circle cx="119.4" cy="410.2" r="0.80"/><circle cx="137.6" cy="409.4" r="0.80"/><circle cx="109.2" cy="387.6" r="0.80"/><circle cx="108.4" cy="394.6" r="0.80"/><circle cx="110.1" cy="388.9" r="0.80"/><circle cx="104.3" cy="413.2" r="0.80"/><circle cx="111.6" cy="398.7" r="0.80"/><circle cx="118.0" cy="413.7" r="0.80"/><circle cx="105.9" cy="398.6" r="0.80"/><circle cx="112.1" cy="400.1" r="0.80"/><circle cx="86.5" cy="413.4" r="0.80"/><circle cx="128.6" cy="405.9" r="0.80"/><circle cx="112.6" cy="413.8" r="0.80"/><circle cx="114.8" cy="413.3" r="0.80"/><circle cx="119.3" cy="414.2" r="0.80"/><circle cx="105.6" cy="412.7" r="0.80"/><circle cx="108.0" cy="398.1" r="0.80"/><circle cx="113.9" cy="413.7" r="0.80"/><circle cx="96.2" cy="400.1" r="0.80"/><circle cx="110.5" cy="411.4" r="0.80"/><circle cx="100.3" cy="407.2" r="0.80"/><circle cx="121.7" cy="414.5" r="0.80"/><circle cx="103.1" cy="406.5" r="0.80"/><circle cx="126.9" cy="396.3" r="0.80"/><circle cx="116.1" cy="413.9" r="0.80"/><circle cx="115.6" cy="413.7" r="0.80"/><circle cx="124.8" cy="386.2" r="0.80"/><circle cx="106.1" cy="410.8" r="0.80"/><circle cx="115.9" cy="414.5" r="0.80"/><circle cx="116.7" cy="414.3" r="0.80"/><circle cx="116.8" cy="414.5" r="0.80"/><circle cx="72.7" cy="413.9" r="0.80"/><circle cx="114.2" cy="413.5" r="0.80"/><circle cx="106.8" cy="403.4" r="0.80"/><circle cx="174.1" cy="408.7" r="0.80"/><circle cx="98.8" cy="411.1" r="0.80"/><circle cx="128.3" cy="400.2" r="0.80"/><circle cx="113.1" cy="414.5" r="0.80"/><circle cx="125.3" cy="391.5" r="0.80"/><circle cx="105.1" cy="399.8" r="0.80"/><circle cx="119.7" cy="411.6" r="0.80"/><circle cx="114.7" cy="413.5" r="0.80"/><circle cx="135.5" cy="408.0" r="0.80"/><circle cx="91.4" cy="413.7" r="0.80"/><circle cx="123.2" cy="395.0" r="0.80"/><circle cx="112.2" cy="403.3" r="0.80"/><circle cx="120.8" cy="414.4" r="0.80"/><circle cx="115.6" cy="412.1" r="0.80"/><circle cx="96.1" cy="413.2" r="0.80"/><circle cx="124.3" cy="412.4" r="0.80"/><circle cx="122.4" cy="408.2" r="0.80"/><circle cx="119.5" cy="413.4" r="0.80"/><circle cx="102.7" cy="414.5" r="0.80"/><circle cx="141.5" cy="403.9" r="0.80"/><circle cx="100.6" cy="413.5" r="0.80"/><circle cx="97.9" cy="408.8" r="0.80"/><circle cx="99.0" cy="409.8" r="0.80"/><circle cx="114.4" cy="407.5" r="0.80"/><circle cx="114.5" cy="408.4" r="0.80"/><circle cx="113.4" cy="406.4" r="0.80"/><circle cx="109.7" cy="388.4" r="0.80"/><circle cx="108.9" cy="407.1" r="0.80"/><circle cx="116.6" cy="414.5" r="0.80"/><circle cx="137.3" cy="413.1" r="0.80"/><circle cx="133.8" cy="399.0" r="0.80"/><circle cx="109.9" cy="393.2" r="0.80"/><circle cx="118.2" cy="413.5" r="0.80"/><circle cx="120.3" cy="411.3" r="0.80"/><circle cx="118.2" cy="413.9" r="0.80"/><circle cx="123.2" cy="409.9" r="0.80"/><circle cx="115.9" cy="413.1" r="0.80"/><circle cx="121.3" cy="400.6" r="0.80"/><circle cx="116.9" cy="413.6" r="0.80"/><circle cx="117.8" cy="411.9" r="0.80"/><circle cx="114.5" cy="410.0" r="0.80"/><circle cx="111.2" cy="407.4" r="0.80"/><circle cx="103.9" cy="412.1" r="0.80"/><circle cx="113.7" cy="406.4" r="0.80"/><circle cx="100.4" cy="410.9" r="0.80"/><circle cx="123.9" cy="412.1" r="0.80"/><circle cx="100.7" cy="405.9" r="0.80"/><circle cx="122.0" cy="414.3" r="0.80"/><circle cx="120.5" cy="413.5" r="0.80"/><circle cx="109.2" cy="404.4" r="0.80"/><circle cx="106.4" cy="414.3" r="0.80"/><circle cx="114.4" cy="408.7" r="0.80"/><circle cx="116.6" cy="414.5" r="0.80"/><circle cx="113.1" cy="408.9" r="0.80"/><circle cx="123.0" cy="392.5" r="0.80"/><circle cx="122.7" cy="396.0" r="0.80"/><circle cx="120.1" cy="403.8" r="0.80"/><circle cx="116.3" cy="414.5" r="0.80"/><circle cx="91.9" cy="403.2" r="0.80"/><circle cx="141.8" cy="413.0" r="0.80"/><circle cx="109.5" cy="413.4" r="0.80"/><circle cx="119.4" cy="413.9" r="0.80"/><circle cx="122.4" cy="393.0" r="0.80"/><circle cx="125.2" cy="402.1" r="0.80"/><circle cx="127.3" cy="414.3" r="0.80"/><circle cx="115.2" cy="413.0" r="0.80"/><circle cx="156.5" cy="408.8" r="0.80"/><circle cx="118.9" cy="409.2" r="0.80"/><circle cx="135.7" cy="409.5" r="0.80"/><circle cx="129.3" cy="413.4" r="0.80"/><circle cx="120.6" cy="411.8" r="0.80"/><circle cx="116.8" cy="414.4" r="0.80"/><circle cx="125.6" cy="406.5" r="0.80"/><circle cx="116.3" cy="413.6" r="0.80"/><circle cx="121.8" cy="398.5" r="0.80"/><circle cx="114.2" cy="411.3" r="0.80"/><circle cx="119.1" cy="408.2" r="0.80"/><circle cx="106.5" cy="395.9" r="0.80"/><circle cx="121.7" cy="400.8" r="0.80"/><circle cx="111.5" cy="401.1" r="0.80"/><circle cx="119.5" cy="406.9" r="0.80"/><circle cx="118.5" cy="411.1" r="0.80"/><circle cx="134.3" cy="401.9" r="0.80"/><circle cx="109.8" cy="398.5" r="0.80"/><circle cx="124.5" cy="388.4" r="0.80"/><circle cx="112.0" cy="410.6" r="0.80"/><circle cx="132.3" cy="409.1" r="0.80"/><circle cx="138.8" cy="410.0" r="0.80"/><circle cx="108.0" cy="411.7" r="0.80"/><circle cx="115.3" cy="414.4" r="0.80"/><circle cx="147.8" cy="406.6" r="0.80"/><circle cx="124.1" cy="414.0" r="0.80"/><circle cx="114.2" cy="414.4" r="0.80"/><circle cx="108.0" cy="399.9" r="0.80"/><circle cx="111.6" cy="413.5" r="0.80"/><circle cx="152.8" cy="414.5" r="0.80"/><circle cx="130.0" cy="406.3" r="0.80"/><circle cx="124.4" cy="393.8" r="0.80"/><circle cx="130.1" cy="414.4" r="0.80"/><circle cx="127.5" cy="409.6" r="0.80"/><circle cx="137.4" cy="407.7" r="0.80"/><circle cx="99.8" cy="400.7" r="0.80"/><circle cx="120.4" cy="400.4" r="0.80"/><circle cx="144.6" cy="404.9" r="0.80"/><circle cx="126.1" cy="412.4" r="0.80"/><circle cx="144.8" cy="411.9" r="0.80"/><circle cx="106.4" cy="397.5" r="0.80"/><circle cx="127.9" cy="393.7" r="0.80"/><circle cx="125.5" cy="406.3" r="0.80"/><circle cx="133.9" cy="409.3" r="0.80"/><circle cx="110.1" cy="397.9" r="0.80"/><circle cx="118.4" cy="409.1" r="0.80"/><circle cx="111.3" cy="393.3" r="0.80"/><circle cx="114.4" cy="410.9" r="0.80"/><circle cx="122.9" cy="414.2" r="0.80"/><circle cx="127.6" cy="411.3" r="0.80"/><circle cx="104.4" cy="396.6" r="0.80"/><circle cx="121.4" cy="410.6" r="0.80"/><circle cx="111.2" cy="412.0" r="0.80"/><circle cx="129.0" cy="410.1" r="0.80"/><circle cx="124.7" cy="412.3" r="0.80"/><circle cx="122.6" cy="414.1" r="0.80"/><circle cx="121.6" cy="394.0" r="0.80"/><circle cx="104.8" cy="411.1" r="0.80"/><circle cx="112.1" cy="403.0" r="0.80"/><circle cx="116.8" cy="414.5" r="0.80"/><circle cx="111.4" cy="412.9" r="0.80"/><circle cx="121.0" cy="396.2" r="0.80"/><circle cx="116.4" cy="414.4" r="0.80"/><circle cx="118.8" cy="413.1" r="0.80"/><circle cx="115.6" cy="411.0" r="0.80"/><circle cx="131.9" cy="403.5" r="0.80"/><circle cx="93.2" cy="410.7" r="0.80"/><circle cx="105.9" cy="397.8" r="0.80"/><circle cx="122.9" cy="412.0" r="0.80"/><circle cx="96.0" cy="402.1" r="0.80"/><circle cx="117.1" cy="414.4" r="0.80"/><circle cx="117.5" cy="414.4" r="0.80"/><circle cx="114.4" cy="406.3" r="0.80"/><circle cx="121.4" cy="414.5" r="0.80"/><circle cx="97.4" cy="411.7" r="0.80"/><circle cx="126.3" cy="414.3" r="0.80"/><circle cx="132.8" cy="412.2" r="0.80"/><circle cx="121.8" cy="412.0" r="0.80"/><circle cx="120.9" cy="397.2" r="0.80"/><circle cx="127.1" cy="394.5" r="0.80"/><circle cx="122.9" cy="388.3" r="0.80"/><circle cx="106.0" cy="411.7" r="0.80"/><circle cx="126.1" cy="400.3" r="0.80"/><circle cx="125.9" cy="414.2" r="0.80"/><circle cx="126.5" cy="407.4" r="0.80"/><circle cx="130.2" cy="399.3" r="0.80"/><circle cx="115.1" cy="408.5" r="0.80"/><circle cx="135.1" cy="399.3" r="0.80"/><circle cx="119.7" cy="413.9" r="0.80"/><circle cx="105.5" cy="410.7" r="0.80"/><circle cx="102.0" cy="404.5" r="0.80"/><circle cx="120.9" cy="414.4" r="0.80"/><circle cx="120.9" cy="413.5" r="0.80"/><circle cx="108.0" cy="413.8" r="0.80"/><circle cx="110.7" cy="402.5" r="0.80"/><circle cx="126.7" cy="407.5" r="0.80"/><circle cx="117.3" cy="413.1" r="0.80"/><circle cx="118.0" cy="414.0" r="0.80"/><circle cx="117.9" cy="412.3" r="0.80"/><circle cx="92.5" cy="413.0" r="0.80"/><circle cx="100.6" cy="404.7" r="0.80"/><circle cx="111.2" cy="411.3" r="0.80"/><circle cx="124.0" cy="395.3" r="0.80"/><circle cx="96.8" cy="410.8" r="0.80"/><circle cx="119.4" cy="412.5" r="0.80"/><circle cx="115.5" cy="413.3" r="0.80"/><circle cx="134.5" cy="410.4" r="0.80"/><circle cx="120.6" cy="401.3" r="0.80"/><circle cx="130.2" cy="408.5" r="0.80"/><circle cx="119.6" cy="405.5" r="0.80"/><circle cx="112.8" cy="410.4" r="0.80"/><circle cx="125.0" cy="414.2" r="0.80"/><circle cx="115.7" cy="414.0" r="0.80"/><circle cx="122.0" cy="406.8" r="0.80"/><circle cx="99.0" cy="404.4" r="0.80"/><circle cx="82.1" cy="407.2" r="0.80"/><circle cx="117.0" cy="414.4" r="0.80"/><circle cx="102.7" cy="414.4" r="0.80"/><circle cx="120.4" cy="411.1" r="0.80"/><circle cx="110.4" cy="404.9" r="0.80"/><circle cx="131.6" cy="400.2" r="0.80"/><circle cx="119.9" cy="401.5" r="0.80"/><circle cx="111.2" cy="398.1" r="0.80"/><circle cx="116.4" cy="414.1" r="0.80"/><circle cx="114.1" cy="414.5" r="0.80"/><circle cx="147.2" cy="407.6" r="0.80"/><circle cx="109.4" cy="408.9" r="0.80"/><circle cx="105.6" cy="408.1" r="0.80"/><circle cx="119.5" cy="412.2" r="0.80"/><circle cx="117.4" cy="411.5" r="0.80"/><circle cx="125.3" cy="383.5" r="0.80"/><circle cx="109.3" cy="414.5" r="0.80"/><circle cx="110.8" cy="413.7" r="0.80"/><circle cx="111.8" cy="398.8" r="0.80"/><circle cx="98.0" cy="411.3" r="0.80"/><circle cx="121.3" cy="414.0" r="0.80"/><circle cx="135.5" cy="414.1" r="0.80"/><circle cx="118.2" cy="410.9" r="0.80"/><circle cx="76.5" cy="409.7" r="0.80"/><circle cx="115.2" cy="412.6" r="0.80"/><circle cx="128.5" cy="409.8" r="0.80"/><circle cx="141.4" cy="412.9" r="0.80"/><circle cx="121.4" cy="409.2" r="0.80"/><circle cx="136.1" cy="414.2" r="0.80"/><circle cx="133.8" cy="413.5" r="0.80"/><circle cx="119.6" cy="405.4" r="0.80"/><circle cx="105.2" cy="408.1" r="0.80"/><circle cx="109.8" cy="393.0" r="0.80"/><circle cx="115.6" cy="413.3" r="0.80"/><circle cx="115.3" cy="413.8" r="0.80"/><circle cx="109.5" cy="410.7" r="0.80"/><circle cx="130.1" cy="410.9" r="0.80"/><circle cx="105.6" cy="404.6" r="0.80"/><circle cx="113.3" cy="413.5" r="0.80"/><circle cx="116.7" cy="414.5" r="0.80"/><circle cx="123.4" cy="413.6" r="0.80"/><circle cx="102.8" cy="412.4" r="0.80"/><circle cx="122.4" cy="403.9" r="0.80"/><circle cx="142.0" cy="403.1" r="0.80"/><circle cx="126.9" cy="396.2" r="0.80"/><circle cx="117.5" cy="414.4" r="0.80"/><circle cx="112.5" cy="414.5" r="0.80"/><circle cx="107.9" cy="398.5" r="0.80"/><circle cx="123.3" cy="394.5" r="0.80"/><circle cx="134.0" cy="408.7" r="0.80"/><circle cx="108.6" cy="391.3" r="0.80"/><circle cx="109.0" cy="412.2" r="0.80"/><circle cx="125.2" cy="404.6" r="0.80"/><circle cx="107.2" cy="411.2" r="0.80"/><circle cx="126.4" cy="414.2" r="0.80"/><circle cx="107.9" cy="387.9" r="0.80"/><circle cx="108.8" cy="412.6" r="0.80"/><circle cx="102.6" cy="407.7" r="0.80"/><circle cx="122.5" cy="413.2" r="0.80"/><circle cx="126.2" cy="409.4" r="0.80"/><circle cx="126.7" cy="413.1" r="0.80"/><circle cx="122.7" cy="414.3" r="0.80"/><circle cx="125.0" cy="396.9" r="0.80"/><circle cx="123.7" cy="392.8" r="0.80"/><circle cx="91.5" cy="410.8" r="0.80"/><circle cx="118.7" cy="414.1" r="0.80"/><circle cx="95.7" cy="401.5" r="0.80"/><circle cx="119.2" cy="408.4" r="0.80"/><circle cx="114.1" cy="413.8" r="0.80"/><circle cx="108.1" cy="395.9" r="0.80"/><circle cx="99.3" cy="407.1" r="0.80"/><circle cx="117.0" cy="414.0" r="0.80"/><circle cx="119.5" cy="413.4" r="0.80"/><circle cx="122.2" cy="407.6" r="0.80"/><circle cx="109.0" cy="397.5" r="0.80"/><circle cx="121.1" cy="414.4" r="0.80"/><circle cx="133.8" cy="404.0" r="0.80"/><circle cx="103.1" cy="403.3" r="0.80"/><circle cx="127.3" cy="400.7" r="0.80"/><circle cx="125.4" cy="407.5" r="0.80"/><circle cx="134.2" cy="399.2" r="0.80"/><circle cx="113.1" cy="414.5" r="0.80"/><circle cx="119.3" cy="404.7" r="0.80"/><circle cx="123.4" cy="404.0" r="0.80"/><circle cx="128.2" cy="398.4" r="0.80"/><circle cx="116.0" cy="412.4" r="0.80"/><circle cx="124.3" cy="409.0" r="0.80"/><circle cx="125.7" cy="396.2" r="0.80"/><circle cx="80.3" cy="410.1" r="0.80"/><circle cx="118.1" cy="410.2" r="0.80"/><circle cx="112.1" cy="411.4" r="0.80"/><circle cx="130.8" cy="400.8" r="0.80"/><circle cx="116.9" cy="413.4" r="0.80"/><circle cx="119.1" cy="413.4" r="0.80"/><circle cx="134.7" cy="404.8" r="0.80"/><circle cx="132.0" cy="413.2" r="0.80"/><circle cx="130.8" cy="400.6" r="0.80"/><circle cx="127.0" cy="413.8" r="0.80"/><circle cx="120.0" cy="414.1" r="0.80"/><circle cx="103.8" cy="408.7" r="0.80"/><circle cx="96.3" cy="414.2" r="0.80"/><circle cx="111.8" cy="406.3" r="0.80"/><circle cx="126.3" cy="408.3" r="0.80"/><circle cx="115.0" cy="411.0" r="0.80"/><circle cx="119.1" cy="412.9" r="0.80"/><circle cx="104.8" cy="400.0" r="0.80"/><circle cx="128.6" cy="404.5" r="0.80"/><circle cx="121.5" cy="398.8" r="0.80"/><circle cx="116.9" cy="414.3" r="0.80"/><circle cx="113.7" cy="413.8" r="0.80"/><circle cx="121.5" cy="410.9" r="0.80"/><circle cx="118.1" cy="413.3" r="0.80"/><circle cx="118.9" cy="407.2" r="0.80"/><circle cx="104.6" cy="406.6" r="0.80"/><circle cx="107.2" cy="413.2" r="0.80"/><circle cx="114.7" cy="411.3" r="0.80"/><circle cx="109.3" cy="414.3" r="0.80"/><circle cx="108.4" cy="412.9" r="0.80"/><circle cx="109.1" cy="400.2" r="0.80"/><circle cx="129.0" cy="396.8" r="0.80"/><circle cx="127.3" cy="402.4" r="0.80"/><circle cx="112.1" cy="410.9" r="0.80"/><circle cx="112.4" cy="409.3" r="0.80"/><circle cx="107.1" cy="411.3" r="0.80"/><circle cx="99.0" cy="411.2" r="0.80"/><circle cx="77.6" cy="411.9" r="0.80"/><circle cx="121.0" cy="414.4" r="0.80"/><circle cx="138.7" cy="409.7" r="0.80"/><circle cx="124.8" cy="409.7" r="0.80"/><circle cx="100.8" cy="408.8" r="0.80"/><circle cx="114.4" cy="412.9" r="0.80"/><circle cx="105.9" cy="413.6" r="0.80"/><circle cx="120.5" cy="414.1" r="0.80"/><circle cx="120.4" cy="401.7" r="0.80"/><circle cx="123.8" cy="412.7" r="0.80"/><circle cx="113.9" cy="407.3" r="0.80"/><circle cx="117.3" cy="411.5" r="0.80"/><circle cx="118.3" cy="414.4" r="0.80"/><circle cx="141.3" cy="413.8" r="0.80"/><circle cx="129.1" cy="413.4" r="0.80"/><circle cx="130.5" cy="413.5" r="0.80"/><circle cx="123.6" cy="412.7" r="0.80"/><circle cx="124.7" cy="381.4" r="0.80"/><circle cx="104.8" cy="394.4" r="0.80"/><circle cx="119.2" cy="410.3" r="0.80"/><circle cx="103.1" cy="403.4" r="0.80"/><circle cx="116.4" cy="414.0" r="0.80"/><circle cx="117.3" cy="414.4" r="0.80"/><circle cx="126.8" cy="397.1" r="0.80"/><circle cx="113.7" cy="414.5" r="0.80"/><circle cx="113.3" cy="410.7" r="0.80"/><circle cx="107.8" cy="408.9" r="0.80"/><circle cx="120.4" cy="400.9" r="0.80"/><circle cx="112.0" cy="412.4" r="0.80"/><circle cx="113.7" cy="414.3" r="0.80"/><circle cx="132.5" cy="406.1" r="0.80"/><circle cx="118.4" cy="414.5" r="0.80"/><circle cx="109.4" cy="392.5" r="0.80"/><circle cx="130.5" cy="401.4" r="0.80"/><circle cx="130.3" cy="398.5" r="0.80"/><circle cx="114.7" cy="410.9" r="0.80"/><circle cx="105.4" cy="412.2" r="0.80"/><circle cx="99.3" cy="407.6" r="0.80"/><circle cx="135.4" cy="409.3" r="0.80"/><circle cx="109.8" cy="404.8" r="0.80"/><circle cx="106.5" cy="392.9" r="0.80"/><circle cx="114.7" cy="414.4" r="0.80"/><circle cx="98.5" cy="412.8" r="0.80"/><circle cx="91.0" cy="405.4" r="0.80"/><circle cx="143.1" cy="411.9" r="0.80"/><circle cx="118.1" cy="414.0" r="0.80"/><circle cx="105.0" cy="396.9" r="0.80"/><circle cx="132.6" cy="410.6" r="0.80"/><circle cx="106.3" cy="401.1" r="0.80"/><circle cx="110.8" cy="413.9" r="0.80"/><circle cx="122.4" cy="414.2" r="0.80"/><circle cx="106.9" cy="396.8" r="0.80"/><circle cx="110.9" cy="402.2" r="0.80"/><circle cx="138.3" cy="411.0" r="0.80"/><circle cx="117.2" cy="413.3" r="0.80"/><circle cx="119.4" cy="405.9" r="0.80"/><circle cx="107.6" cy="414.4" r="0.80"/><circle cx="159.1" cy="413.0" r="0.80"/><circle cx="114.3" cy="414.0" r="0.80"/><circle cx="120.4" cy="410.0" r="0.80"/><circle cx="121.5" cy="414.4" r="0.80"/><circle cx="116.5" cy="414.5" r="0.80"/><circle cx="118.2" cy="412.2" r="0.80"/><circle cx="117.9" cy="414.4" r="0.80"/><circle cx="118.0" cy="413.2" r="0.80"/><circle cx="119.8" cy="413.2" r="0.80"/><circle cx="128.5" cy="405.8" r="0.80"/><circle cx="116.1" cy="414.1" r="0.80"/><circle cx="128.1" cy="398.7" r="0.80"/><circle cx="100.1" cy="404.1" r="0.80"/><circle cx="122.2" cy="414.0" r="0.80"/><circle cx="96.0" cy="400.1" r="0.80"/><circle cx="120.3" cy="404.9" r="0.80"/><circle cx="100.1" cy="412.4" r="0.80"/><circle cx="126.4" cy="412.3" r="0.80"/><circle cx="106.5" cy="399.0" r="0.80"/><circle cx="130.5" cy="413.8" r="0.80"/><circle cx="117.7" cy="414.5" r="0.80"/><circle cx="118.0" cy="408.9" r="0.80"/><circle cx="119.2" cy="405.4" r="0.80"/><circle cx="107.9" cy="408.7" r="0.80"/><circle cx="123.5" cy="406.0" r="0.80"/><circle cx="108.0" cy="413.6" r="0.80"/><circle cx="100.3" cy="411.8" r="0.80"/><circle cx="111.8" cy="408.4" r="0.80"/><circle cx="102.6" cy="409.3" r="0.80"/><circle cx="135.2" cy="402.4" r="0.80"/><circle cx="120.9" cy="410.9" r="0.80"/><circle cx="119.5" cy="410.5" r="0.80"/><circle cx="103.0" cy="405.3" r="0.80"/><circle cx="124.6" cy="401.6" r="0.80"/><circle cx="116.4" cy="414.1" r="0.80"/><circle cx="121.9" cy="414.5" r="0.80"/><circle cx="113.1" cy="412.2" r="0.80"/><circle cx="106.8" cy="397.1" r="0.80"/><circle cx="130.5" cy="396.0" r="0.80"/><circle cx="116.4" cy="413.9" r="0.80"/><circle cx="127.4" cy="411.5" r="0.80"/><circle cx="131.2" cy="412.1" r="0.80"/><circle cx="113.3" cy="403.2" r="0.80"/><circle cx="96.1" cy="414.2" r="0.80"/><circle cx="117.8" cy="411.4" r="0.80"/><circle cx="120.2" cy="414.5" r="0.80"/><circle cx="127.2" cy="400.5" r="0.80"/><circle cx="96.2" cy="408.9" r="0.80"/><circle cx="117.5" cy="414.5" r="0.80"/><circle cx="106.8" cy="407.2" r="0.80"/><circle cx="114.7" cy="411.7" r="0.80"/><circle cx="114.7" cy="407.9" r="0.80"/><circle cx="110.2" cy="396.7" r="0.80"/><circle cx="114.7" cy="414.0" r="0.80"/><circle cx="125.7" cy="409.5" r="0.80"/><circle cx="139.5" cy="409.6" r="0.80"/><circle cx="116.3" cy="413.8" r="0.80"/><circle cx="100.7" cy="402.0" r="0.80"/><circle cx="121.8" cy="411.4" r="0.80"/><circle cx="114.7" cy="413.2" r="0.80"/><circle cx="115.8" cy="414.2" r="0.80"/><circle cx="119.2" cy="407.9" r="0.80"/><circle cx="125.0" cy="413.2" r="0.80"/><circle cx="112.1" cy="413.6" r="0.80"/><circle cx="112.7" cy="413.6" r="0.80"/><circle cx="110.6" cy="408.4" r="0.80"/><circle cx="109.3" cy="412.6" r="0.80"/><circle cx="118.5" cy="410.4" r="0.80"/><circle cx="81.0" cy="410.3" r="0.80"/><circle cx="121.0" cy="412.5" r="0.80"/><circle cx="113.1" cy="411.2" r="0.80"/><circle cx="114.8" cy="408.9" r="0.80"/><circle cx="115.4" cy="414.4" r="0.80"/><circle cx="131.9" cy="404.3" r="0.80"/><circle cx="123.0" cy="404.2" r="0.80"/><circle cx="117.5" cy="413.1" r="0.80"/><circle cx="130.2" cy="413.0" r="0.80"/><circle cx="112.9" cy="407.2" r="0.80"/><circle cx="111.5" cy="412.4" r="0.80"/><circle cx="119.0" cy="413.8" r="0.80"/><circle cx="115.2" cy="413.2" r="0.80"/><circle cx="106.8" cy="405.6" r="0.80"/><circle cx="116.2" cy="414.5" r="0.80"/><circle cx="103.1" cy="410.8" r="0.80"/><circle cx="141.5" cy="413.0" r="0.80"/><circle cx="129.6" cy="400.4" r="0.80"/><circle cx="115.3" cy="414.5" r="0.80"/><circle cx="114.3" cy="408.4" r="0.80"/><circle cx="120.8" cy="399.4" r="0.80"/><circle cx="109.2" cy="411.5" r="0.80"/><circle cx="125.2" cy="410.5" r="0.80"/><circle cx="107.2" cy="408.4" r="0.80"/><circle cx="117.0" cy="413.7" r="0.80"/><circle cx="100.0" cy="402.8" r="0.80"/><circle cx="120.2" cy="401.6" r="0.80"/><circle cx="124.6" cy="411.0" r="0.80"/><circle cx="93.0" cy="410.1" r="0.80"/><circle cx="124.2" cy="411.7" r="0.80"/><circle cx="128.6" cy="406.8" r="0.80"/><circle cx="147.8" cy="409.2" r="0.80"/><circle cx="114.0" cy="411.7" r="0.80"/><circle cx="96.0" cy="412.0" r="0.80"/><circle cx="131.8" cy="397.3" r="0.80"/><circle cx="99.3" cy="399.5" r="0.80"/><circle cx="125.7" cy="401.3" r="0.80"/><circle cx="133.1" cy="400.5" r="0.80"/><circle cx="134.6" cy="412.9" r="0.80"/><circle cx="123.9" cy="392.8" r="0.80"/><circle cx="101.0" cy="404.5" r="0.80"/><circle cx="123.2" cy="414.4" r="0.80"/><circle cx="124.6" cy="409.2" r="0.80"/><circle cx="112.2" cy="410.3" r="0.80"/><circle cx="125.6" cy="412.0" r="0.80"/><circle cx="127.1" cy="396.1" r="0.80"/><circle cx="118.0" cy="410.2" r="0.80"/><circle cx="102.2" cy="409.1" r="0.80"/><circle cx="121.3" cy="398.3" r="0.80"/><circle cx="109.7" cy="408.4" r="0.80"/><circle cx="119.3" cy="409.5" r="0.80"/><circle cx="135.9" cy="404.0" r="0.80"/><circle cx="99.7" cy="402.6" r="0.80"/><circle cx="109.7" cy="412.1" r="0.80"/><circle cx="104.9" cy="409.8" r="0.80"/><circle cx="126.2" cy="407.3" r="0.80"/><circle cx="120.8" cy="414.3" r="0.80"/><circle cx="115.9" cy="413.2" r="0.80"/><circle cx="124.9" cy="402.7" r="0.80"/><circle cx="109.6" cy="397.5" r="0.80"/><circle cx="150.3" cy="411.0" r="0.80"/><circle cx="108.2" cy="402.1" r="0.80"/><circle cx="118.1" cy="414.3" r="0.80"/><circle cx="119.9" cy="410.9" r="0.80"/><circle cx="120.5" cy="403.8" r="0.80"/><circle cx="81.4" cy="412.2" r="0.80"/><circle cx="108.8" cy="410.7" r="0.80"/><circle cx="104.9" cy="408.9" r="0.80"/><circle cx="115.9" cy="414.5" r="0.80"/><circle cx="116.5" cy="414.5" r="0.80"/><circle cx="106.3" cy="410.1" r="0.80"/><circle cx="104.0" cy="409.8" r="0.80"/><circle cx="109.1" cy="414.1" r="0.80"/><circle cx="116.0" cy="412.3" r="0.80"/><circle cx="115.1" cy="413.4" r="0.80"/><circle cx="110.0" cy="405.4" r="0.80"/><circle cx="115.1" cy="409.5" r="0.80"/><circle cx="133.3" cy="413.6" r="0.80"/><circle cx="99.1" cy="407.3" r="0.80"/><circle cx="89.9" cy="412.5" r="0.80"/><circle cx="120.3" cy="414.2" r="0.80"/><circle cx="110.1" cy="414.0" r="0.80"/><circle cx="129.1" cy="400.0" r="0.80"/><circle cx="131.4" cy="414.5" r="0.80"/><circle cx="125.7" cy="408.2" r="0.80"/><circle cx="129.3" cy="398.4" r="0.80"/><circle cx="117.9" cy="410.5" r="0.80"/><circle cx="112.4" cy="414.1" r="0.80"/><circle cx="141.2" cy="409.9" r="0.80"/><circle cx="113.4" cy="413.1" r="0.80"/><circle cx="109.9" cy="411.9" r="0.80"/><circle cx="121.0" cy="398.2" r="0.80"/><circle cx="111.4" cy="414.4" r="0.80"/><circle cx="91.9" cy="405.7" r="0.80"/><circle cx="109.2" cy="391.9" r="0.80"/><circle cx="123.3" cy="392.5" r="0.80"/><circle cx="93.4" cy="405.0" r="0.80"/><circle cx="98.0" cy="409.9" r="0.80"/><circle cx="121.4" cy="410.8" r="0.80"/><circle cx="126.9" cy="414.5" r="0.80"/><circle cx="122.0" cy="412.7" r="0.80"/><circle cx="105.7" cy="403.7" r="0.80"/><circle cx="123.8" cy="408.6" r="0.80"/><circle cx="103.8" cy="396.5" r="0.80"/><circle cx="144.3" cy="406.6" r="0.80"/><circle cx="109.2" cy="410.9" r="0.80"/><circle cx="120.3" cy="407.9" r="0.80"/><circle cx="114.1" cy="409.0" r="0.80"/><circle cx="111.8" cy="406.2" r="0.80"/><circle cx="151.1" cy="413.2" r="0.80"/><circle cx="112.4" cy="411.0" r="0.80"/><circle cx="115.2" cy="414.0" r="0.80"/><circle cx="117.3" cy="412.1" r="0.80"/><circle cx="137.6" cy="402.6" r="0.80"/><circle cx="124.5" cy="401.5" r="0.80"/><circle cx="110.6" cy="414.4" r="0.80"/><circle cx="121.7" cy="413.8" r="0.80"/><circle cx="111.4" cy="393.1" r="0.80"/><circle cx="121.9" cy="411.7" r="0.80"/><circle cx="113.3" cy="410.6" r="0.80"/><circle cx="118.7" cy="409.3" r="0.80"/><circle cx="111.5" cy="406.8" r="0.80"/><circle cx="125.7" cy="414.1" r="0.80"/><circle cx="116.6" cy="414.4" r="0.80"/><circle cx="137.0" cy="414.2" r="0.80"/><circle cx="128.0" cy="405.8" r="0.80"/><circle cx="119.0" cy="413.4" r="0.80"/><circle cx="133.5" cy="408.5" r="0.80"/><circle cx="99.7" cy="408.5" r="0.80"/><circle cx="119.5" cy="413.2" r="0.80"/><circle cx="114.2" cy="407.4" r="0.80"/><circle cx="71.7" cy="407.8" r="0.80"/><circle cx="102.8" cy="409.1" r="0.80"/><circle cx="126.6" cy="395.5" r="0.80"/><circle cx="107.4" cy="393.4" r="0.80"/><circle cx="111.6" cy="402.6" r="0.80"/><circle cx="136.9" cy="411.4" r="0.80"/><circle cx="107.6" cy="403.8" r="0.80"/><circle cx="106.8" cy="414.1" r="0.80"/><circle cx="129.3" cy="405.4" r="0.80"/><circle cx="110.3" cy="411.1" r="0.80"/><circle cx="118.7" cy="414.5" r="0.80"/><circle cx="123.8" cy="412.1" r="0.80"/><circle cx="103.6" cy="407.1" r="0.80"/><circle cx="130.6" cy="406.5" r="0.80"/><circle cx="104.1" cy="413.3" r="0.80"/><circle cx="124.1" cy="385.7" r="0.80"/><circle cx="105.3" cy="414.5" r="0.80"/><circle cx="101.4" cy="410.2" r="0.80"/><circle cx="114.6" cy="410.7" r="0.80"/><circle cx="118.3" cy="413.7" r="0.80"/><circle cx="123.0" cy="407.5" r="0.80"/><circle cx="116.4" cy="414.4" r="0.80"/><circle cx="134.4" cy="406.1" r="0.80"/><circle cx="118.8" cy="412.9" r="0.80"/><circle cx="103.4" cy="412.7" r="0.80"/><circle cx="129.1" cy="407.8" r="0.80"/><circle cx="126.2" cy="400.6" r="0.80"/><circle cx="115.2" cy="413.3" r="0.80"/><circle cx="118.2" cy="414.5" r="0.80"/><circle cx="99.5" cy="413.6" r="0.80"/><circle cx="124.5" cy="406.7" r="0.80"/><circle cx="125.1" cy="404.2" r="0.80"/><circle cx="101.7" cy="397.9" r="0.80"/><circle cx="127.5" cy="397.0" r="0.80"/><circle cx="113.3" cy="413.7" r="0.80"/><circle cx="114.7" cy="412.7" r="0.80"/><circle cx="137.7" cy="414.2" r="0.80"/><circle cx="100.1" cy="409.8" r="0.80"/><circle cx="108.8" cy="407.2" r="0.80"/><circle cx="119.1" cy="413.7" r="0.80"/><circle cx="112.8" cy="408.7" r="0.80"/><circle cx="120.7" cy="405.9" r="0.80"/><circle cx="108.5" cy="409.6" r="0.80"/><circle cx="112.2" cy="403.4" r="0.80"/><circle cx="107.0" cy="410.6" r="0.80"/><circle cx="107.8" cy="398.3" r="0.80"/><circle cx="113.6" cy="414.1" r="0.80"/><circle cx="114.8" cy="408.8" r="0.80"/><circle cx="108.9" cy="414.2" r="0.80"/><circle cx="116.3" cy="414.0" r="0.80"/><circle cx="106.5" cy="404.4" r="0.80"/><circle cx="122.5" cy="403.6" r="0.80"/><circle cx="104.1" cy="397.3" r="0.80"/><circle cx="107.8" cy="405.3" r="0.80"/><circle cx="108.9" cy="387.1" r="0.80"/><circle cx="108.0" cy="412.9" r="0.80"/><circle cx="121.8" cy="413.6" r="0.80"/><circle cx="93.8" cy="408.9" r="0.80"/><circle cx="127.3" cy="406.8" r="0.80"/><circle cx="96.1" cy="413.9" r="0.80"/><circle cx="136.1" cy="406.6" r="0.80"/><circle cx="107.5" cy="402.2" r="0.80"/><circle cx="124.6" cy="413.1" r="0.80"/><circle cx="103.4" cy="413.8" r="0.80"/><circle cx="109.6" cy="397.5" r="0.80"/><circle cx="138.6" cy="405.4" r="0.80"/><circle cx="114.9" cy="412.6" r="0.80"/><circle cx="120.1" cy="410.4" r="0.80"/><circle cx="108.8" cy="409.7" r="0.80"/><circle cx="104.2" cy="403.4" r="0.80"/><circle cx="113.7" cy="413.6" r="0.80"/><circle cx="113.6" cy="411.8" r="0.80"/><circle cx="121.4" cy="402.1" r="0.80"/><circle cx="107.5" cy="412.3" r="0.80"/><circle cx="114.2" cy="411.2" r="0.80"/><circle cx="96.7" cy="413.6" r="0.80"/><circle cx="124.1" cy="403.9" r="0.80"/><circle cx="116.1" cy="414.5" r="0.80"/><circle cx="117.0" cy="414.5" r="0.80"/><circle cx="103.6" cy="411.7" r="0.80"/><circle cx="117.6" cy="414.4" r="0.80"/><circle cx="142.9" cy="413.3" r="0.80"/><circle cx="118.3" cy="412.6" r="0.80"/><circle cx="103.4" cy="409.7" r="0.80"/><circle cx="113.7" cy="405.0" r="0.80"/><circle cx="103.8" cy="408.3" r="0.80"/><circle cx="129.5" cy="406.1" r="0.80"/><circle cx="128.1" cy="409.0" r="0.80"/><circle cx="117.9" cy="410.2" r="0.80"/><circle cx="125.2" cy="409.3" r="0.80"/><circle cx="81.4" cy="406.4" r="0.80"/><circle cx="103.7" cy="396.8" r="0.80"/><circle cx="99.2" cy="414.4" r="0.80"/><circle cx="138.0" cy="402.9" r="0.80"/><circle cx="113.9" cy="404.7" r="0.80"/><circle cx="161.1" cy="406.9" r="0.80"/><circle cx="102.1" cy="414.3" r="0.80"/><circle cx="125.5" cy="413.2" r="0.80"/><circle cx="126.7" cy="398.1" r="0.80"/><circle cx="115.8" cy="414.0" r="0.80"/><circle cx="135.8" cy="413.5" r="0.80"/><circle cx="115.1" cy="409.2" r="0.80"/><circle cx="116.1" cy="414.1" r="0.80"/><circle cx="130.2" cy="407.4" r="0.80"/><circle cx="87.6" cy="412.3" r="0.80"/><circle cx="120.7" cy="412.5" r="0.80"/><circle cx="124.0" cy="411.5" r="0.80"/><circle cx="163.3" cy="410.2" r="0.80"/><circle cx="129.8" cy="405.6" r="0.80"/><circle cx="106.1" cy="397.7" r="0.80"/><circle cx="131.5" cy="414.1" r="0.80"/><circle cx="106.9" cy="392.9" r="0.80"/><circle cx="118.3" cy="409.0" r="0.80"/><circle cx="125.6" cy="413.2" r="0.80"/><circle cx="99.4" cy="410.0" r="0.80"/><circle cx="124.7" cy="400.8" r="0.80"/><circle cx="132.3" cy="397.5" r="0.80"/><circle cx="139.3" cy="414.2" r="0.80"/><circle cx="124.6" cy="412.7" r="0.80"/><circle cx="162.2" cy="412.4" r="0.80"/><circle cx="133.2" cy="406.6" r="0.80"/><circle cx="122.0" cy="413.0" r="0.80"/><circle cx="141.4" cy="404.2" r="0.80"/><circle cx="133.1" cy="405.7" r="0.80"/><circle cx="110.2" cy="413.1" r="0.80"/><circle cx="117.8" cy="414.5" r="0.80"/><circle cx="105.7" cy="401.9" r="0.80"/><circle cx="97.1" cy="413.9" r="0.80"/><circle cx="104.5" cy="408.2" r="0.80"/><circle cx="108.6" cy="385.3" r="0.80"/><circle cx="130.7" cy="397.9" r="0.80"/><circle cx="132.0" cy="407.1" r="0.80"/><circle cx="113.2" cy="402.1" r="0.80"/><circle cx="125.1" cy="412.8" r="0.80"/><circle cx="120.7" cy="412.1" r="0.80"/><circle cx="120.6" cy="400.5" r="0.80"/><circle cx="114.6" cy="413.5" r="0.80"/><circle cx="133.1" cy="408.9" r="0.80"/><circle cx="114.7" cy="414.5" r="0.80"/><circle cx="127.5" cy="412.8" r="0.80"/><circle cx="126.9" cy="403.7" r="0.80"/><circle cx="119.3" cy="404.5" r="0.80"/><circle cx="104.1" cy="404.4" r="0.80"/><circle cx="117.3" cy="414.5" r="0.80"/><circle cx="120.3" cy="412.8" r="0.80"/><circle cx="118.3" cy="410.5" r="0.80"/><circle cx="100.5" cy="409.3" r="0.80"/><circle cx="110.7" cy="413.7" r="0.80"/><circle cx="125.6" cy="411.7" r="0.80"/><circle cx="141.4" cy="412.1" r="0.80"/><circle cx="115.7" cy="413.9" r="0.80"/><circle cx="122.8" cy="390.3" r="0.80"/><circle cx="120.2" cy="403.9" r="0.80"/><circle cx="117.2" cy="412.3" r="0.80"/><circle cx="123.4" cy="391.5" r="0.80"/><circle cx="112.4" cy="412.5" r="0.80"/><circle cx="108.9" cy="387.0" r="0.80"/><circle cx="122.3" cy="398.1" r="0.80"/><circle cx="108.3" cy="414.2" r="0.80"/><circle cx="108.1" cy="397.7" r="0.80"/><circle cx="118.7" cy="413.2" r="0.80"/><circle cx="130.9" cy="408.6" r="0.80"/><circle cx="102.3" cy="399.9" r="0.80"/><circle cx="118.0" cy="413.4" r="0.80"/><circle cx="113.1" cy="414.1" r="0.80"/><circle cx="125.6" cy="398.4" r="0.80"/><circle cx="116.8" cy="414.5" r="0.80"/><circle cx="111.8" cy="402.0" r="0.80"/><circle cx="119.3" cy="412.6" r="0.80"/><circle cx="137.6" cy="412.2" r="0.80"/><circle cx="114.2" cy="412.1" r="0.80"/><circle cx="108.0" cy="383.7" r="0.80"/><circle cx="116.8" cy="414.5" r="0.80"/><circle cx="141.4" cy="413.9" r="0.80"/><circle cx="119.1" cy="411.0" r="0.80"/><circle cx="126.2" cy="404.6" r="0.80"/><circle cx="121.4" cy="412.1" r="0.80"/><circle cx="140.8" cy="402.6" r="0.80"/><circle cx="123.1" cy="414.3" r="0.80"/><circle cx="116.7" cy="414.2" r="0.80"/><circle cx="123.9" cy="411.0" r="0.80"/><circle cx="124.2" cy="412.8" r="0.80"/><circle cx="125.1" cy="405.8" r="0.80"/><circle cx="108.9" cy="405.4" r="0.80"/><circle cx="114.7" cy="413.8" r="0.80"/><circle cx="97.7" cy="414.1" r="0.80"/><circle cx="122.1" cy="414.0" r="0.80"/><circle cx="125.4" cy="409.6" r="0.80"/><circle cx="113.5" cy="410.2" r="0.80"/><circle cx="120.3" cy="406.8" r="0.80"/><circle cx="137.4" cy="414.5" r="0.80"/><circle cx="118.7" cy="412.0" r="0.80"/><circle cx="114.8" cy="413.9" r="0.80"/><circle cx="118.7" cy="414.3" r="0.80"/><circle cx="115.1" cy="414.2" r="0.80"/><circle cx="135.2" cy="414.0" r="0.80"/><circle cx="126.8" cy="408.1" r="0.80"/><circle cx="122.4" cy="414.4" r="0.80"/><circle cx="128.8" cy="414.5" r="0.80"/><circle cx="118.9" cy="413.4" r="0.80"/><circle cx="126.1" cy="409.9" r="0.80"/><circle cx="117.0" cy="412.8" r="0.80"/><circle cx="116.0" cy="413.8" r="0.80"/><circle cx="112.2" cy="401.1" r="0.80"/><circle cx="120.1" cy="409.9" r="0.80"/><circle cx="96.0" cy="406.3" r="0.80"/><circle cx="121.2" cy="400.8" r="0.80"/><circle cx="109.8" cy="403.4" r="0.80"/><circle cx="106.2" cy="393.3" r="0.80"/><circle cx="120.4" cy="406.2" r="0.80"/><circle cx="83.1" cy="410.8" r="0.80"/><circle cx="121.6" cy="412.8" r="0.80"/><circle cx="134.4" cy="412.5" r="0.80"/><circle cx="135.9" cy="411.3" r="0.80"/><circle cx="126.4" cy="412.4" r="0.80"/><circle cx="119.2" cy="408.5" r="0.80"/><circle cx="155.0" cy="407.7" r="0.80"/><circle cx="125.8" cy="397.9" r="0.80"/><circle cx="111.7" cy="413.9" r="0.80"/><circle cx="116.7" cy="414.4" r="0.80"/><circle cx="113.6" cy="413.8" r="0.80"/><circle cx="108.3" cy="385.3" r="0.80"/><circle cx="116.3" cy="414.4" r="0.80"/><circle cx="103.4" cy="407.6" r="0.80"/><circle cx="111.6" cy="411.1" r="0.80"/><circle cx="110.6" cy="413.0" r="0.80"/><circle cx="118.1" cy="412.6" r="0.80"/><circle cx="104.0" cy="403.5" r="0.80"/><circle cx="123.9" cy="390.7" r="0.80"/><circle cx="120.3" cy="405.2" r="0.80"/><circle cx="125.8" cy="412.1" r="0.80"/><circle cx="103.8" cy="407.1" r="0.80"/><circle cx="118.8" cy="413.7" r="0.80"/><circle cx="116.4" cy="413.8" r="0.80"/><circle cx="120.4" cy="412.9" r="0.80"/><circle cx="114.7" cy="414.4" r="0.80"/><circle cx="108.1" cy="410.4" r="0.80"/><circle cx="122.5" cy="410.1" r="0.80"/><circle cx="114.0" cy="414.5" r="0.80"/><circle cx="110.4" cy="405.2" r="0.80"/><circle cx="113.2" cy="414.3" r="0.80"/><circle cx="112.3" cy="410.3" r="0.80"/><circle cx="116.7" cy="414.2" r="0.80"/><circle cx="105.5" cy="412.1" r="0.80"/><circle cx="104.0" cy="413.5" r="0.80"/><circle cx="116.2" cy="414.1" r="0.80"/><circle cx="123.4" cy="406.0" r="0.80"/><circle cx="109.4" cy="397.8" r="0.80"/><circle cx="133.3" cy="401.7" r="0.80"/><circle cx="101.2" cy="412.8" r="0.80"/><circle cx="115.6" cy="413.9" r="0.80"/><circle cx="103.3" cy="405.9" r="0.80"/><circle cx="132.6" cy="408.5" r="0.80"/><circle cx="108.8" cy="413.6" r="0.80"/><circle cx="133.2" cy="411.9" r="0.80"/><circle cx="118.2" cy="407.9" r="0.80"/><circle cx="115.3" cy="414.5" r="0.80"/><circle cx="102.7" cy="411.7" r="0.80"/><circle cx="104.7" cy="394.7" r="0.80"/><circle cx="126.9" cy="408.0" r="0.80"/><circle cx="112.6" cy="413.3" r="0.80"/><circle cx="126.9" cy="408.3" r="0.80"/><circle cx="105.8" cy="408.9" r="0.80"/><circle cx="111.7" cy="411.8" r="0.80"/><circle cx="128.4" cy="403.8" r="0.80"/><circle cx="120.4" cy="401.8" r="0.80"/><circle cx="125.7" cy="393.3" r="0.80"/><circle cx="108.9" cy="406.5" r="0.80"/><circle cx="113.4" cy="402.4" r="0.80"/><circle cx="126.0" cy="400.2" r="0.80"/><circle cx="103.5" cy="407.3" r="0.80"/><circle cx="110.8" cy="399.7" r="0.80"/><circle cx="117.6" cy="412.5" r="0.80"/><circle cx="130.7" cy="414.3" r="0.80"/><circle cx="112.2" cy="405.4" r="0.80"/><circle cx="126.1" cy="402.9" r="0.80"/><circle cx="95.3" cy="413.0" r="0.80"/><circle cx="138.8" cy="412.9" r="0.80"/><circle cx="103.3" cy="399.8" r="0.80"/><circle cx="119.0" cy="408.7" r="0.80"/><circle cx="123.4" cy="413.5" r="0.80"/><circle cx="119.5" cy="414.5" r="0.80"/><circle cx="103.3" cy="410.3" r="0.80"/><circle cx="116.6" cy="414.4" r="0.80"/><circle cx="125.4" cy="411.3" r="0.80"/><circle cx="93.1" cy="414.2" r="0.80"/><circle cx="122.0" cy="394.9" r="0.80"/><circle cx="125.5" cy="406.3" r="0.80"/><circle cx="97.8" cy="402.1" r="0.80"/><circle cx="115.0" cy="414.2" r="0.80"/><circle cx="124.6" cy="405.0" r="0.80"/><circle cx="119.5" cy="408.0" r="0.80"/><circle cx="113.5" cy="408.2" r="0.80"/><circle cx="127.0" cy="406.4" r="0.80"/><circle cx="122.5" cy="395.8" r="0.80"/><circle cx="98.9" cy="413.7" r="0.80"/><circle cx="96.6" cy="409.5" r="0.80"/><circle cx="117.0" cy="414.2" r="0.80"/><circle cx="120.4" cy="412.7" r="0.80"/><circle cx="112.2" cy="414.5" r="0.80"/><circle cx="90.9" cy="409.4" r="0.80"/><circle cx="122.2" cy="414.5" r="0.80"/><circle cx="123.6" cy="394.3" r="0.80"/><circle cx="112.4" cy="414.4" r="0.80"/><circle cx="112.6" cy="401.8" r="0.80"/><circle cx="118.0" cy="414.5" r="0.80"/><circle cx="111.1" cy="406.5" r="0.80"/><circle cx="121.5" cy="406.3" r="0.80"/><circle cx="128.5" cy="413.2" r="0.80"/><circle cx="113.5" cy="403.3" r="0.80"/><circle cx="135.8" cy="414.3" r="0.80"/><circle cx="114.6" cy="411.0" r="0.80"/><circle cx="155.2" cy="414.2" r="0.80"/><circle cx="115.3" cy="414.5" r="0.80"/><circle cx="112.0" cy="412.9" r="0.80"/><circle cx="120.9" cy="414.2" r="0.80"/><circle cx="119.3" cy="404.9" r="0.80"/><circle cx="121.2" cy="414.5" r="0.80"/><circle cx="96.6" cy="400.4" r="0.80"/><circle cx="115.4" cy="413.1" r="0.80"/><circle cx="122.3" cy="412.7" r="0.80"/><circle cx="151.3" cy="414.4" r="0.80"/><circle cx="116.3" cy="413.9" r="0.80"/><circle cx="112.9" cy="408.5" r="0.80"/><circle cx="105.8" cy="413.0" r="0.80"/><circle cx="97.3" cy="411.9" r="0.80"/><circle cx="99.7" cy="412.8" r="0.80"/><circle cx="133.8" cy="414.4" r="0.80"/><circle cx="99.9" cy="399.2" r="0.80"/><circle cx="121.9" cy="406.7" r="0.80"/><circle cx="140.1" cy="411.6" r="0.80"/><circle cx="84.8" cy="413.8" r="0.80"/><circle cx="110.6" cy="413.8" r="0.80"/><circle cx="121.2" cy="413.8" r="0.80"/><circle cx="115.0" cy="412.5" r="0.80"/><circle cx="105.7" cy="406.8" r="0.80"/><circle cx="116.7" cy="414.5" r="0.80"/><circle cx="124.7" cy="399.3" r="0.80"/><circle cx="127.5" cy="394.9" r="0.80"/><circle cx="119.9" cy="410.8" r="0.80"/><circle cx="96.1" cy="414.2" r="0.80"/><circle cx="121.7" cy="396.2" r="0.80"/><circle cx="126.5" cy="407.9" r="0.80"/><circle cx="107.6" cy="392.8" r="0.80"/><circle cx="117.0" cy="414.3" r="0.80"/><circle cx="119.7" cy="413.2" r="0.80"/><circle cx="120.5" cy="411.7" r="0.80"/><circle cx="117.0" cy="414.3" r="0.80"/><circle cx="112.2" cy="414.4" r="0.80"/><circle cx="115.5" cy="412.1" r="0.80"/><circle cx="131.4" cy="402.2" r="0.80"/><circle cx="108.5" cy="414.4" r="0.80"/><circle cx="117.2" cy="413.6" r="0.80"/><circle cx="106.1" cy="411.4" r="0.80"/><circle cx="106.9" cy="405.6" r="0.80"/><circle cx="116.4" cy="414.1" r="0.80"/><circle cx="121.1" cy="411.8" r="0.80"/><circle cx="113.1" cy="414.5" r="0.80"/><circle cx="126.8" cy="413.4" r="0.80"/><circle cx="116.7" cy="414.4" r="0.80"/><circle cx="117.4" cy="412.9" r="0.80"/><circle cx="129.4" cy="399.6" r="0.80"/><circle cx="117.9" cy="413.3" r="0.80"/><circle cx="114.8" cy="408.2" r="0.80"/><circle cx="115.7" cy="414.4" r="0.80"/><circle cx="119.9" cy="412.0" r="0.80"/><circle cx="119.2" cy="410.9" r="0.80"/><circle cx="112.4" cy="413.3" r="0.80"/><circle cx="103.1" cy="407.0" r="0.80"/><circle cx="123.6" cy="413.5" r="0.80"/><circle cx="118.5" cy="411.5" r="0.80"/><circle cx="111.4" cy="408.9" r="0.80"/><circle cx="118.2" cy="411.9" r="0.80"/><circle cx="129.8" cy="410.8" r="0.80"/><circle cx="147.8" cy="409.8" r="0.80"/><circle cx="122.4" cy="393.9" r="0.80"/><circle cx="110.3" cy="414.2" r="0.80"/><circle cx="109.1" cy="414.0" r="0.80"/><circle cx="121.7" cy="413.9" r="0.80"/><circle cx="115.5" cy="413.2" r="0.80"/><circle cx="104.1" cy="413.6" r="0.80"/><circle cx="93.1" cy="410.1" r="0.80"/><circle cx="117.3" cy="412.2" r="0.80"/><circle cx="85.9" cy="406.1" r="0.80"/><circle cx="127.9" cy="399.8" r="0.80"/><circle cx="114.8" cy="414.5" r="0.80"/><circle cx="128.9" cy="402.8" r="0.80"/><circle cx="104.6" cy="406.1" r="0.80"/><circle cx="114.1" cy="413.1" r="0.80"/><circle cx="132.1" cy="409.4" r="0.80"/><circle cx="117.6" cy="411.0" r="0.80"/><circle cx="92.1" cy="414.5" r="0.80"/><circle cx="128.7" cy="408.8" r="0.80"/><circle cx="108.5" cy="414.4" r="0.80"/><circle cx="117.4" cy="412.2" r="0.80"/><circle cx="120.1" cy="414.5" r="0.80"/><circle cx="147.1" cy="410.3" r="0.80"/><circle cx="107.1" cy="398.3" r="0.80"/><circle cx="121.1" cy="414.0" r="0.80"/><circle cx="113.6" cy="405.2" r="0.80"/><circle cx="112.9" cy="399.9" r="0.80"/><circle cx="126.1" cy="392.8" r="0.80"/><circle cx="113.4" cy="414.2" r="0.80"/><circle cx="122.8" cy="412.1" r="0.80"/><circle cx="114.6" cy="406.5" r="0.80"/><circle cx="116.9" cy="413.4" r="0.80"/><circle cx="105.3" cy="401.3" r="0.80"/><circle cx="106.4" cy="398.6" r="0.80"/><circle cx="106.4" cy="412.7" r="0.80"/><circle cx="103.2" cy="403.9" r="0.80"/><circle cx="115.5" cy="412.1" r="0.80"/><circle cx="112.3" cy="414.5" r="0.80"/><circle cx="117.7" cy="413.4" r="0.80"/><circle cx="108.1" cy="414.4" r="0.80"/><circle cx="103.1" cy="412.2" r="0.80"/><circle cx="121.3" cy="401.8" r="0.80"/><circle cx="126.7" cy="398.7" r="0.80"/><circle cx="117.3" cy="414.3" r="0.80"/><circle cx="126.5" cy="414.4" r="0.80"/><circle cx="108.3" cy="381.2" r="0.80"/><circle cx="97.2" cy="404.9" r="0.80"/><circle cx="109.2" cy="392.5" r="0.80"/><circle cx="110.4" cy="414.5" r="0.80"/><circle cx="118.2" cy="413.1" r="0.80"/><circle cx="103.6" cy="399.4" r="0.80"/><circle cx="126.5" cy="402.6" r="0.80"/><circle cx="112.3" cy="413.2" r="0.80"/><circle cx="137.5" cy="402.1" r="0.80"/><circle cx="116.5" cy="414.5" r="0.80"/><circle cx="106.4" cy="410.0" r="0.80"/><circle cx="115.6" cy="414.4" r="0.80"/><circle cx="117.8" cy="413.4" r="0.80"/><circle cx="117.4" cy="412.1" r="0.80"/><circle cx="97.8" cy="407.9" r="0.80"/><circle cx="126.3" cy="414.2" r="0.80"/><circle cx="108.8" cy="391.8" r="0.80"/><circle cx="119.6" cy="404.7" r="0.80"/><circle cx="104.5" cy="410.1" r="0.80"/><circle cx="107.0" cy="403.9" r="0.80"/><circle cx="121.9" cy="402.2" r="0.80"/><circle cx="143.2" cy="403.8" r="0.80"/><circle cx="113.7" cy="413.6" r="0.80"/><circle cx="111.3" cy="410.2" r="0.80"/><circle cx="123.2" cy="406.8" r="0.80"/><circle cx="112.8" cy="399.2" r="0.80"/><circle cx="126.6" cy="398.7" r="0.80"/><circle cx="128.3" cy="401.9" r="0.80"/><circle cx="122.5" cy="414.0" r="0.80"/><circle cx="116.3" cy="414.5" r="0.80"/><circle cx="87.0" cy="410.0" r="0.80"/><circle cx="157.0" cy="407.1" r="0.80"/><circle cx="124.1" cy="413.2" r="0.80"/><circle cx="127.6" cy="408.0" r="0.80"/><circle cx="114.0" cy="412.2" r="0.80"/><circle cx="104.0" cy="398.6" r="0.80"/><circle cx="130.0" cy="403.7" r="0.80"/><circle cx="121.2" cy="409.2" r="0.80"/><circle cx="124.0" cy="401.7" r="0.80"/><circle cx="94.6" cy="400.8" r="0.80"/><circle cx="128.4" cy="403.1" r="0.80"/><circle cx="115.8" cy="414.1" r="0.80"/><circle cx="111.7" cy="406.5" r="0.80"/><circle cx="125.0" cy="404.3" r="0.80"/><circle cx="130.0" cy="399.3" r="0.80"/><circle cx="109.1" cy="398.3" r="0.80"/><circle cx="108.4" cy="413.2" r="0.80"/><circle cx="104.6" cy="414.5" r="0.80"/><circle cx="119.5" cy="407.9" r="0.80"/><circle cx="110.2" cy="411.0" r="0.80"/><circle cx="110.7" cy="393.0" r="0.80"/><circle cx="69.5" cy="411.5" r="0.80"/><circle cx="119.7" cy="402.6" r="0.80"/><circle cx="110.5" cy="402.0" r="0.80"/><circle cx="112.8" cy="403.7" r="0.80"/><circle cx="137.8" cy="414.4" r="0.80"/><circle cx="127.4" cy="414.0" r="0.80"/><circle cx="118.7" cy="407.5" r="0.80"/><circle cx="113.6" cy="414.1" r="0.80"/><circle cx="122.1" cy="410.4" r="0.80"/><circle cx="100.0" cy="399.9" r="0.80"/><circle cx="100.7" cy="399.8" r="0.80"/><circle cx="101.8" cy="397.2" r="0.80"/><circle cx="129.7" cy="395.1" r="0.80"/><circle cx="108.5" cy="413.2" r="0.80"/><circle cx="130.0" cy="406.0" r="0.80"/><circle cx="120.0" cy="410.5" r="0.80"/><circle cx="118.4" cy="414.0" r="0.80"/><circle cx="133.5" cy="413.1" r="0.80"/><circle cx="66.3" cy="413.4" r="0.80"/><circle cx="92.2" cy="413.0" r="0.80"/><circle cx="122.5" cy="397.5" r="0.80"/><circle cx="120.0" cy="403.9" r="0.80"/><circle cx="116.7" cy="414.2" r="0.80"/><circle cx="123.3" cy="413.5" r="0.80"/><circle cx="123.7" cy="413.5" r="0.80"/><circle cx="101.2" cy="412.5" r="0.80"/><circle cx="122.6" cy="414.0" r="0.80"/><circle cx="115.2" cy="414.3" r="0.80"/><circle cx="57.3" cy="409.8" r="0.80"/><circle cx="116.9" cy="414.4" r="0.80"/><circle cx="96.9" cy="412.5" r="0.80"/><circle cx="122.3" cy="412.5" r="0.80"/><circle cx="109.7" cy="413.8" r="0.80"/><circle cx="96.8" cy="408.2" r="0.80"/><circle cx="108.7" cy="392.3" r="0.80"/><circle cx="122.7" cy="393.2" r="0.80"/><circle cx="119.7" cy="413.7" r="0.80"/><circle cx="107.3" cy="404.0" r="0.80"/><circle cx="132.8" cy="410.6" r="0.80"/><circle cx="103.3" cy="399.2" r="0.80"/><circle cx="117.8" cy="411.0" r="0.80"/><circle cx="116.2" cy="413.2" r="0.80"/><circle cx="125.3" cy="403.2" r="0.80"/><circle cx="127.8" cy="413.0" r="0.80"/><circle cx="112.1" cy="411.8" r="0.80"/><circle cx="112.1" cy="396.4" r="0.80"/><circle cx="115.1" cy="409.5" r="0.80"/><circle cx="123.5" cy="406.4" r="0.80"/><circle cx="117.3" cy="413.9" r="0.80"/><circle cx="118.4" cy="408.7" r="0.80"/><circle cx="104.1" cy="403.9" r="0.80"/><circle cx="144.1" cy="407.1" r="0.80"/><circle cx="121.7" cy="409.2" r="0.80"/><circle cx="108.8" cy="392.2" r="0.80"/><circle cx="106.5" cy="414.3" r="0.80"/><circle cx="124.9" cy="388.7" r="0.80"/><circle cx="109.5" cy="409.1" r="0.80"/><circle cx="111.5" cy="406.6" r="0.80"/><circle cx="117.7" cy="412.2" r="0.80"/><circle cx="132.4" cy="412.2" r="0.80"/><circle cx="131.2" cy="397.0" r="0.80"/><circle cx="131.8" cy="404.7" r="0.80"/><circle cx="121.0" cy="401.2" r="0.80"/><circle cx="108.6" cy="394.9" r="0.80"/><circle cx="122.5" cy="414.2" r="0.80"/><circle cx="115.8" cy="413.8" r="0.80"/><circle cx="121.7" cy="402.3" r="0.80"/><circle cx="123.7" cy="401.8" r="0.80"/><circle cx="115.5" cy="414.5" r="0.80"/><circle cx="115.8" cy="414.5" r="0.80"/><circle cx="134.4" cy="411.7" r="0.80"/><circle cx="112.2" cy="404.0" r="0.80"/><circle cx="94.4" cy="409.3" r="0.80"/><circle cx="123.7" cy="413.8" r="0.80"/><circle cx="148.9" cy="407.5" r="0.80"/><circle cx="129.9" cy="413.1" r="0.80"/><circle cx="110.3" cy="402.9" r="0.80"/><circle cx="125.5" cy="392.2" r="0.80"/><circle cx="113.2" cy="402.8" r="0.80"/><circle cx="122.9" cy="404.7" r="0.80"/><circle cx="116.1" cy="414.2" r="0.80"/><circle cx="117.7" cy="413.8" r="0.80"/><circle cx="117.4" cy="414.5" r="0.80"/><circle cx="127.2" cy="393.4" r="0.80"/><circle cx="116.5" cy="414.5" r="0.80"/><circle cx="122.1" cy="395.9" r="0.80"/><circle cx="112.8" cy="414.3" r="0.80"/><circle cx="149.7" cy="406.0" r="0.80"/><circle cx="123.6" cy="397.4" r="0.80"/><circle cx="126.8" cy="411.7" r="0.80"/><circle cx="115.6" cy="414.4" r="0.80"/><circle cx="103.7" cy="411.1" r="0.80"/><circle cx="70.6" cy="413.4" r="0.80"/><circle cx="118.0" cy="414.5" r="0.80"/><circle cx="129.3" cy="396.2" r="0.80"/><circle cx="121.5" cy="413.2" r="0.80"/><circle cx="118.0" cy="414.4" r="0.80"/><circle cx="124.5" cy="409.8" r="0.80"/><circle cx="114.2" cy="413.2" r="0.80"/><circle cx="100.6" cy="411.6" r="0.80"/><circle cx="140.6" cy="414.1" r="0.80"/><circle cx="146.2" cy="404.3" r="0.80"/><circle cx="105.3" cy="398.3" r="0.80"/><circle cx="111.2" cy="404.3" r="0.80"/><circle cx="129.6" cy="397.6" r="0.80"/><circle cx="118.1" cy="413.6" r="0.80"/><circle cx="128.8" cy="399.8" r="0.80"/><circle cx="112.8" cy="414.5" r="0.80"/><circle cx="138.8" cy="413.1" r="0.80"/><circle cx="115.1" cy="408.5" r="0.80"/><circle cx="113.3" cy="407.6" r="0.80"/><circle cx="137.8" cy="410.8" r="0.80"/><circle cx="129.6" cy="401.3" r="0.80"/><circle cx="134.7" cy="398.9" r="0.80"/><circle cx="129.8" cy="414.5" r="0.80"/><circle cx="112.6" cy="405.5" r="0.80"/><circle cx="110.6" cy="410.1" r="0.80"/><circle cx="138.2" cy="408.8" r="0.80"/><circle cx="109.4" cy="414.5" r="0.80"/><circle cx="127.5" cy="412.9" r="0.80"/><circle cx="112.6" cy="401.6" r="0.80"/><circle cx="117.6" cy="414.5" r="0.80"/><circle cx="109.2" cy="405.4" r="0.80"/><circle cx="121.8" cy="413.6" r="0.80"/><circle cx="125.5" cy="399.8" r="0.80"/><circle cx="113.9" cy="414.5" r="0.80"/><circle cx="127.6" cy="405.2" r="0.80"/><circle cx="98.1" cy="406.5" r="0.80"/><circle cx="132.3" cy="397.5" r="0.80"/><circle cx="100.8" cy="398.9" r="0.80"/><circle cx="138.3" cy="407.0" r="0.80"/><circle cx="106.9" cy="407.2" r="0.80"/><circle cx="125.6" cy="403.7" r="0.80"/><circle cx="112.9" cy="408.4" r="0.80"/><circle cx="112.8" cy="413.3" r="0.80"/><circle cx="123.5" cy="398.7" r="0.80"/><circle cx="65.0" cy="412.6" r="0.80"/><circle cx="106.4" cy="400.3" r="0.80"/><circle cx="119.2" cy="411.6" r="0.80"/><circle cx="120.8" cy="412.3" r="0.80"/><circle cx="118.3" cy="412.5" r="0.80"/><circle cx="113.6" cy="413.9" r="0.80"/><circle cx="125.7" cy="394.7" r="0.80"/><circle cx="128.5" cy="398.2" r="0.80"/><circle cx="132.0" cy="410.1" r="0.80"/><circle cx="123.4" cy="410.6" r="0.80"/><circle cx="122.3" cy="408.5" r="0.80"/><circle cx="122.7" cy="414.5" r="0.80"/><circle cx="126.2" cy="412.8" r="0.80"/><circle cx="113.9" cy="407.9" r="0.80"/><circle cx="109.9" cy="392.5" r="0.80"/><circle cx="115.6" cy="412.3" r="0.80"/><circle cx="115.2" cy="412.8" r="0.80"/><circle cx="115.9" cy="414.4" r="0.80"/><circle cx="109.1" cy="391.2" r="0.80"/><circle cx="96.9" cy="400.2" r="0.80"/><circle cx="127.1" cy="410.3" r="0.80"/><circle cx="117.4" cy="413.7" r="0.80"/><circle cx="159.2" cy="412.9" r="0.80"/><circle cx="116.2" cy="414.4" r="0.80"/><circle cx="103.4" cy="408.5" r="0.80"/><circle cx="117.1" cy="414.3" r="0.80"/><circle cx="124.0" cy="414.5" r="0.80"/><circle cx="109.2" cy="405.7" r="0.80"/><circle cx="101.2" cy="412.1" r="0.80"/><circle cx="114.9" cy="411.8" r="0.80"/><circle cx="126.6" cy="408.4" r="0.80"/><circle cx="112.5" cy="397.6" r="0.80"/><circle cx="119.9" cy="414.4" r="0.80"/><circle cx="97.7" cy="412.8" r="0.80"/><circle cx="123.0" cy="414.5" r="0.80"/><circle cx="114.0" cy="410.0" r="0.80"/><circle cx="99.4" cy="412.1" r="0.80"/><circle cx="119.6" cy="414.4" r="0.80"/><circle cx="126.4" cy="400.6" r="0.80"/><circle cx="72.5" cy="407.5" r="0.80"/><circle cx="124.3" cy="414.4" r="0.80"/><circle cx="125.5" cy="414.1" r="0.80"/><circle cx="144.5" cy="404.7" r="0.80"/><circle cx="119.9" cy="411.7" r="0.80"/><circle cx="116.7" cy="414.5" r="0.80"/><circle cx="120.2" cy="411.3" r="0.80"/><circle cx="74.5" cy="408.6" r="0.80"/><circle cx="101.6" cy="411.4" r="0.80"/><circle cx="148.0" cy="406.5" r="0.80"/><circle cx="90.4" cy="403.2" r="0.80"/><circle cx="118.4" cy="412.1" r="0.80"/><circle cx="112.3" cy="398.8" r="0.80"/><circle cx="106.9" cy="403.5" r="0.80"/><circle cx="124.7" cy="411.6" r="0.80"/><circle cx="120.9" cy="414.5" r="0.80"/><circle cx="130.6" cy="414.0" r="0.80"/><circle cx="116.9" cy="413.3" r="0.80"/><circle cx="117.4" cy="414.4" r="0.80"/><circle cx="121.3" cy="410.9" r="0.80"/><circle cx="122.8" cy="405.5" r="0.80"/><circle cx="114.6" cy="411.8" r="0.80"/><circle cx="106.0" cy="412.7" r="0.80"/><circle cx="108.0" cy="409.9" r="0.80"/><circle cx="110.6" cy="389.9" r="0.80"/><circle cx="145.5" cy="410.3" r="0.80"/><circle cx="124.5" cy="414.0" r="0.80"/><circle cx="133.5" cy="406.5" r="0.80"/><circle cx="112.3" cy="413.7" r="0.80"/><circle cx="107.2" cy="406.8" r="0.80"/><circle cx="115.8" cy="411.8" r="0.80"/><circle cx="119.4" cy="411.5" r="0.80"/><circle cx="112.2" cy="414.3" r="0.80"/><circle cx="139.4" cy="410.5" r="0.80"/><circle cx="92.2" cy="409.4" r="0.80"/><circle cx="112.8" cy="409.5" r="0.80"/><circle cx="118.4" cy="414.0" r="0.80"/><circle cx="116.5" cy="414.3" r="0.80"/><circle cx="131.2" cy="413.8" r="0.80"/><circle cx="115.1" cy="411.2" r="0.80"/><circle cx="124.3" cy="410.8" r="0.80"/><circle cx="95.3" cy="408.8" r="0.80"/><circle cx="113.9" cy="404.3" r="0.80"/><circle cx="103.5" cy="399.7" r="0.80"/><circle cx="111.6" cy="414.5" r="0.80"/><circle cx="119.3" cy="405.3" r="0.80"/><circle cx="109.6" cy="407.3" r="0.80"/><circle cx="125.5" cy="403.0" r="0.80"/><circle cx="118.6" cy="414.1" r="0.80"/><circle cx="106.2" cy="413.4" r="0.80"/><circle cx="105.7" cy="408.3" r="0.80"/><circle cx="121.4" cy="401.3" r="0.80"/><circle cx="120.7" cy="413.6" r="0.80"/><circle cx="108.3" cy="400.8" r="0.80"/><circle cx="90.6" cy="402.8" r="0.80"/><circle cx="125.6" cy="410.0" r="0.80"/><circle cx="122.4" cy="408.6" r="0.80"/><circle cx="142.1" cy="403.9" r="0.80"/><circle cx="113.2" cy="404.7" r="0.80"/><circle cx="130.1" cy="401.0" r="0.80"/><circle cx="119.3" cy="410.2" r="0.80"/><circle cx="118.6" cy="409.0" r="0.80"/><circle cx="141.0" cy="413.5" r="0.80"/><circle cx="108.5" cy="391.0" r="0.80"/><circle cx="131.4" cy="407.6" r="0.80"/><circle cx="107.9" cy="413.6" r="0.80"/><circle cx="129.1" cy="402.7" r="0.80"/><circle cx="110.5" cy="412.0" r="0.80"/><circle cx="118.4" cy="408.8" r="0.80"/><circle cx="116.2" cy="413.8" r="0.80"/><circle cx="105.7" cy="395.3" r="0.80"/><circle cx="130.1" cy="406.4" r="0.80"/><circle cx="103.8" cy="408.6" r="0.80"/><circle cx="122.5" cy="394.0" r="0.80"/><circle cx="112.4" cy="412.1" r="0.80"/><circle cx="126.0" cy="397.8" r="0.80"/><circle cx="118.0" cy="414.4" r="0.80"/><circle cx="125.7" cy="397.4" r="0.80"/><circle cx="96.1" cy="412.8" r="0.80"/><circle cx="117.1" cy="414.3" r="0.80"/><circle cx="61.1" cy="408.7" r="0.80"/><circle cx="116.3" cy="413.6" r="0.80"/><circle cx="101.5" cy="404.9" r="0.80"/><circle cx="107.9" cy="393.3" r="0.80"/><circle cx="125.0" cy="397.5" r="0.80"/><circle cx="101.7" cy="410.1" r="0.80"/><circle cx="114.8" cy="408.1" r="0.80"/><circle cx="124.9" cy="392.3" r="0.80"/><circle cx="126.9" cy="410.8" r="0.80"/><circle cx="138.7" cy="409.9" r="0.80"/><circle cx="112.3" cy="402.7" r="0.80"/><circle cx="77.9" cy="408.6" r="0.80"/><circle cx="111.6" cy="410.9" r="0.80"/><circle cx="125.6" cy="401.6" r="0.80"/><circle cx="113.0" cy="414.4" r="0.80"/><circle cx="96.9" cy="408.0" r="0.80"/><circle cx="120.2" cy="413.2" r="0.80"/><circle cx="118.8" cy="413.3" r="0.80"/><circle cx="104.1" cy="412.3" r="0.80"/><circle cx="109.7" cy="401.7" r="0.80"/><circle cx="119.9" cy="409.1" r="0.80"/><circle cx="117.8" cy="414.2" r="0.80"/><circle cx="97.3" cy="400.4" r="0.80"/><circle cx="121.6" cy="411.3" r="0.80"/><circle cx="121.9" cy="414.5" r="0.80"/><circle cx="125.1" cy="411.7" r="0.80"/><circle cx="118.0" cy="412.6" r="0.80"/><circle cx="115.4" cy="414.5" r="0.80"/><circle cx="104.8" cy="395.5" r="0.80"/><circle cx="130.6" cy="400.5" r="0.80"/><circle cx="113.4" cy="408.1" r="0.80"/><circle cx="119.6" cy="414.3" r="0.80"/><circle cx="99.4" cy="414.2" r="0.80"/><circle cx="120.5" cy="411.5" r="0.80"/><circle cx="96.9" cy="403.0" r="0.80"/><circle cx="114.8" cy="411.8" r="0.80"/><circle cx="103.1" cy="413.3" r="0.80"/><circle cx="110.9" cy="394.3" r="0.80"/><circle cx="115.5" cy="414.5" r="0.80"/><circle cx="115.0" cy="410.1" r="0.80"/><circle cx="116.6" cy="414.5" r="0.80"/><circle cx="123.5" cy="386.8" r="0.80"/><circle cx="126.2" cy="414.2" r="0.80"/><circle cx="122.1" cy="404.5" r="0.80"/><circle cx="107.7" cy="398.0" r="0.80"/><circle cx="127.9" cy="410.6" r="0.80"/><circle cx="124.6" cy="414.3" r="0.80"/><circle cx="127.9" cy="412.7" r="0.80"/><circle cx="117.3" cy="412.2" r="0.80"/><circle cx="118.3" cy="411.9" r="0.80"/><circle cx="119.6" cy="412.2" r="0.80"/><circle cx="108.6" cy="406.8" r="0.80"/><circle cx="106.6" cy="409.9" r="0.80"/><circle cx="114.5" cy="414.3" r="0.80"/><circle cx="120.0" cy="412.4" r="0.80"/><circle cx="126.9" cy="393.7" r="0.80"/><circle cx="95.1" cy="414.5" r="0.80"/><circle cx="136.7" cy="404.3" r="0.80"/><circle cx="90.2" cy="409.0" r="0.80"/><circle cx="105.6" cy="404.5" r="0.80"/><circle cx="128.3" cy="414.1" r="0.80"/><circle cx="119.5" cy="412.7" r="0.80"/><circle cx="104.1" cy="412.8" r="0.80"/><circle cx="118.4" cy="413.9" r="0.80"/><circle cx="110.0" cy="399.4" r="0.80"/><circle cx="139.6" cy="404.8" r="0.80"/><circle cx="99.8" cy="410.3" r="0.80"/><circle cx="124.2" cy="402.9" r="0.80"/><circle cx="117.0" cy="414.4" r="0.80"/><circle cx="119.2" cy="411.5" r="0.80"/><circle cx="99.8" cy="403.9" r="0.80"/><circle cx="110.9" cy="412.4" r="0.80"/><circle cx="120.9" cy="414.2" r="0.80"/><circle cx="118.2" cy="413.9" r="0.80"/><circle cx="106.5" cy="405.2" r="0.80"/><circle cx="116.5" cy="414.4" r="0.80"/><circle cx="111.7" cy="408.0" r="0.80"/><circle cx="111.0" cy="404.4" r="0.80"/><circle cx="131.1" cy="407.3" r="0.80"/><circle cx="120.2" cy="411.2" r="0.80"/><circle cx="116.1" cy="414.5" r="0.80"/><circle cx="102.8" cy="400.5" r="0.80"/><circle cx="113.4" cy="413.2" r="0.80"/><circle cx="128.4" cy="401.3" r="0.80"/><circle cx="88.0" cy="411.9" r="0.80"/><circle cx="121.6" cy="398.8" r="0.80"/><circle cx="99.7" cy="412.3" r="0.80"/><circle cx="108.2" cy="411.1" r="0.80"/><circle cx="108.2" cy="410.3" r="0.80"/><circle cx="119.5" cy="413.1" r="0.80"/><circle cx="117.3" cy="412.2" r="0.80"/><circle cx="129.3" cy="399.1" r="0.80"/><circle cx="111.6" cy="399.4" r="0.80"/><circle cx="139.5" cy="414.1" r="0.80"/><circle cx="130.2" cy="413.0" r="0.80"/><circle cx="128.4" cy="397.3" r="0.80"/><circle cx="114.1" cy="413.2" r="0.80"/><circle cx="142.8" cy="404.9" r="0.80"/><circle cx="111.4" cy="402.6" r="0.80"/><circle cx="116.8" cy="414.5" r="0.80"/><circle cx="115.6" cy="414.3" r="0.80"/><circle cx="138.6" cy="412.9" r="0.80"/><circle cx="108.6" cy="414.5" r="0.80"/><circle cx="115.7" cy="414.2" r="0.80"/><circle cx="133.7" cy="406.7" r="0.80"/><circle cx="110.9" cy="410.0" r="0.80"/><circle cx="109.9" cy="413.5" r="0.80"/><circle cx="103.3" cy="404.6" r="0.80"/><circle cx="113.3" cy="410.1" r="0.80"/><circle cx="133.9" cy="412.5" r="0.80"/><circle cx="107.9" cy="378.9" r="0.80"/><circle cx="114.2" cy="413.6" r="0.80"/><circle cx="125.3" cy="403.8" r="0.80"/><circle cx="117.8" cy="412.6" r="0.80"/><circle cx="121.8" cy="413.7" r="0.80"/><circle cx="121.5" cy="411.6" r="0.80"/><circle cx="84.8" cy="413.6" r="0.80"/><circle cx="108.2" cy="399.2" r="0.80"/><circle cx="131.5" cy="412.5" r="0.80"/><circle cx="118.5" cy="412.0" r="0.80"/><circle cx="130.2" cy="399.8" r="0.80"/><circle cx="105.3" cy="396.0" r="0.80"/><circle cx="112.6" cy="398.1" r="0.80"/><circle cx="119.0" cy="407.0" r="0.80"/><circle cx="121.6" cy="410.9" r="0.80"/><circle cx="102.6" cy="398.5" r="0.80"/><circle cx="134.3" cy="398.8" r="0.80"/><circle cx="127.4" cy="409.6" r="0.80"/><circle cx="129.9" cy="412.1" r="0.80"/><circle cx="112.3" cy="414.3" r="0.80"/><circle cx="139.5" cy="410.7" r="0.80"/><circle cx="92.1" cy="413.2" r="0.80"/><circle cx="116.9" cy="414.2" r="0.80"/><circle cx="128.8" cy="405.5" r="0.80"/><circle cx="107.0" cy="394.7" r="0.80"/><circle cx="100.5" cy="413.5" r="0.80"/><circle cx="110.9" cy="406.8" r="0.80"/><circle cx="133.4" cy="408.5" r="0.80"/><circle cx="118.5" cy="406.6" r="0.80"/><circle cx="104.1" cy="397.0" r="0.80"/><circle cx="126.8" cy="414.4" r="0.80"/><circle cx="116.6" cy="414.4" r="0.80"/><circle cx="125.7" cy="408.6" r="0.80"/><circle cx="106.8" cy="405.3" r="0.80"/><circle cx="140.6" cy="412.5" r="0.80"/><circle cx="129.6" cy="413.9" r="0.80"/><circle cx="130.1" cy="408.1" r="0.80"/><circle cx="110.0" cy="414.4" r="0.80"/><circle cx="108.5" cy="389.1" r="0.80"/><circle cx="88.5" cy="408.8" r="0.80"/><circle cx="106.8" cy="402.5" r="0.80"/><circle cx="118.4" cy="414.3" r="0.80"/><circle cx="135.7" cy="412.1" r="0.80"/><circle cx="120.5" cy="406.4" r="0.80"/><circle cx="117.5" cy="413.8" r="0.80"/><circle cx="113.4" cy="414.4" r="0.80"/><circle cx="128.4" cy="414.2" r="0.80"/><circle cx="112.2" cy="412.3" r="0.80"/><circle cx="87.8" cy="412.7" r="0.80"/><circle cx="143.2" cy="404.6" r="0.80"/><circle cx="113.5" cy="409.6" r="0.80"/><circle cx="129.0" cy="402.9" r="0.80"/><circle cx="131.9" cy="406.7" r="0.80"/><circle cx="152.6" cy="407.4" r="0.80"/><circle cx="90.4" cy="403.0" r="0.80"/><circle cx="133.4" cy="406.5" r="0.80"/><circle cx="124.5" cy="395.7" r="0.80"/><circle cx="132.9" cy="408.0" r="0.80"/><circle cx="113.0" cy="406.2" r="0.80"/><circle cx="140.7" cy="413.8" r="0.80"/><circle cx="123.3" cy="414.3" r="0.80"/><circle cx="153.4" cy="413.0" r="0.80"/><circle cx="119.5" cy="409.8" r="0.80"/><circle cx="111.3" cy="412.3" r="0.80"/><circle cx="101.1" cy="412.2" r="0.80"/><circle cx="114.4" cy="411.2" r="0.80"/><circle cx="110.1" cy="394.2" r="0.80"/><circle cx="110.8" cy="406.1" r="0.80"/><circle cx="109.4" cy="410.2" r="0.80"/><circle cx="110.9" cy="409.2" r="0.80"/><circle cx="138.0" cy="411.9" r="0.80"/><circle cx="115.6" cy="414.5" r="0.80"/><circle cx="108.6" cy="393.4" r="0.80"/><circle cx="125.5" cy="405.6" r="0.80"/><circle cx="117.1" cy="414.4" r="0.80"/><circle cx="103.5" cy="395.3" r="0.80"/><circle cx="117.6" cy="414.4" r="0.80"/><circle cx="126.3" cy="402.0" r="0.80"/><circle cx="120.7" cy="413.1" r="0.80"/><circle cx="123.5" cy="410.4" r="0.80"/><circle cx="124.2" cy="402.1" r="0.80"/><circle cx="107.3" cy="407.4" r="0.80"/><circle cx="122.8" cy="410.4" r="0.80"/><circle cx="64.0" cy="413.0" r="0.80"/><circle cx="115.4" cy="411.8" r="0.80"/><circle cx="124.4" cy="392.8" r="0.80"/><circle cx="111.3" cy="414.4" r="0.80"/><circle cx="117.8" cy="410.0" r="0.80"/><circle cx="135.3" cy="408.5" r="0.80"/><circle cx="116.1" cy="412.9" r="0.80"/><circle cx="117.4" cy="413.0" r="0.80"/><circle cx="100.7" cy="407.2" r="0.80"/><circle cx="109.9" cy="413.9" r="0.80"/><circle cx="114.7" cy="406.8" r="0.80"/><circle cx="114.8" cy="414.1" r="0.80"/><circle cx="114.4" cy="414.1" r="0.80"/><circle cx="121.7" cy="393.1" r="0.80"/><circle cx="129.9" cy="414.1" r="0.80"/><circle cx="129.4" cy="395.9" r="0.80"/><circle cx="114.0" cy="412.1" r="0.80"/><circle cx="104.5" cy="412.1" r="0.80"/><circle cx="107.8" cy="401.9" r="0.80"/><circle cx="128.0" cy="408.2" r="0.80"/><circle cx="116.5" cy="414.4" r="0.80"/><circle cx="127.4" cy="412.2" r="0.80"/><circle cx="118.2" cy="410.3" r="0.80"/><circle cx="98.0" cy="406.5" r="0.80"/><circle cx="110.6" cy="414.5" r="0.80"/><circle cx="105.1" cy="402.2" r="0.80"/><circle cx="123.1" cy="414.5" r="0.80"/><circle cx="122.1" cy="400.5" r="0.80"/><circle cx="130.8" cy="407.3" r="0.80"/><circle cx="105.9" cy="413.1" r="0.80"/><circle cx="123.8" cy="410.1" r="0.80"/><circle cx="107.1" cy="395.2" r="0.80"/><circle cx="125.6" cy="406.5" r="0.80"/><circle cx="98.7" cy="406.8" r="0.80"/><circle cx="90.5" cy="410.0" r="0.80"/><circle cx="118.4" cy="413.8" r="0.80"/><circle cx="98.6" cy="405.5" r="0.80"/><circle cx="105.3" cy="409.6" r="0.80"/><circle cx="109.9" cy="414.5" r="0.80"/><circle cx="121.2" cy="411.3" r="0.80"/><circle cx="101.5" cy="404.5" r="0.80"/><circle cx="118.3" cy="411.6" r="0.80"/><circle cx="111.1" cy="414.0" r="0.80"/><circle cx="132.9" cy="413.1" r="0.80"/><circle cx="98.7" cy="413.9" r="0.80"/><circle cx="115.7" cy="414.5" r="0.80"/><circle cx="114.6" cy="413.8" r="0.80"/><circle cx="112.6" cy="410.8" r="0.80"/><circle cx="126.9" cy="399.2" r="0.80"/><circle cx="112.1" cy="406.1" r="0.80"/><circle cx="128.5" cy="394.3" r="0.80"/><circle cx="119.3" cy="407.8" r="0.80"/><circle cx="153.5" cy="413.1" r="0.80"/><circle cx="116.1" cy="414.4" r="0.80"/><circle cx="115.7" cy="414.4" r="0.80"/><circle cx="115.1" cy="410.7" r="0.80"/><circle cx="108.7" cy="410.8" r="0.80"/><circle cx="100.1" cy="412.7" r="0.80"/><circle cx="106.8" cy="400.1" r="0.80"/><circle cx="128.6" cy="407.4" r="0.80"/><circle cx="115.0" cy="414.0" r="0.80"/><circle cx="116.6" cy="414.5" r="0.80"/><circle cx="127.9" cy="402.9" r="0.80"/><circle cx="116.6" cy="414.4" r="0.80"/><circle cx="130.6" cy="408.2" r="0.80"/><circle cx="103.6" cy="401.8" r="0.80"/><circle cx="117.0" cy="413.1" r="0.80"/><circle cx="125.4" cy="403.8" r="0.80"/><circle cx="112.2" cy="408.6" r="0.80"/><circle cx="120.3" cy="413.8" r="0.80"/><circle cx="109.3" cy="412.2" r="0.80"/><circle cx="126.4" cy="410.5" r="0.80"/><circle cx="115.7" cy="413.3" r="0.80"/><circle cx="108.9" cy="400.4" r="0.80"/><circle cx="135.5" cy="404.4" r="0.80"/><circle cx="117.8" cy="414.5" r="0.80"/><circle cx="137.1" cy="402.5" r="0.80"/><circle cx="136.1" cy="411.3" r="0.80"/><circle cx="125.0" cy="383.2" r="0.80"/><circle cx="124.8" cy="402.1" r="0.80"/><circle cx="129.7" cy="414.0" r="0.80"/><circle cx="121.9" cy="414.3" r="0.80"/><circle cx="122.8" cy="400.4" r="0.80"/><circle cx="122.9" cy="409.1" r="0.80"/><circle cx="128.6" cy="408.0" r="0.80"/><circle cx="119.6" cy="414.4" r="0.80"/><circle cx="127.8" cy="414.4" r="0.80"/><circle cx="113.0" cy="414.5" r="0.80"/><circle cx="107.8" cy="399.8" r="0.80"/><circle cx="116.2" cy="412.8" r="0.80"/><circle cx="108.0" cy="403.6" r="0.80"/><circle cx="124.9" cy="401.6" r="0.80"/><circle cx="123.0" cy="395.1" r="0.80"/><circle cx="116.0" cy="413.6" r="0.80"/><circle cx="130.8" cy="414.4" r="0.80"/><circle cx="99.8" cy="407.6" r="0.80"/><circle cx="123.8" cy="406.5" r="0.80"/><circle cx="116.9" cy="414.5" r="0.80"/><circle cx="133.9" cy="412.7" r="0.80"/><circle cx="112.6" cy="414.0" r="0.80"/><circle cx="113.5" cy="411.2" r="0.80"/><circle cx="111.4" cy="414.5" r="0.80"/><circle cx="81.3" cy="409.3" r="0.80"/><circle cx="109.5" cy="412.6" r="0.80"/><circle cx="112.3" cy="398.4" r="0.80"/><circle cx="112.1" cy="400.5" r="0.80"/><circle cx="118.1" cy="414.2" r="0.80"/><circle cx="119.4" cy="413.1" r="0.80"/><circle cx="109.7" cy="412.6" r="0.80"/><circle cx="125.1" cy="388.2" r="0.80"/><circle cx="115.0" cy="409.5" r="0.80"/><circle cx="132.5" cy="412.8" r="0.80"/><circle cx="135.2" cy="413.1" r="0.80"/><circle cx="122.2" cy="396.0" r="0.80"/><circle cx="112.1" cy="403.2" r="0.80"/><circle cx="108.1" cy="413.6" r="0.80"/><circle cx="111.4" cy="393.3" r="0.80"/><circle cx="125.2" cy="411.5" r="0.80"/><circle cx="111.8" cy="406.5" r="0.80"/><circle cx="112.0" cy="414.2" r="0.80"/><circle cx="128.7" cy="396.3" r="0.80"/><circle cx="95.5" cy="412.9" r="0.80"/><circle cx="112.3" cy="407.9" r="0.80"/><circle cx="122.2" cy="407.7" r="0.80"/><circle cx="72.2" cy="409.5" r="0.80"/><circle cx="121.1" cy="413.8" r="0.80"/><circle cx="115.2" cy="410.6" r="0.80"/><circle cx="107.4" cy="414.0" r="0.80"/><circle cx="115.3" cy="414.3" r="0.80"/><circle cx="126.3" cy="413.3" r="0.80"/><circle cx="106.2" cy="410.1" r="0.80"/><circle cx="124.4" cy="402.8" r="0.80"/><circle cx="121.0" cy="409.6" r="0.80"/><circle cx="98.8" cy="409.3" r="0.80"/><circle cx="98.6" cy="413.2" r="0.80"/><circle cx="128.5" cy="409.3" r="0.80"/><circle cx="122.1" cy="406.7" r="0.80"/><circle cx="123.0" cy="414.4" r="0.80"/><circle cx="121.6" cy="414.4" r="0.80"/><circle cx="113.6" cy="414.2" r="0.80"/><circle cx="117.5" cy="414.2" r="0.80"/><circle cx="104.5" cy="413.0" r="0.80"/><circle cx="119.3" cy="414.5" r="0.80"/><circle cx="120.5" cy="399.5" r="0.80"/><circle cx="120.8" cy="414.4" r="0.80"/><circle cx="123.1" cy="413.3" r="0.80"/><circle cx="125.7" cy="394.6" r="0.80"/><circle cx="109.7" cy="401.6" r="0.80"/><circle cx="136.6" cy="405.1" r="0.80"/><circle cx="150.6" cy="412.0" r="0.80"/><circle cx="106.0" cy="398.3" r="0.80"/><circle cx="115.8" cy="413.5" r="0.80"/><circle cx="98.2" cy="413.8" r="0.80"/><circle cx="114.8" cy="414.5" r="0.80"/><circle cx="127.4" cy="398.9" r="0.80"/><circle cx="115.9" cy="413.6" r="0.80"/><circle cx="124.7" cy="414.0" r="0.80"/><circle cx="120.3" cy="411.3" r="0.80"/><circle cx="114.8" cy="413.8" r="0.80"/><circle cx="139.3" cy="412.5" r="0.80"/><circle cx="122.9" cy="404.1" r="0.80"/><circle cx="112.8" cy="414.3" r="0.80"/><circle cx="103.1" cy="399.5" r="0.80"/><circle cx="109.2" cy="412.3" r="0.80"/><circle cx="132.0" cy="402.9" r="0.80"/><circle cx="122.1" cy="409.4" r="0.80"/><circle cx="119.1" cy="408.6" r="0.80"/><circle cx="103.0" cy="401.6" r="0.80"/><circle cx="118.1" cy="414.5" r="0.80"/><circle cx="99.0" cy="412.9" r="0.80"/><circle cx="122.3" cy="406.3" r="0.80"/><circle cx="123.9" cy="397.2" r="0.80"/><circle cx="125.4" cy="402.2" r="0.80"/><circle cx="137.2" cy="401.7" r="0.80"/><circle cx="128.7" cy="402.3" r="0.80"/><circle cx="120.2" cy="414.5" r="0.80"/><circle cx="97.1" cy="405.0" r="0.80"/><circle cx="133.5" cy="399.0" r="0.80"/><circle cx="125.6" cy="402.4" r="0.80"/><circle cx="153.3" cy="414.3" r="0.80"/><circle cx="104.0" cy="404.0" r="0.80"/><circle cx="103.7" cy="402.1" r="0.80"/><circle cx="86.4" cy="412.3" r="0.80"/><circle cx="110.4" cy="403.5" r="0.80"/><circle cx="110.2" cy="408.7" r="0.80"/><circle cx="116.3" cy="414.5" r="0.80"/><circle cx="91.0" cy="405.9" r="0.80"/><circle cx="77.8" cy="413.4" r="0.80"/><circle cx="120.3" cy="414.0" r="0.80"/><circle cx="120.0" cy="411.6" r="0.80"/><circle cx="110.7" cy="413.8" r="0.80"/><circle cx="86.0" cy="414.5" r="0.80"/><circle cx="112.1" cy="408.3" r="0.80"/><circle cx="101.9" cy="399.7" r="0.80"/><circle cx="152.3" cy="414.4" r="0.80"/><circle cx="120.3" cy="410.0" r="0.80"/><circle cx="131.2" cy="397.7" r="0.80"/><circle cx="126.7" cy="406.0" r="0.80"/><circle cx="119.4" cy="406.1" r="0.80"/><circle cx="114.7" cy="407.7" r="0.80"/><circle cx="98.4" cy="407.0" r="0.80"/><circle cx="110.6" cy="390.9" r="0.80"/><circle cx="119.9" cy="413.8" r="0.80"/><circle cx="125.1" cy="382.4" r="0.80"/><circle cx="119.8" cy="412.6" r="0.80"/><circle cx="115.9" cy="413.8" r="0.80"/><circle cx="109.8" cy="412.2" r="0.80"/><circle cx="121.9" cy="405.6" r="0.80"/><circle cx="111.7" cy="401.2" r="0.80"/><circle cx="124.5" cy="394.3" r="0.80"/><circle cx="112.4" cy="413.1" r="0.80"/><circle cx="116.9" cy="414.1" r="0.80"/><circle cx="144.5" cy="414.5" r="0.80"/><circle cx="116.6" cy="414.5" r="0.80"/><circle cx="114.5" cy="414.2" r="0.80"/><circle cx="127.7" cy="414.5" r="0.80"/><circle cx="115.1" cy="411.3" r="0.80"/><circle cx="91.4" cy="413.0" r="0.80"/><circle cx="120.2" cy="399.6" r="0.80"/><circle cx="128.9" cy="397.4" r="0.80"/><circle cx="108.1" cy="409.3" r="0.80"/><circle cx="112.7" cy="412.3" r="0.80"/><circle cx="131.0" cy="409.7" r="0.80"/><circle cx="137.0" cy="414.3" r="0.80"/><circle cx="106.3" cy="403.6" r="0.80"/><circle cx="108.7" cy="409.5" r="0.80"/><circle cx="120.5" cy="411.8" r="0.80"/><circle cx="129.3" cy="411.2" r="0.80"/><circle cx="98.3" cy="405.2" r="0.80"/><circle cx="124.4" cy="391.7" r="0.80"/><circle cx="126.3" cy="414.5" r="0.80"/><circle cx="77.8" cy="411.0" r="0.80"/><circle cx="109.4" cy="387.7" r="0.80"/><circle cx="150.8" cy="408.1" r="0.80"/><circle cx="115.3" cy="414.3" r="0.80"/><circle cx="122.5" cy="410.0" r="0.80"/><circle cx="131.1" cy="398.1" r="0.80"/><circle cx="106.2" cy="409.2" r="0.80"/><circle cx="129.4" cy="413.8" r="0.80"/><circle cx="124.2" cy="414.5" r="0.80"/><circle cx="128.1" cy="404.6" r="0.80"/><circle cx="124.3" cy="384.4" r="0.80"/><circle cx="133.3" cy="407.4" r="0.80"/><circle cx="124.1" cy="387.2" r="0.80"/><circle cx="110.4" cy="414.1" r="0.80"/><circle cx="136.2" cy="401.9" r="0.80"/><circle cx="148.2" cy="414.3" r="0.80"/><circle cx="110.8" cy="391.2" r="0.80"/><circle cx="113.0" cy="414.5" r="0.80"/><circle cx="102.6" cy="413.4" r="0.80"/><circle cx="115.3" cy="413.4" r="0.80"/><circle cx="118.5" cy="412.6" r="0.80"/><circle cx="110.6" cy="395.1" r="0.80"/><circle cx="123.2" cy="411.2" r="0.80"/><circle cx="154.4" cy="413.9" r="0.80"/><circle cx="108.9" cy="408.0" r="0.80"/><circle cx="118.7" cy="406.3" r="0.80"/><circle cx="122.1" cy="404.9" r="0.80"/><circle cx="130.5" cy="413.6" r="0.80"/><circle cx="132.0" cy="410.7" r="0.80"/><circle cx="111.7" cy="413.5" r="0.80"/><circle cx="125.2" cy="414.5" r="0.80"/><circle cx="120.1" cy="401.8" r="0.80"/><circle cx="116.8" cy="413.8" r="0.80"/><circle cx="118.4" cy="412.6" r="0.80"/><circle cx="102.1" cy="407.3" r="0.80"/><circle cx="102.5" cy="397.9" r="0.80"/><circle cx="98.2" cy="410.3" r="0.80"/><circle cx="119.1" cy="407.0" r="0.80"/><circle cx="113.4" cy="413.8" r="0.80"/><circle cx="107.4" cy="395.0" r="0.80"/><circle cx="101.7" cy="412.3" r="0.80"/><circle cx="127.0" cy="408.3" r="0.80"/><circle cx="103.6" cy="411.4" r="0.80"/><circle cx="116.0" cy="412.3" r="0.80"/><circle cx="99.4" cy="401.0" r="0.80"/><circle cx="99.7" cy="397.8" r="0.80"/><circle cx="123.6" cy="411.6" r="0.80"/><circle cx="123.0" cy="413.5" r="0.80"/><circle cx="111.6" cy="397.2" r="0.80"/><circle cx="124.8" cy="411.6" r="0.80"/><circle cx="117.1" cy="413.7" r="0.80"/><circle cx="118.3" cy="413.8" r="0.80"/><circle cx="121.4" cy="414.4" r="0.80"/><circle cx="124.1" cy="403.1" r="0.80"/><circle cx="127.7" cy="413.9" r="0.80"/><circle cx="118.9" cy="405.2" r="0.80"/><circle cx="113.7" cy="404.9" r="0.80"/><circle cx="121.0" cy="411.5" r="0.80"/><circle cx="114.4" cy="412.8" r="0.80"/><circle cx="136.9" cy="413.4" r="0.80"/><circle cx="103.2" cy="412.3" r="0.80"/><circle cx="114.7" cy="414.2" r="0.80"/><circle cx="127.0" cy="413.8" r="0.80"/><circle cx="106.8" cy="414.5" r="0.80"/><circle cx="127.7" cy="401.7" r="0.80"/><circle cx="121.3" cy="412.5" r="0.80"/><circle cx="109.6" cy="414.3" r="0.80"/><circle cx="136.3" cy="400.9" r="0.80"/><circle cx="119.3" cy="412.0" r="0.80"/><circle cx="113.9" cy="411.2" r="0.80"/><circle cx="48.8" cy="412.3" r="0.80"/><circle cx="116.2" cy="414.4" r="0.80"/><circle cx="118.8" cy="413.9" r="0.80"/><circle cx="116.6" cy="414.5" r="0.80"/><circle cx="124.1" cy="398.1" r="0.80"/><circle cx="123.2" cy="414.5" r="0.80"/><circle cx="100.0" cy="397.9" r="0.80"/><circle cx="108.9" cy="399.7" r="0.80"/><circle cx="107.7" cy="399.1" r="0.80"/><circle cx="133.5" cy="409.7" r="0.80"/><circle cx="119.0" cy="405.8" r="0.80"/><circle cx="98.7" cy="414.0" r="0.80"/><circle cx="129.7" cy="411.9" r="0.80"/><circle cx="131.2" cy="410.4" r="0.80"/><circle cx="113.0" cy="414.5" r="0.80"/><circle cx="124.3" cy="385.5" r="0.80"/><circle cx="110.0" cy="412.9" r="0.80"/><circle cx="132.0" cy="414.1" r="0.80"/><circle cx="131.8" cy="412.4" r="0.80"/><circle cx="99.4" cy="398.7" r="0.80"/><circle cx="123.0" cy="406.3" r="0.80"/><circle cx="126.5" cy="403.6" r="0.80"/><circle cx="126.5" cy="414.2" r="0.80"/><circle cx="100.5" cy="414.5" r="0.80"/><circle cx="116.9" cy="414.5" r="0.80"/><circle cx="115.3" cy="414.5" r="0.80"/><circle cx="115.7" cy="414.5" r="0.80"/><circle cx="122.4" cy="413.4" r="0.80"/><circle cx="131.5" cy="401.7" r="0.80"/><circle cx="134.4" cy="407.1" r="0.80"/><circle cx="128.8" cy="398.6" r="0.80"/><circle cx="105.1" cy="409.6" r="0.80"/><circle cx="108.1" cy="384.9" r="0.80"/><circle cx="116.7" cy="414.3" r="0.80"/><circle cx="110.9" cy="407.4" r="0.80"/><circle cx="116.8" cy="413.5" r="0.80"/><circle cx="123.2" cy="403.2" r="0.80"/><circle cx="119.4" cy="414.5" r="0.80"/><circle cx="110.2" cy="389.0" r="0.80"/><circle cx="113.0" cy="413.2" r="0.80"/><circle cx="142.8" cy="413.2" r="0.80"/><circle cx="102.3" cy="410.6" r="0.80"/><circle cx="105.5" cy="402.4" r="0.80"/><circle cx="137.0" cy="409.2" r="0.80"/><circle cx="118.2" cy="414.1" r="0.80"/><circle cx="110.5" cy="396.3" r="0.80"/><circle cx="109.0" cy="406.1" r="0.80"/><circle cx="110.7" cy="413.9" r="0.80"/><circle cx="135.3" cy="411.7" r="0.80"/><circle cx="107.3" cy="414.5" r="0.80"/><circle cx="114.6" cy="412.6" r="0.80"/><circle cx="114.9" cy="412.2" r="0.80"/><circle cx="129.9" cy="413.5" r="0.80"/><circle cx="129.4" cy="412.8" r="0.80"/><circle cx="94.9" cy="403.9" r="0.80"/><circle cx="117.1" cy="413.8" r="0.80"/><circle cx="107.9" cy="411.6" r="0.80"/><circle cx="123.4" cy="405.4" r="0.80"/><circle cx="126.6" cy="396.9" r="0.80"/><circle cx="111.7" cy="412.8" r="0.80"/><circle cx="116.2" cy="413.0" r="0.80"/><circle cx="147.2" cy="410.1" r="0.80"/><circle cx="117.0" cy="414.1" r="0.80"/><circle cx="122.5" cy="402.6" r="0.80"/><circle cx="102.9" cy="412.6" r="0.80"/><circle cx="137.4" cy="414.1" r="0.80"/><circle cx="111.4" cy="395.5" r="0.80"/><circle cx="116.1" cy="412.3" r="0.80"/><circle cx="115.5" cy="412.9" r="0.80"/><circle cx="113.4" cy="408.1" r="0.80"/><circle cx="97.8" cy="410.9" r="0.80"/><circle cx="118.8" cy="413.9" r="0.80"/><circle cx="124.6" cy="412.6" r="0.80"/><circle cx="117.5" cy="413.1" r="0.80"/><circle cx="113.6" cy="414.5" r="0.80"/><circle cx="141.5" cy="405.8" r="0.80"/><circle cx="119.2" cy="407.8" r="0.80"/><circle cx="115.0" cy="408.0" r="0.80"/><circle cx="120.0" cy="413.6" r="0.80"/><circle cx="147.6" cy="408.9" r="0.80"/><circle cx="122.5" cy="403.2" r="0.80"/><circle cx="79.2" cy="414.1" r="0.80"/><circle cx="113.7" cy="408.0" r="0.80"/><circle cx="130.0" cy="401.8" r="0.80"/><circle cx="115.4" cy="414.5" r="0.80"/><circle cx="101.4" cy="408.0" r="0.80"/><circle cx="128.9" cy="413.0" r="0.80"/><circle cx="113.7" cy="414.5" r="0.80"/><circle cx="109.7" cy="387.3" r="0.80"/><circle cx="129.6" cy="401.0" r="0.80"/><circle cx="124.6" cy="397.9" r="0.80"/><circle cx="118.5" cy="414.5" r="0.80"/><circle cx="106.9" cy="396.3" r="0.80"/><circle cx="127.7" cy="413.8" r="0.80"/><circle cx="109.7" cy="387.9" r="0.80"/><circle cx="111.0" cy="400.0" r="0.80"/><circle cx="105.9" cy="409.4" r="0.80"/><circle cx="78.2" cy="413.6" r="0.80"/><circle cx="121.8" cy="404.7" r="0.80"/><circle cx="159.1" cy="410.3" r="0.80"/><circle cx="95.4" cy="413.6" r="0.80"/><circle cx="115.2" cy="411.6" r="0.80"/><circle cx="127.2" cy="409.7" r="0.80"/><circle cx="105.0" cy="404.7" r="0.80"/><circle cx="107.6" cy="396.3" r="0.80"/><circle cx="113.3" cy="414.4" r="0.80"/><circle cx="104.3" cy="396.6" r="0.80"/><circle cx="92.7" cy="404.4" r="0.80"/><circle cx="88.2" cy="408.2" r="0.80"/><circle cx="107.4" cy="414.0" r="0.80"/><circle cx="131.4" cy="406.4" r="0.80"/><circle cx="111.0" cy="399.4" r="0.80"/><circle cx="113.2" cy="410.4" r="0.80"/><circle cx="109.8" cy="403.6" r="0.80"/><circle cx="99.9" cy="404.8" r="0.80"/><circle cx="108.7" cy="414.5" r="0.80"/><circle cx="112.3" cy="412.9" r="0.80"/><circle cx="102.8" cy="411.8" r="0.80"/><circle cx="124.4" cy="408.6" r="0.80"/><circle cx="116.4" cy="414.5" r="0.80"/><circle cx="108.0" cy="411.0" r="0.80"/><circle cx="123.1" cy="408.2" r="0.80"/><circle cx="102.5" cy="401.3" r="0.80"/><circle cx="121.7" cy="410.7" r="0.80"/><circle cx="135.5" cy="405.9" r="0.80"/><circle cx="110.0" cy="412.6" r="0.80"/><circle cx="129.1" cy="408.9" r="0.80"/><circle cx="116.7" cy="414.5" r="0.80"/><circle cx="105.8" cy="410.1" r="0.80"/><circle cx="105.5" cy="406.7" r="0.80"/><circle cx="140.3" cy="403.4" r="0.80"/><circle cx="117.9" cy="414.5" r="0.80"/><circle cx="117.9" cy="414.3" r="0.80"/><circle cx="105.4" cy="412.1" r="0.80"/><circle cx="114.1" cy="410.6" r="0.80"/><circle cx="122.8" cy="401.5" r="0.80"/><circle cx="129.6" cy="414.5" r="0.80"/><circle cx="126.1" cy="400.2" r="0.80"/><circle cx="118.2" cy="411.5" r="0.80"/><circle cx="114.7" cy="412.3" r="0.80"/><circle cx="119.3" cy="414.3" r="0.80"/><circle cx="129.3" cy="398.0" r="0.80"/><circle cx="114.1" cy="412.5" r="0.80"/><circle cx="113.1" cy="402.3" r="0.80"/><circle cx="120.0" cy="406.3" r="0.80"/><circle cx="112.8" cy="414.4" r="0.80"/><circle cx="106.1" cy="398.5" r="0.80"/><circle cx="152.9" cy="408.5" r="0.80"/><circle cx="119.8" cy="414.5" r="0.80"/><circle cx="117.2" cy="412.8" r="0.80"/><circle cx="101.9" cy="403.1" r="0.80"/><circle cx="119.5" cy="405.6" r="0.80"/><circle cx="124.7" cy="414.2" r="0.80"/><circle cx="143.8" cy="409.5" r="0.80"/><circle cx="101.5" cy="406.7" r="0.80"/><circle cx="117.2" cy="414.4" r="0.80"/><circle cx="116.6" cy="414.4" r="0.80"/><circle cx="116.3" cy="413.8" r="0.80"/><circle cx="135.0" cy="401.5" r="0.80"/><circle cx="120.4" cy="402.4" r="0.80"/><circle cx="117.8" cy="413.4" r="0.80"/><circle cx="121.0" cy="398.1" r="0.80"/><circle cx="111.8" cy="411.8" r="0.80"/><circle cx="128.8" cy="412.8" r="0.80"/><circle cx="94.3" cy="412.5" r="0.80"/><circle cx="108.8" cy="414.3" r="0.80"/><circle cx="134.4" cy="400.3" r="0.80"/><circle cx="122.9" cy="407.7" r="0.80"/><circle cx="107.0" cy="392.4" r="0.80"/><circle cx="111.2" cy="407.4" r="0.80"/><circle cx="104.9" cy="408.4" r="0.80"/><circle cx="118.4" cy="412.6" r="0.80"/><circle cx="105.6" cy="394.8" r="0.80"/><circle cx="92.0" cy="405.6" r="0.80"/><circle cx="138.5" cy="414.3" r="0.80"/><circle cx="116.1" cy="414.5" r="0.80"/><circle cx="129.1" cy="413.9" r="0.80"/><circle cx="102.8" cy="399.7" r="0.80"/><circle cx="112.9" cy="399.5" r="0.80"/><circle cx="139.2" cy="414.5" r="0.80"/><circle cx="125.8" cy="408.8" r="0.80"/><circle cx="115.3" cy="413.7" r="0.80"/><circle cx="104.3" cy="409.7" r="0.80"/><circle cx="100.0" cy="412.5" r="0.80"/><circle cx="126.0" cy="412.0" r="0.80"/><circle cx="120.0" cy="405.0" r="0.80"/><circle cx="131.1" cy="410.9" r="0.80"/><circle cx="126.0" cy="408.4" r="0.80"/><circle cx="129.2" cy="404.3" r="0.80"/><circle cx="118.1" cy="410.7" r="0.80"/><circle cx="124.2" cy="414.5" r="0.80"/><circle cx="114.7" cy="411.1" r="0.80"/><circle cx="113.1" cy="412.8" r="0.80"/><circle cx="107.5" cy="395.4" r="0.80"/><circle cx="118.7" cy="414.2" r="0.80"/><circle cx="118.3" cy="410.9" r="0.80"/><circle cx="129.5" cy="406.7" r="0.80"/><circle cx="107.8" cy="410.8" r="0.80"/><circle cx="120.6" cy="403.8" r="0.80"/><circle cx="108.8" cy="397.5" r="0.80"/><circle cx="123.9" cy="413.0" r="0.80"/><circle cx="129.6" cy="411.3" r="0.80"/><circle cx="113.9" cy="412.4" r="0.80"/><circle cx="130.4" cy="410.3" r="0.80"/><circle cx="104.1" cy="408.4" r="0.80"/><circle cx="126.3" cy="411.8" r="0.80"/><circle cx="106.5" cy="396.0" r="0.80"/><circle cx="106.2" cy="404.6" r="0.80"/><circle cx="161.0" cy="412.0" r="0.80"/><circle cx="124.6" cy="414.5" r="0.80"/><circle cx="119.9" cy="409.7" r="0.80"/><circle cx="129.7" cy="409.0" r="0.80"/><circle cx="105.9" cy="397.0" r="0.80"/><circle cx="102.4" cy="409.3" r="0.80"/><circle cx="121.6" cy="412.7" r="0.80"/><circle cx="108.1" cy="412.8" r="0.80"/><circle cx="116.6" cy="414.5" r="0.80"/><circle cx="117.7" cy="414.3" r="0.80"/><circle cx="134.5" cy="401.0" r="0.80"/><circle cx="117.0" cy="414.5" r="0.80"/><circle cx="116.6" cy="414.5" r="0.80"/><circle cx="106.6" cy="395.6" r="0.80"/><circle cx="55.1" cy="411.5" r="0.80"/><circle cx="114.2" cy="410.2" r="0.80"/><circle cx="104.1" cy="399.0" r="0.80"/><circle cx="124.8" cy="412.4" r="0.80"/><circle cx="108.5" cy="406.5" r="0.80"/><circle cx="112.8" cy="411.3" r="0.80"/><circle cx="135.3" cy="414.3" r="0.80"/><circle cx="123.7" cy="414.4" r="0.80"/><circle cx="128.4" cy="408.5" r="0.80"/><circle cx="116.9" cy="413.4" r="0.80"/><circle cx="111.3" cy="403.7" r="0.80"/><circle cx="103.4" cy="398.4" r="0.80"/><circle cx="102.9" cy="396.4" r="0.80"/><circle cx="118.4" cy="409.3" r="0.80"/><circle cx="129.4" cy="410.0" r="0.80"/><circle cx="136.1" cy="409.8" r="0.80"/><circle cx="123.5" cy="412.5" r="0.80"/><circle cx="125.7" cy="398.9" r="0.80"/><circle cx="97.4" cy="409.8" r="0.80"/><circle cx="132.7" cy="401.7" r="0.80"/><circle cx="113.7" cy="403.2" r="0.80"/><circle cx="116.4" cy="414.5" r="0.80"/><circle cx="132.4" cy="399.0" r="0.80"/><circle cx="93.7" cy="405.3" r="0.80"/><circle cx="107.0" cy="403.6" r="0.80"/><circle cx="106.7" cy="406.4" r="0.80"/><circle cx="95.1" cy="414.4" r="0.80"/><circle cx="89.9" cy="406.6" r="0.80"/><circle cx="116.4" cy="414.3" r="0.80"/><circle cx="130.5" cy="414.4" r="0.80"/><circle cx="121.1" cy="409.8" r="0.80"/><circle cx="124.6" cy="414.4" r="0.80"/><circle cx="116.7" cy="414.5" r="0.80"/><circle cx="120.3" cy="414.5" r="0.80"/><circle cx="125.1" cy="387.4" r="0.80"/><circle cx="125.3" cy="412.0" r="0.80"/><circle cx="120.4" cy="410.1" r="0.80"/><circle cx="123.5" cy="414.3" r="0.80"/><circle cx="115.8" cy="414.1" r="0.80"/><circle cx="100.5" cy="411.8" r="0.80"/><circle cx="111.2" cy="414.4" r="0.80"/><circle cx="118.1" cy="411.8" r="0.80"/><circle cx="123.6" cy="394.3" r="0.80"/><circle cx="154.0" cy="411.8" r="0.80"/><circle cx="122.1" cy="413.9" r="0.80"/><circle cx="128.6" cy="407.1" r="0.80"/><circle cx="107.4" cy="395.3" r="0.80"/><circle cx="115.1" cy="414.4" r="0.80"/><circle cx="107.6" cy="414.5" r="0.80"/><circle cx="112.0" cy="407.6" r="0.80"/><circle cx="129.6" cy="404.8" r="0.80"/><circle cx="124.4" cy="411.6" r="0.80"/><circle cx="122.2" cy="406.2" r="0.80"/><circle cx="121.5" cy="401.4" r="0.80"/><circle cx="115.9" cy="412.8" r="0.80"/><circle cx="114.4" cy="409.0" r="0.80"/><circle cx="108.9" cy="413.9" r="0.80"/><circle cx="100.3" cy="406.2" r="0.80"/><circle cx="120.6" cy="406.9" r="0.80"/><circle cx="124.1" cy="387.5" r="0.80"/><circle cx="121.3" cy="395.3" r="0.80"/><circle cx="119.6" cy="407.9" r="0.80"/><circle cx="119.0" cy="406.8" r="0.80"/><circle cx="110.4" cy="413.8" r="0.80"/><circle cx="117.0" cy="413.2" r="0.80"/><circle cx="108.8" cy="410.9" r="0.80"/><circle cx="126.9" cy="412.9" r="0.80"/><circle cx="91.4" cy="407.6" r="0.80"/><circle cx="103.0" cy="405.4" r="0.80"/><circle cx="121.4" cy="397.1" r="0.80"/><circle cx="90.5" cy="412.6" r="0.80"/><circle cx="99.6" cy="410.4" r="0.80"/><circle cx="138.5" cy="406.3" r="0.80"/><circle cx="124.0" cy="408.3" r="0.80"/><circle cx="104.3" cy="412.2" r="0.80"/><circle cx="112.6" cy="412.7" r="0.80"/><circle cx="108.2" cy="412.8" r="0.80"/><circle cx="110.4" cy="405.8" r="0.80"/><circle cx="109.8" cy="397.9" r="0.80"/><circle cx="118.3" cy="414.4" r="0.80"/><circle cx="131.3" cy="414.5" r="0.80"/><circle cx="109.8" cy="414.2" r="0.80"/><circle cx="125.4" cy="413.1" r="0.80"/><circle cx="116.7" cy="414.3" r="0.80"/><circle cx="111.1" cy="414.5" r="0.80"/><circle cx="165.7" cy="409.8" r="0.80"/><circle cx="103.6" cy="407.3" r="0.80"/><circle cx="121.5" cy="398.7" r="0.80"/><circle cx="110.0" cy="391.6" r="0.80"/><circle cx="105.3" cy="405.9" r="0.80"/><circle cx="126.3" cy="394.6" r="0.80"/><circle cx="116.0" cy="414.4" r="0.80"/><circle cx="123.1" cy="404.1" r="0.80"/><circle cx="117.2" cy="414.2" r="0.80"/><circle cx="113.2" cy="414.5" r="0.80"/><circle cx="119.0" cy="408.9" r="0.80"/><circle cx="110.5" cy="410.1" r="0.80"/><circle cx="113.8" cy="413.3" r="0.80"/><circle cx="123.2" cy="402.7" r="0.80"/><circle cx="115.8" cy="411.8" r="0.80"/><circle cx="120.0" cy="402.3" r="0.80"/><circle cx="107.6" cy="413.3" r="0.80"/><circle cx="109.1" cy="409.2" r="0.80"/><circle cx="112.1" cy="398.2" r="0.80"/><circle cx="94.4" cy="406.7" r="0.80"/><circle cx="135.9" cy="413.7" r="0.80"/><circle cx="115.8" cy="412.6" r="0.80"/><circle cx="119.8" cy="414.5" r="0.80"/><circle cx="87.3" cy="408.9" r="0.80"/><circle cx="116.7" cy="414.5" r="0.80"/><circle cx="113.7" cy="414.4" r="0.80"/><circle cx="117.3" cy="413.2" r="0.80"/><circle cx="121.5" cy="403.9" r="0.80"/><circle cx="116.7" cy="414.5" r="0.80"/><circle cx="116.5" cy="414.5" r="0.80"/><circle cx="88.2" cy="406.8" r="0.80"/><circle cx="101.0" cy="412.4" r="0.80"/><circle cx="113.6" cy="403.0" r="0.80"/><circle cx="108.6" cy="411.3" r="0.80"/><circle cx="119.1" cy="413.7" r="0.80"/><circle cx="122.7" cy="403.9" r="0.80"/><circle cx="108.7" cy="414.5" r="0.80"/><circle cx="147.2" cy="412.7" r="0.80"/><circle cx="111.7" cy="397.4" r="0.80"/><circle cx="116.2" cy="414.4" r="0.80"/><circle cx="129.0" cy="397.6" r="0.80"/><circle cx="121.2" cy="406.5" r="0.80"/><circle cx="112.1" cy="412.1" r="0.80"/><circle cx="129.2" cy="414.3" r="0.80"/><circle cx="130.4" cy="411.9" r="0.80"/><circle cx="106.1" cy="393.4" r="0.80"/><circle cx="120.8" cy="405.2" r="0.80"/><circle cx="119.5" cy="414.5" r="0.80"/><circle cx="111.0" cy="412.2" r="0.80"/><circle cx="111.8" cy="410.5" r="0.80"/><circle cx="100.2" cy="405.6" r="0.80"/><circle cx="111.7" cy="410.5" r="0.80"/><circle cx="114.1" cy="414.5" r="0.80"/><circle cx="102.9" cy="409.4" r="0.80"/><circle cx="133.5" cy="407.6" r="0.80"/><circle cx="127.9" cy="409.4" r="0.80"/><circle cx="121.1" cy="399.1" r="0.80"/><circle cx="129.4" cy="407.3" r="0.80"/><circle cx="116.4" cy="414.0" r="0.80"/><circle cx="113.5" cy="413.7" r="0.80"/><circle cx="122.5" cy="412.3" r="0.80"/><circle cx="138.2" cy="403.3" r="0.80"/><circle cx="110.6" cy="414.5" r="0.80"/><circle cx="121.1" cy="397.9" r="0.80"/><circle cx="122.7" cy="412.5" r="0.80"/><circle cx="118.3" cy="409.6" r="0.80"/><circle cx="126.1" cy="392.4" r="0.80"/><circle cx="115.4" cy="413.9" r="0.80"/><circle cx="114.2" cy="413.9" r="0.80"/><circle cx="126.6" cy="407.8" r="0.80"/><circle cx="120.4" cy="413.2" r="0.80"/><circle cx="107.1" cy="399.6" r="0.80"/><circle cx="107.7" cy="405.9" r="0.80"/><circle cx="115.1" cy="410.3" r="0.80"/><circle cx="99.5" cy="407.5" r="0.80"/><circle cx="90.6" cy="403.7" r="0.80"/><circle cx="112.2" cy="401.3" r="0.80"/><circle cx="129.0" cy="412.3" r="0.80"/><circle cx="100.7" cy="414.3" r="0.80"/><circle cx="110.8" cy="403.8" r="0.80"/><circle cx="117.8" cy="410.9" r="0.80"/><circle cx="118.5" cy="414.4" r="0.80"/><circle cx="122.6" cy="406.5" r="0.80"/><circle cx="133.4" cy="401.7" r="0.80"/><circle cx="111.1" cy="409.2" r="0.80"/><circle cx="106.9" cy="410.8" r="0.80"/><circle cx="120.2" cy="414.2" r="0.80"/><circle cx="123.2" cy="389.3" r="0.80"/><circle cx="102.3" cy="407.3" r="0.80"/><circle cx="114.8" cy="413.2" r="0.80"/><circle cx="107.7" cy="405.0" r="0.80"/><circle cx="110.3" cy="410.9" r="0.80"/><circle cx="116.9" cy="413.8" r="0.80"/><circle cx="107.8" cy="395.0" r="0.80"/><circle cx="148.0" cy="410.0" r="0.80"/><circle cx="132.3" cy="400.0" r="0.80"/><circle cx="134.6" cy="407.3" r="0.80"/><circle cx="127.7" cy="412.0" r="0.80"/><circle cx="108.3" cy="386.2" r="0.80"/><circle cx="111.3" cy="395.0" r="0.80"/><circle cx="120.4" cy="414.0" r="0.80"/><circle cx="144.7" cy="407.8" r="0.80"/><circle cx="114.0" cy="413.8" r="0.80"/><circle cx="114.1" cy="404.6" r="0.80"/><circle cx="112.7" cy="411.8" r="0.80"/><circle cx="129.6" cy="401.7" r="0.80"/><circle cx="122.5" cy="408.3" r="0.80"/><circle cx="126.7" cy="406.2" r="0.80"/><circle cx="102.0" cy="412.7" r="0.80"/><circle cx="115.9" cy="412.9" r="0.80"/><circle cx="85.3" cy="410.4" r="0.80"/><circle cx="127.9" cy="404.3" r="0.80"/><circle cx="128.1" cy="405.9" r="0.80"/><circle cx="104.0" cy="410.2" r="0.80"/><circle cx="114.4" cy="410.5" r="0.80"/><circle cx="107.1" cy="397.2" r="0.80"/><circle cx="101.3" cy="405.3" r="0.80"/><circle cx="113.2" cy="412.1" r="0.80"/><circle cx="116.9" cy="414.5" r="0.80"/><circle cx="114.1" cy="414.5" r="0.80"/><circle cx="170.2" cy="413.8" r="0.80"/><circle cx="120.7" cy="410.9" r="0.80"/><circle cx="129.3" cy="405.0" r="0.80"/><circle cx="122.7" cy="414.1" r="0.80"/><circle cx="104.5" cy="414.3" r="0.80"/><circle cx="105.2" cy="414.1" r="0.80"/><circle cx="120.8" cy="398.4" r="0.80"/><circle cx="150.3" cy="409.9" r="0.80"/><circle cx="125.6" cy="407.2" r="0.80"/><circle cx="113.5" cy="412.7" r="0.80"/><circle cx="102.3" cy="398.0" r="0.80"/><circle cx="127.1" cy="401.3" r="0.80"/><circle cx="123.1" cy="413.0" r="0.80"/><circle cx="126.8" cy="404.1" r="0.80"/><circle cx="124.0" cy="414.2" r="0.80"/><circle cx="119.1" cy="414.5" r="0.80"/><circle cx="65.6" cy="413.1" r="0.80"/><circle cx="110.7" cy="404.4" r="0.80"/><circle cx="105.3" cy="397.9" r="0.80"/><circle cx="105.6" cy="407.7" r="0.80"/><circle cx="109.2" cy="393.5" r="0.80"/><circle cx="114.1" cy="414.5" r="0.80"/><circle cx="154.5" cy="413.9" r="0.80"/><circle cx="69.9" cy="411.7" r="0.80"/><circle cx="101.4" cy="412.3" r="0.80"/><circle cx="137.7" cy="407.2" r="0.80"/><circle cx="114.4" cy="414.4" r="0.80"/><circle cx="111.7" cy="403.3" r="0.80"/><circle cx="98.4" cy="400.8" r="0.80"/><circle cx="110.4" cy="406.7" r="0.80"/><circle cx="109.7" cy="414.5" r="0.80"/><circle cx="99.5" cy="408.7" r="0.80"/><circle cx="117.2" cy="412.3" r="0.80"/><circle cx="112.2" cy="400.2" r="0.80"/><circle cx="94.3" cy="412.7" r="0.80"/><circle cx="117.6" cy="414.3" r="0.80"/><circle cx="101.5" cy="398.0" r="0.80"/><circle cx="115.1" cy="413.8" r="0.80"/><circle cx="161.6" cy="408.5" r="0.80"/><circle cx="120.9" cy="414.5" r="0.80"/><circle cx="113.4" cy="403.8" r="0.80"/><circle cx="105.2" cy="413.1" r="0.80"/><circle cx="137.3" cy="400.2" r="0.80"/><circle cx="121.7" cy="394.2" r="0.80"/><circle cx="85.0" cy="405.8" r="0.80"/><circle cx="142.1" cy="403.0" r="0.80"/><circle cx="117.1" cy="414.0" r="0.80"/><circle cx="128.2" cy="400.0" r="0.80"/><circle cx="120.6" cy="413.3" r="0.80"/><circle cx="129.8" cy="414.3" r="0.80"/><circle cx="134.6" cy="405.4" r="0.80"/><circle cx="163.4" cy="410.7" r="0.80"/><circle cx="132.5" cy="411.1" r="0.80"/><circle cx="121.5" cy="394.2" r="0.80"/><circle cx="83.9" cy="406.0" r="0.80"/><circle cx="115.5" cy="412.5" r="0.80"/><circle cx="115.1" cy="409.6" r="0.80"/><circle cx="121.9" cy="404.9" r="0.80"/><circle cx="116.8" cy="414.5" r="0.80"/><circle cx="155.1" cy="407.2" r="0.80"/><circle cx="104.5" cy="411.7" r="0.80"/><circle cx="115.6" cy="414.3" r="0.80"/><circle cx="118.9" cy="405.1" r="0.80"/><circle cx="133.6" cy="413.7" r="0.80"/><circle cx="119.1" cy="411.4" r="0.80"/><circle cx="112.2" cy="405.7" r="0.80"/><circle cx="113.3" cy="405.2" r="0.80"/><circle cx="128.7" cy="407.8" r="0.80"/><circle cx="103.4" cy="412.6" r="0.80"/></g>
<g fill="#2f4598"><circle cx="105.8" cy="403.3" r="0.70"/><circle cx="89.1" cy="391.7" r="0.70"/><circle cx="106.9" cy="402.5" r="0.70"/><circle cx="105.8" cy="396.8" r="0.70"/><circle cx="104.1" cy="399.6" r="0.70"/><circle cx="107.6" cy="386.4" r="0.70"/><circle cx="104.1" cy="402.6" r="0.70"/><circle cx="106.0" cy="385.2" r="0.70"/><circle cx="107.5" cy="397.3" r="0.70"/><circle cx="107.6" cy="400.9" r="0.70"/><circle cx="100.4" cy="381.7" r="0.70"/><circle cx="100.6" cy="387.2" r="0.70"/><circle cx="65.6" cy="395.9" r="0.70"/><circle cx="106.5" cy="403.7" r="0.70"/><circle cx="102.7" cy="401.4" r="0.70"/><circle cx="53.8" cy="394.6" r="0.70"/><circle cx="106.6" cy="387.7" r="0.70"/><circle cx="97.7" cy="400.9" r="0.70"/><circle cx="107.2" cy="401.5" r="0.70"/><circle cx="106.5" cy="403.1" r="0.70"/><circle cx="107.1" cy="389.9" r="0.70"/><circle cx="104.4" cy="396.9" r="0.70"/><circle cx="101.4" cy="388.0" r="0.70"/><circle cx="104.8" cy="388.8" r="0.70"/><circle cx="107.6" cy="389.5" r="0.70"/><circle cx="104.3" cy="392.5" r="0.70"/><circle cx="106.0" cy="381.2" r="0.70"/><circle cx="76.6" cy="373.9" r="0.70"/><circle cx="105.1" cy="395.0" r="0.70"/><circle cx="87.6" cy="401.5" r="0.70"/><circle cx="106.1" cy="401.0" r="0.70"/><circle cx="106.9" cy="395.0" r="0.70"/><circle cx="107.2" cy="400.6" r="0.70"/><circle cx="71.5" cy="394.8" r="0.70"/><circle cx="89.7" cy="379.4" r="0.70"/><circle cx="107.4" cy="404.5" r="0.70"/><circle cx="94.8" cy="402.5" r="0.70"/><circle cx="45.2" cy="401.0" r="0.70"/><circle cx="107.4" cy="402.7" r="0.70"/><circle cx="105.0" cy="398.5" r="0.70"/><circle cx="106.7" cy="403.8" r="0.70"/><circle cx="94.1" cy="404.3" r="0.70"/><circle cx="107.1" cy="403.2" r="0.70"/><circle cx="107.7" cy="403.5" r="0.70"/><circle cx="84.6" cy="387.3" r="0.70"/><circle cx="84.6" cy="394.9" r="0.70"/><circle cx="102.7" cy="392.1" r="0.70"/><circle cx="69.3" cy="402.0" r="0.70"/><circle cx="103.6" cy="391.3" r="0.70"/><circle cx="101.6" cy="400.4" r="0.70"/><circle cx="102.4" cy="396.9" r="0.70"/><circle cx="107.4" cy="398.4" r="0.70"/><circle cx="100.3" cy="402.9" r="0.70"/><circle cx="95.0" cy="394.4" r="0.70"/><circle cx="84.8" cy="400.0" r="0.70"/><circle cx="95.6" cy="404.7" r="0.70"/><circle cx="102.3" cy="387.6" r="0.70"/><circle cx="77.7" cy="395.2" r="0.70"/><circle cx="107.2" cy="402.8" r="0.70"/><circle cx="88.3" cy="403.9" r="0.70"/><circle cx="104.1" cy="403.3" r="0.70"/><circle cx="105.9" cy="383.9" r="0.70"/><circle cx="106.7" cy="402.6" r="0.70"/><circle cx="101.8" cy="404.5" r="0.70"/><circle cx="104.2" cy="394.7" r="0.70"/><circle cx="106.7" cy="404.5" r="0.70"/><circle cx="99.2" cy="404.7" r="0.70"/><circle cx="105.7" cy="401.2" r="0.70"/><circle cx="61.6" cy="391.4" r="0.70"/><circle cx="96.1" cy="380.1" r="0.70"/><circle cx="106.4" cy="383.4" r="0.70"/><circle cx="105.5" cy="402.1" r="0.70"/><circle cx="99.8" cy="396.0" r="0.70"/><circle cx="104.9" cy="396.7" r="0.70"/><circle cx="79.5" cy="404.8" r="0.70"/><circle cx="103.1" cy="399.9" r="0.70"/><circle cx="105.2" cy="400.9" r="0.70"/><circle cx="106.0" cy="378.9" r="0.70"/><circle cx="106.1" cy="402.1" r="0.70"/><circle cx="89.8" cy="394.3" r="0.70"/><circle cx="103.8" cy="388.5" r="0.70"/><circle cx="100.3" cy="398.9" r="0.70"/><circle cx="97.8" cy="400.4" r="0.70"/><circle cx="107.0" cy="385.6" r="0.70"/><circle cx="102.8" cy="393.1" r="0.70"/><circle cx="103.8" cy="397.5" r="0.70"/><circle cx="107.5" cy="397.7" r="0.70"/><circle cx="105.1" cy="404.8" r="0.70"/><circle cx="106.3" cy="397.4" r="0.70"/><circle cx="87.2" cy="400.8" r="0.70"/><circle cx="97.0" cy="393.6" r="0.70"/><circle cx="103.8" cy="404.0" r="0.70"/><circle cx="101.3" cy="403.9" r="0.70"/><circle cx="107.1" cy="396.1" r="0.70"/><circle cx="106.2" cy="396.8" r="0.70"/><circle cx="103.8" cy="397.6" r="0.70"/><circle cx="101.9" cy="373.7" r="0.70"/><circle cx="98.9" cy="397.0" r="0.70"/><circle cx="106.4" cy="389.3" r="0.70"/><circle cx="107.4" cy="403.1" r="0.70"/><circle cx="88.5" cy="397.2" r="0.70"/><circle cx="104.7" cy="396.8" r="0.70"/><circle cx="106.0" cy="379.0" r="0.70"/><circle cx="107.6" cy="400.2" r="0.70"/><circle cx="107.6" cy="404.3" r="0.70"/><circle cx="94.7" cy="384.0" r="0.70"/><circle cx="91.0" cy="400.9" r="0.70"/><circle cx="107.4" cy="395.3" r="0.70"/><circle cx="106.1" cy="388.2" r="0.70"/><circle cx="90.8" cy="388.3" r="0.70"/><circle cx="103.6" cy="390.2" r="0.70"/><circle cx="105.4" cy="392.6" r="0.70"/><circle cx="61.7" cy="391.9" r="0.70"/><circle cx="105.1" cy="403.9" r="0.70"/><circle cx="104.4" cy="393.3" r="0.70"/><circle cx="107.1" cy="403.0" r="0.70"/><circle cx="105.7" cy="404.5" r="0.70"/><circle cx="106.2" cy="404.1" r="0.70"/><circle cx="107.5" cy="402.8" r="0.70"/><circle cx="93.8" cy="360.2" r="0.70"/><circle cx="104.2" cy="384.3" r="0.70"/><circle cx="105.8" cy="402.0" r="0.70"/><circle cx="102.7" cy="352.0" r="0.70"/><circle cx="104.9" cy="372.1" r="0.70"/><circle cx="107.2" cy="392.7" r="0.70"/><circle cx="100.4" cy="404.8" r="0.70"/><circle cx="107.3" cy="401.0" r="0.70"/><circle cx="107.1" cy="401.4" r="0.70"/><circle cx="61.5" cy="398.8" r="0.70"/><circle cx="107.6" cy="403.3" r="0.70"/><circle cx="105.5" cy="393.1" r="0.70"/><circle cx="99.6" cy="399.9" r="0.70"/><circle cx="106.7" cy="404.5" r="0.70"/><circle cx="106.0" cy="403.6" r="0.70"/><circle cx="106.9" cy="394.3" r="0.70"/><circle cx="88.9" cy="401.7" r="0.70"/><circle cx="106.1" cy="374.6" r="0.70"/><circle cx="103.0" cy="402.4" r="0.70"/><circle cx="101.2" cy="404.7" r="0.70"/><circle cx="81.5" cy="401.1" r="0.70"/><circle cx="104.9" cy="398.0" r="0.70"/><circle cx="107.0" cy="401.7" r="0.70"/><circle cx="98.9" cy="382.0" r="0.70"/><circle cx="106.7" cy="403.2" r="0.70"/><circle cx="105.8" cy="402.9" r="0.70"/><circle cx="105.7" cy="403.1" r="0.70"/><circle cx="100.9" cy="386.3" r="0.70"/><circle cx="107.0" cy="404.0" r="0.70"/><circle cx="74.0" cy="403.5" r="0.70"/><circle cx="105.0" cy="359.5" r="0.70"/><circle cx="106.3" cy="400.1" r="0.70"/><circle cx="101.5" cy="395.7" r="0.70"/><circle cx="94.7" cy="402.6" r="0.70"/><circle cx="103.0" cy="403.3" r="0.70"/><circle cx="101.3" cy="393.5" r="0.70"/><circle cx="97.9" cy="402.5" r="0.70"/><circle cx="87.1" cy="400.8" r="0.70"/><circle cx="103.3" cy="400.3" r="0.70"/><circle cx="105.0" cy="385.9" r="0.70"/><circle cx="107.3" cy="388.8" r="0.70"/><circle cx="103.5" cy="402.7" r="0.70"/><circle cx="104.5" cy="395.9" r="0.70"/><circle cx="102.0" cy="404.9" r="0.70"/><circle cx="101.2" cy="403.3" r="0.70"/><circle cx="106.4" cy="402.4" r="0.70"/><circle cx="107.0" cy="392.5" r="0.70"/><circle cx="106.3" cy="391.3" r="0.70"/><circle cx="99.5" cy="389.9" r="0.70"/><circle cx="101.5" cy="393.6" r="0.70"/><circle cx="105.6" cy="398.2" r="0.70"/><circle cx="90.0" cy="402.1" r="0.70"/><circle cx="107.1" cy="399.0" r="0.70"/><circle cx="101.6" cy="396.7" r="0.70"/><circle cx="102.6" cy="401.7" r="0.70"/><circle cx="85.8" cy="390.0" r="0.70"/><circle cx="105.2" cy="402.4" r="0.70"/><circle cx="102.2" cy="384.6" r="0.70"/><circle cx="101.6" cy="389.7" r="0.70"/><circle cx="104.1" cy="398.5" r="0.70"/><circle cx="95.8" cy="404.4" r="0.70"/><circle cx="73.2" cy="400.0" r="0.70"/><circle cx="106.1" cy="401.8" r="0.70"/><circle cx="83.3" cy="374.6" r="0.70"/><circle cx="106.5" cy="389.6" r="0.70"/><circle cx="107.2" cy="402.7" r="0.70"/><circle cx="106.9" cy="389.6" r="0.70"/><circle cx="104.4" cy="393.3" r="0.70"/><circle cx="87.8" cy="390.2" r="0.70"/><circle cx="80.8" cy="354.8" r="0.70"/><circle cx="107.1" cy="395.5" r="0.70"/><circle cx="93.1" cy="403.1" r="0.70"/><circle cx="105.7" cy="382.1" r="0.70"/><circle cx="104.5" cy="404.6" r="0.70"/><circle cx="102.7" cy="378.2" r="0.70"/><circle cx="103.3" cy="398.5" r="0.70"/><circle cx="90.5" cy="369.6" r="0.70"/><circle cx="74.2" cy="386.0" r="0.70"/><circle cx="103.1" cy="401.9" r="0.70"/><circle cx="92.7" cy="396.9" r="0.70"/><circle cx="76.5" cy="401.6" r="0.70"/><circle cx="97.9" cy="403.3" r="0.70"/><circle cx="81.3" cy="393.5" r="0.70"/><circle cx="105.2" cy="404.3" r="0.70"/><circle cx="98.6" cy="364.9" r="0.70"/><circle cx="104.6" cy="368.0" r="0.70"/><circle cx="105.5" cy="402.0" r="0.70"/><circle cx="102.4" cy="394.3" r="0.70"/><circle cx="107.6" cy="405.1" r="0.70"/><circle cx="101.5" cy="368.6" r="0.70"/><circle cx="103.9" cy="393.2" r="0.70"/><circle cx="107.7" cy="403.6" r="0.70"/><circle cx="102.5" cy="402.6" r="0.70"/><circle cx="72.9" cy="391.1" r="0.70"/><circle cx="106.0" cy="403.6" r="0.70"/><circle cx="83.1" cy="395.2" r="0.70"/><circle cx="107.5" cy="403.7" r="0.70"/><circle cx="107.2" cy="399.6" r="0.70"/><circle cx="106.2" cy="398.1" r="0.70"/><circle cx="106.1" cy="391.4" r="0.70"/><circle cx="103.1" cy="399.4" r="0.70"/><circle cx="107.5" cy="378.6" r="0.70"/><circle cx="69.3" cy="404.9" r="0.70"/><circle cx="104.3" cy="383.4" r="0.70"/><circle cx="106.6" cy="391.7" r="0.70"/><circle cx="95.3" cy="394.2" r="0.70"/><circle cx="100.9" cy="396.8" r="0.70"/><circle cx="105.9" cy="397.2" r="0.70"/><circle cx="107.1" cy="397.7" r="0.70"/><circle cx="105.8" cy="382.8" r="0.70"/><circle cx="106.7" cy="396.7" r="0.70"/><circle cx="90.9" cy="385.0" r="0.70"/><circle cx="100.5" cy="405.0" r="0.70"/><circle cx="104.2" cy="403.8" r="0.70"/><circle cx="106.0" cy="404.3" r="0.70"/><circle cx="103.2" cy="403.6" r="0.70"/><circle cx="106.9" cy="396.9" r="0.70"/><circle cx="103.9" cy="400.0" r="0.70"/><circle cx="100.3" cy="403.7" r="0.70"/><circle cx="96.9" cy="398.2" r="0.70"/><circle cx="105.9" cy="395.9" r="0.70"/><circle cx="100.5" cy="398.4" r="0.70"/><circle cx="87.8" cy="386.8" r="0.70"/><circle cx="97.1" cy="403.0" r="0.70"/><circle cx="107.5" cy="403.0" r="0.70"/><circle cx="107.0" cy="404.3" r="0.70"/><circle cx="107.5" cy="402.9" r="0.70"/><circle cx="105.5" cy="360.8" r="0.70"/><circle cx="104.5" cy="403.1" r="0.70"/><circle cx="101.3" cy="401.2" r="0.70"/><circle cx="89.2" cy="403.6" r="0.70"/><circle cx="105.0" cy="398.4" r="0.70"/><circle cx="107.4" cy="397.6" r="0.70"/><circle cx="105.4" cy="402.3" r="0.70"/><circle cx="103.3" cy="398.1" r="0.70"/><circle cx="102.2" cy="394.0" r="0.70"/><circle cx="106.6" cy="404.2" r="0.70"/><circle cx="106.4" cy="404.5" r="0.70"/><circle cx="98.6" cy="404.0" r="0.70"/><circle cx="100.7" cy="396.5" r="0.70"/><circle cx="107.0" cy="392.5" r="0.70"/><circle cx="102.7" cy="404.3" r="0.70"/><circle cx="83.2" cy="400.9" r="0.70"/><circle cx="103.4" cy="404.4" r="0.70"/><circle cx="102.8" cy="404.3" r="0.70"/><circle cx="104.5" cy="394.7" r="0.70"/><circle cx="103.2" cy="396.7" r="0.70"/><circle cx="91.0" cy="401.6" r="0.70"/><circle cx="106.1" cy="388.9" r="0.70"/><circle cx="50.4" cy="404.5" r="0.70"/><circle cx="107.5" cy="392.4" r="0.70"/><circle cx="99.9" cy="403.3" r="0.70"/><circle cx="77.0" cy="403.4" r="0.70"/><circle cx="105.8" cy="401.7" r="0.70"/><circle cx="89.4" cy="389.9" r="0.70"/><circle cx="107.2" cy="400.8" r="0.70"/><circle cx="78.6" cy="401.0" r="0.70"/><circle cx="99.4" cy="403.7" r="0.70"/><circle cx="98.9" cy="360.5" r="0.70"/><circle cx="101.6" cy="402.0" r="0.70"/><circle cx="104.2" cy="401.4" r="0.70"/><circle cx="99.2" cy="387.0" r="0.70"/><circle cx="105.6" cy="391.1" r="0.70"/><circle cx="102.4" cy="388.5" r="0.70"/><circle cx="106.9" cy="390.5" r="0.70"/><circle cx="106.7" cy="391.2" r="0.70"/><circle cx="96.5" cy="402.1" r="0.70"/><circle cx="93.1" cy="388.4" r="0.70"/><circle cx="106.2" cy="373.1" r="0.70"/><circle cx="102.0" cy="399.0" r="0.70"/><circle cx="106.3" cy="376.5" r="0.70"/><circle cx="106.5" cy="400.5" r="0.70"/><circle cx="98.3" cy="382.0" r="0.70"/><circle cx="107.7" cy="395.4" r="0.70"/><circle cx="102.0" cy="397.8" r="0.70"/><circle cx="107.5" cy="404.3" r="0.70"/><circle cx="88.7" cy="362.8" r="0.70"/><circle cx="90.4" cy="359.4" r="0.70"/><circle cx="102.4" cy="400.8" r="0.70"/></g>
<g fill="#fbcd0a"><circle cx="129.5" cy="394.3" r="0.75"/><circle cx="135.3" cy="403.5" r="0.75"/><circle cx="128.2" cy="400.1" r="0.75"/><circle cx="134.3" cy="396.3" r="0.75"/><circle cx="135.6" cy="374.7" r="0.75"/><circle cx="126.6" cy="404.6" r="0.75"/><circle cx="126.2" cy="404.2" r="0.75"/><circle cx="134.2" cy="399.0" r="0.75"/><circle cx="126.4" cy="405.0" r="0.75"/><circle cx="125.7" cy="392.1" r="0.75"/><circle cx="129.5" cy="403.8" r="0.75"/><circle cx="131.1" cy="390.3" r="0.75"/><circle cx="170.9" cy="404.8" r="0.75"/><circle cx="126.7" cy="367.0" r="0.75"/><circle cx="128.4" cy="397.8" r="0.75"/><circle cx="133.2" cy="391.5" r="0.75"/><circle cx="128.6" cy="399.6" r="0.75"/><circle cx="136.4" cy="402.9" r="0.75"/><circle cx="128.8" cy="399.8" r="0.75"/><circle cx="126.0" cy="397.5" r="0.75"/><circle cx="133.7" cy="404.4" r="0.75"/><circle cx="152.6" cy="393.8" r="0.75"/><circle cx="187.4" cy="403.1" r="0.75"/><circle cx="128.6" cy="385.0" r="0.75"/><circle cx="127.0" cy="404.9" r="0.75"/><circle cx="127.5" cy="387.9" r="0.75"/><circle cx="151.0" cy="397.7" r="0.75"/><circle cx="140.8" cy="378.3" r="0.75"/><circle cx="132.1" cy="403.2" r="0.75"/><circle cx="126.5" cy="396.5" r="0.75"/><circle cx="134.2" cy="404.8" r="0.75"/><circle cx="128.3" cy="400.7" r="0.75"/><circle cx="129.3" cy="402.3" r="0.75"/><circle cx="125.6" cy="400.4" r="0.75"/><circle cx="127.9" cy="404.5" r="0.75"/><circle cx="127.2" cy="403.8" r="0.75"/><circle cx="136.0" cy="399.2" r="0.75"/><circle cx="127.4" cy="400.6" r="0.75"/><circle cx="127.3" cy="402.3" r="0.75"/><circle cx="142.3" cy="365.4" r="0.75"/><circle cx="128.2" cy="402.5" r="0.75"/><circle cx="128.7" cy="399.7" r="0.75"/><circle cx="125.8" cy="401.8" r="0.75"/><circle cx="130.3" cy="375.4" r="0.75"/><circle cx="125.6" cy="396.2" r="0.75"/><circle cx="132.5" cy="377.0" r="0.75"/><circle cx="126.5" cy="405.1" r="0.75"/><circle cx="127.9" cy="397.7" r="0.75"/><circle cx="127.6" cy="400.3" r="0.75"/><circle cx="136.8" cy="386.0" r="0.75"/><circle cx="138.7" cy="402.8" r="0.75"/><circle cx="143.8" cy="396.7" r="0.75"/><circle cx="126.5" cy="396.2" r="0.75"/><circle cx="139.1" cy="399.9" r="0.75"/><circle cx="126.1" cy="403.8" r="0.75"/><circle cx="125.5" cy="396.0" r="0.75"/><circle cx="135.4" cy="390.2" r="0.75"/><circle cx="125.8" cy="404.1" r="0.75"/><circle cx="129.9" cy="394.1" r="0.75"/><circle cx="132.2" cy="399.0" r="0.75"/><circle cx="131.4" cy="403.4" r="0.75"/><circle cx="133.3" cy="402.0" r="0.75"/><circle cx="128.0" cy="399.9" r="0.75"/><circle cx="129.5" cy="401.1" r="0.75"/><circle cx="130.2" cy="399.4" r="0.75"/><circle cx="126.3" cy="404.2" r="0.75"/><circle cx="126.6" cy="391.7" r="0.75"/><circle cx="133.4" cy="401.9" r="0.75"/><circle cx="147.8" cy="402.4" r="0.75"/><circle cx="129.7" cy="374.7" r="0.75"/><circle cx="127.9" cy="400.2" r="0.75"/><circle cx="129.9" cy="395.1" r="0.75"/><circle cx="128.2" cy="400.9" r="0.75"/><circle cx="133.4" cy="402.3" r="0.75"/><circle cx="149.2" cy="395.0" r="0.75"/><circle cx="128.8" cy="404.0" r="0.75"/><circle cx="128.5" cy="399.8" r="0.75"/><circle cx="131.7" cy="392.9" r="0.75"/><circle cx="129.7" cy="384.1" r="0.75"/><circle cx="127.5" cy="404.6" r="0.75"/><circle cx="126.5" cy="393.9" r="0.75"/><circle cx="133.0" cy="400.2" r="0.75"/><circle cx="130.2" cy="398.2" r="0.75"/><circle cx="125.7" cy="402.5" r="0.75"/><circle cx="150.4" cy="401.6" r="0.75"/><circle cx="131.4" cy="404.8" r="0.75"/><circle cx="150.9" cy="401.9" r="0.75"/><circle cx="128.0" cy="402.8" r="0.75"/><circle cx="127.0" cy="404.6" r="0.75"/><circle cx="132.1" cy="390.6" r="0.75"/><circle cx="126.2" cy="395.1" r="0.75"/><circle cx="126.6" cy="403.5" r="0.75"/><circle cx="159.4" cy="399.4" r="0.75"/><circle cx="126.3" cy="379.6" r="0.75"/><circle cx="128.2" cy="399.7" r="0.75"/><circle cx="152.3" cy="403.3" r="0.75"/><circle cx="128.2" cy="398.1" r="0.75"/><circle cx="130.8" cy="402.1" r="0.75"/><circle cx="131.1" cy="403.6" r="0.75"/><circle cx="133.8" cy="387.1" r="0.75"/><circle cx="172.9" cy="395.2" r="0.75"/><circle cx="136.7" cy="399.4" r="0.75"/><circle cx="125.9" cy="404.6" r="0.75"/><circle cx="130.1" cy="400.3" r="0.75"/><circle cx="134.0" cy="403.2" r="0.75"/><circle cx="131.2" cy="379.2" r="0.75"/><circle cx="125.7" cy="394.3" r="0.75"/><circle cx="126.4" cy="399.2" r="0.75"/><circle cx="128.8" cy="401.4" r="0.75"/><circle cx="129.8" cy="397.4" r="0.75"/><circle cx="127.5" cy="404.4" r="0.75"/><circle cx="139.7" cy="392.8" r="0.75"/><circle cx="129.5" cy="404.4" r="0.75"/><circle cx="127.5" cy="390.2" r="0.75"/><circle cx="126.9" cy="395.1" r="0.75"/><circle cx="125.7" cy="389.4" r="0.75"/><circle cx="131.1" cy="402.7" r="0.75"/><circle cx="126.6" cy="402.6" r="0.75"/><circle cx="126.8" cy="402.3" r="0.75"/><circle cx="129.6" cy="404.2" r="0.75"/><circle cx="126.0" cy="399.5" r="0.75"/><circle cx="126.2" cy="403.3" r="0.75"/><circle cx="130.5" cy="397.1" r="0.75"/><circle cx="136.0" cy="400.0" r="0.75"/><circle cx="126.6" cy="398.1" r="0.75"/><circle cx="140.0" cy="401.6" r="0.75"/><circle cx="128.7" cy="394.7" r="0.75"/><circle cx="134.6" cy="403.5" r="0.75"/><circle cx="126.0" cy="385.5" r="0.75"/><circle cx="129.8" cy="402.5" r="0.75"/><circle cx="145.9" cy="404.6" r="0.75"/><circle cx="127.6" cy="396.2" r="0.75"/><circle cx="138.1" cy="378.1" r="0.75"/><circle cx="133.5" cy="402.4" r="0.75"/><circle cx="126.4" cy="394.8" r="0.75"/><circle cx="136.8" cy="400.3" r="0.75"/><circle cx="125.9" cy="388.3" r="0.75"/><circle cx="130.6" cy="404.9" r="0.75"/><circle cx="130.0" cy="400.9" r="0.75"/><circle cx="132.9" cy="405.0" r="0.75"/><circle cx="129.9" cy="397.9" r="0.75"/><circle cx="128.4" cy="387.4" r="0.75"/><circle cx="132.3" cy="392.7" r="0.75"/><circle cx="126.4" cy="387.2" r="0.75"/><circle cx="126.8" cy="402.4" r="0.75"/><circle cx="139.9" cy="384.6" r="0.75"/><circle cx="130.8" cy="397.5" r="0.75"/><circle cx="131.4" cy="388.1" r="0.75"/><circle cx="140.6" cy="388.9" r="0.75"/><circle cx="129.8" cy="401.4" r="0.75"/><circle cx="128.0" cy="386.5" r="0.75"/><circle cx="126.9" cy="382.0" r="0.75"/><circle cx="128.2" cy="403.7" r="0.75"/><circle cx="131.3" cy="393.0" r="0.75"/><circle cx="125.6" cy="389.9" r="0.75"/><circle cx="127.3" cy="400.9" r="0.75"/><circle cx="126.8" cy="395.8" r="0.75"/><circle cx="128.1" cy="388.8" r="0.75"/><circle cx="126.9" cy="399.5" r="0.75"/><circle cx="155.4" cy="394.9" r="0.75"/><circle cx="127.0" cy="400.6" r="0.75"/><circle cx="127.3" cy="404.4" r="0.75"/><circle cx="158.3" cy="405.0" r="0.75"/><circle cx="126.0" cy="397.0" r="0.75"/><circle cx="132.8" cy="405.0" r="0.75"/><circle cx="127.0" cy="405.0" r="0.75"/><circle cx="127.3" cy="399.6" r="0.75"/><circle cx="128.6" cy="403.3" r="0.75"/><circle cx="135.6" cy="400.8" r="0.75"/><circle cx="126.2" cy="403.5" r="0.75"/><circle cx="127.9" cy="388.3" r="0.75"/><circle cx="126.4" cy="404.0" r="0.75"/><circle cx="151.7" cy="402.9" r="0.75"/><circle cx="127.9" cy="386.6" r="0.75"/><circle cx="128.2" cy="404.5" r="0.75"/><circle cx="127.7" cy="404.7" r="0.75"/><circle cx="132.0" cy="396.3" r="0.75"/><circle cx="127.0" cy="402.9" r="0.75"/><circle cx="125.7" cy="391.8" r="0.75"/><circle cx="127.5" cy="393.0" r="0.75"/><circle cx="155.3" cy="404.9" r="0.75"/><circle cx="125.6" cy="403.3" r="0.75"/><circle cx="138.6" cy="397.3" r="0.75"/><circle cx="127.6" cy="374.4" r="0.75"/><circle cx="130.9" cy="404.5" r="0.75"/><circle cx="129.2" cy="397.0" r="0.75"/><circle cx="135.9" cy="376.2" r="0.75"/><circle cx="131.2" cy="387.5" r="0.75"/><circle cx="179.8" cy="394.4" r="0.75"/><circle cx="130.2" cy="395.7" r="0.75"/><circle cx="128.8" cy="403.5" r="0.75"/><circle cx="126.5" cy="384.2" r="0.75"/><circle cx="131.8" cy="393.5" r="0.75"/><circle cx="126.4" cy="385.6" r="0.75"/><circle cx="128.8" cy="392.2" r="0.75"/><circle cx="160.2" cy="394.4" r="0.75"/><circle cx="134.6" cy="393.2" r="0.75"/><circle cx="141.7" cy="386.3" r="0.75"/><circle cx="126.4" cy="401.3" r="0.75"/><circle cx="128.2" cy="396.6" r="0.75"/><circle cx="145.1" cy="395.8" r="0.75"/><circle cx="139.9" cy="401.1" r="0.75"/><circle cx="129.7" cy="404.2" r="0.75"/><circle cx="153.3" cy="381.3" r="0.75"/><circle cx="131.8" cy="398.4" r="0.75"/><circle cx="140.0" cy="404.1" r="0.75"/><circle cx="128.8" cy="394.2" r="0.75"/><circle cx="126.8" cy="395.8" r="0.75"/><circle cx="125.9" cy="397.5" r="0.75"/><circle cx="132.1" cy="404.4" r="0.75"/><circle cx="136.6" cy="394.1" r="0.75"/><circle cx="133.9" cy="384.0" r="0.75"/><circle cx="137.8" cy="404.6" r="0.75"/><circle cx="136.6" cy="391.7" r="0.75"/><circle cx="131.2" cy="401.3" r="0.75"/><circle cx="126.2" cy="399.0" r="0.75"/><circle cx="150.6" cy="399.7" r="0.75"/><circle cx="141.2" cy="394.7" r="0.75"/><circle cx="130.9" cy="403.8" r="0.75"/><circle cx="140.8" cy="392.1" r="0.75"/><circle cx="131.8" cy="388.6" r="0.75"/><circle cx="127.1" cy="398.4" r="0.75"/><circle cx="126.6" cy="398.3" r="0.75"/><circle cx="131.9" cy="396.5" r="0.75"/><circle cx="127.5" cy="404.5" r="0.75"/><circle cx="149.2" cy="378.9" r="0.75"/><circle cx="126.6" cy="389.6" r="0.75"/><circle cx="130.8" cy="401.6" r="0.75"/><circle cx="126.9" cy="400.2" r="0.75"/><circle cx="125.6" cy="399.6" r="0.75"/><circle cx="126.3" cy="382.2" r="0.75"/><circle cx="125.7" cy="399.1" r="0.75"/><circle cx="128.2" cy="404.4" r="0.75"/><circle cx="126.0" cy="400.4" r="0.75"/><circle cx="127.0" cy="404.2" r="0.75"/><circle cx="131.8" cy="392.4" r="0.75"/><circle cx="131.1" cy="384.1" r="0.75"/><circle cx="129.1" cy="391.8" r="0.75"/><circle cx="128.9" cy="398.0" r="0.75"/><circle cx="127.6" cy="395.0" r="0.75"/><circle cx="133.6" cy="400.7" r="0.75"/><circle cx="126.2" cy="402.6" r="0.75"/><circle cx="128.5" cy="397.3" r="0.75"/><circle cx="130.6" cy="394.4" r="0.75"/><circle cx="141.2" cy="385.7" r="0.75"/><circle cx="139.9" cy="400.6" r="0.75"/><circle cx="125.5" cy="403.1" r="0.75"/><circle cx="146.9" cy="390.6" r="0.75"/><circle cx="179.0" cy="382.4" r="0.75"/><circle cx="133.9" cy="389.3" r="0.75"/><circle cx="130.6" cy="404.8" r="0.75"/><circle cx="142.8" cy="404.7" r="0.75"/><circle cx="129.0" cy="399.8" r="0.75"/><circle cx="132.1" cy="404.2" r="0.75"/><circle cx="132.8" cy="388.9" r="0.75"/><circle cx="132.5" cy="390.3" r="0.75"/><circle cx="140.7" cy="393.2" r="0.75"/><circle cx="127.3" cy="404.0" r="0.75"/><circle cx="143.0" cy="399.3" r="0.75"/><circle cx="133.8" cy="404.9" r="0.75"/><circle cx="126.8" cy="388.3" r="0.75"/><circle cx="128.7" cy="401.2" r="0.75"/><circle cx="132.3" cy="399.3" r="0.75"/><circle cx="129.3" cy="404.5" r="0.75"/><circle cx="125.6" cy="402.9" r="0.75"/><circle cx="125.9" cy="394.7" r="0.75"/><circle cx="127.9" cy="400.5" r="0.75"/><circle cx="126.3" cy="396.8" r="0.75"/><circle cx="125.5" cy="404.9" r="0.75"/><circle cx="127.3" cy="385.5" r="0.75"/><circle cx="129.0" cy="404.0" r="0.75"/><circle cx="127.5" cy="395.0" r="0.75"/><circle cx="149.6" cy="397.7" r="0.75"/><circle cx="130.9" cy="393.1" r="0.75"/><circle cx="129.0" cy="392.7" r="0.75"/><circle cx="139.5" cy="404.7" r="0.75"/><circle cx="132.7" cy="384.1" r="0.75"/><circle cx="126.8" cy="403.5" r="0.75"/><circle cx="126.9" cy="400.3" r="0.75"/><circle cx="130.6" cy="402.7" r="0.75"/><circle cx="129.0" cy="392.1" r="0.75"/><circle cx="131.2" cy="395.0" r="0.75"/><circle cx="127.4" cy="396.0" r="0.75"/><circle cx="153.1" cy="402.0" r="0.75"/><circle cx="148.4" cy="391.7" r="0.75"/><circle cx="131.0" cy="403.3" r="0.75"/><circle cx="125.7" cy="398.1" r="0.75"/><circle cx="130.6" cy="400.4" r="0.75"/><circle cx="130.6" cy="403.2" r="0.75"/><circle cx="132.8" cy="401.2" r="0.75"/><circle cx="131.2" cy="384.8" r="0.75"/><circle cx="138.5" cy="405.1" r="0.75"/><circle cx="128.2" cy="400.0" r="0.75"/><circle cx="125.5" cy="376.4" r="0.75"/><circle cx="129.2" cy="398.8" r="0.75"/><circle cx="129.5" cy="403.2" r="0.75"/><circle cx="127.9" cy="394.3" r="0.75"/><circle cx="126.9" cy="380.6" r="0.75"/><circle cx="127.0" cy="399.8" r="0.75"/><circle cx="127.8" cy="401.9" r="0.75"/></g>
<g fill="#2f4598"><circle cx="99.0" cy="283.9" r="0.8"/><circle cx="57.7" cy="310.5" r="0.8"/><circle cx="67.6" cy="308.6" r="0.8"/><circle cx="105.0" cy="320.6" r="0.8"/></g>
<g fill="#fbcd0a"><circle cx="134.2" cy="268.9" r="0.8"/><circle cx="147.1" cy="275.4" r="0.8"/><circle cx="132.1" cy="318.0" r="0.8"/><circle cx="137.9" cy="319.2" r="0.8"/><circle cx="131.2" cy="329.7" r="0.8"/><circle cx="153.7" cy="333.0" r="0.8"/><circle cx="132.1" cy="337.5" r="0.8"/><circle cx="131.2" cy="340.1" r="0.8"/></g>
<rect x="44.2" y="263.2" width="144.3" height="157.3" fill="none" stroke="#8c8c8c" stroke-width="1"/>
<path d="M41.2 414.5L44.2 414.5M41.2 380.9L44.2 380.9M41.2 347.3L44.2 347.3M41.2 313.7L44.2 313.7M41.2 280.1L44.2 280.1M73.1 420.5L73.1 423.5M116.6 420.5L116.6 423.5M160.1 420.5L160.1 423.5" stroke="#8c8c8c" stroke-width="1"/>
<g font-size="9.5" text-anchor="middle">
<text transform="translate(37.3,414.9) rotate(-90)" x="0" y="0" font-size="10.3" textLength="4.9" lengthAdjust="spacingAndGlyphs">0</text>
<text transform="translate(37.3,381.3) rotate(-90)" x="0" y="0" font-size="10.3" textLength="4.9" lengthAdjust="spacingAndGlyphs">5</text>
<text transform="translate(37.3,347.7) rotate(-90)" x="0" y="0" font-size="10.3" textLength="9.8" lengthAdjust="spacingAndGlyphs">10</text>
<text transform="translate(37.3,314.1) rotate(-90)" x="0" y="0" font-size="10.3" textLength="9.8" lengthAdjust="spacingAndGlyphs">15</text>
<text transform="translate(37.3,280.5) rotate(-90)" x="0" y="0" font-size="10.3" textLength="9.8" lengthAdjust="spacingAndGlyphs">20</text>
<text x="73.1" y="433.4">-5</text>
<text x="116.6" y="433.4">0</text>
<text x="160.1" y="433.4">5</text>
</g>
<text x="114" y="445.4" font-size="10" text-anchor="middle">FoldChange(log2)</text>
<text transform="translate(24,350) rotate(-90)" font-size="10" text-anchor="middle">-lg(padj)</text>
<circle cx="192.9" cy="272.6" r="1.5" fill="#2b3f96"/>
<circle cx="192.9" cy="284.1" r="1.5" fill="#f5c800"/>
<circle cx="192.9" cy="294.6" r="1.5" fill="#d3c7a6"/>
<g font-size="10"><text x="197.8" y="275.6">Down</text><text x="197.8" y="287">Up</text><text x="197.8" y="298">None</text></g>
<path d="M293.4 276V424.8M378.5 276V424.8M462.6 276V424.8M547 276V424.8M293.4 424.8H547" stroke="#ececec" stroke-width="0.8" fill="none"/>
<rect x="315.0" y="377.1" width="20.8" height="47.7" fill="#b81116"/>
<rect x="335.8" y="383.3" width="20.8" height="41.5" fill="#22008f"/>
<rect x="399.6" y="334.8" width="20.8" height="90.0" fill="#b81116"/>
<rect x="420.0" y="340.5" width="20.8" height="84.3" fill="#22008f"/>
<rect x="483.9" y="297.9" width="20.8" height="126.9" fill="#b81116"/>
<rect x="504.7" y="306.1" width="20.8" height="118.7" fill="#22008f"/>
<g font-size="10" text-anchor="end">
<text x="287.6" y="428">0</text>
<text x="289.5" y="398.5">500</text>
<text x="289.5" y="369.8">1000</text>
<text x="289.5" y="339.4">1500</text>
<text x="289.5" y="309.1">2000</text>
<text x="289.5" y="283.2">2500</text>
</g>
<text transform="translate(260.8,344.5) rotate(-90)" font-size="9.6" text-anchor="middle" textLength="71" lengthAdjust="spacingAndGlyphs">Number of Genes</text>
<g font-size="10" text-anchor="middle">
<text x="333.2" y="443.3" textLength="78.3" lengthAdjust="spacingAndGlyphs">TP vs YY(P&lt;0.01)</text>
<text x="423" y="443.3" textLength="78.3" lengthAdjust="spacingAndGlyphs">TP vs YY(P&lt;0.05)</text>
<text x="510.4" y="443.3" textLength="72.9" lengthAdjust="spacingAndGlyphs">TP vs YY(P&lt;0.1)</text>
</g>
<rect x="339.1" y="250" width="3.5" height="3.4" fill="#c0141c"/>
<rect x="406.2" y="250" width="3.8" height="3.5" fill="#1a1496"/>
<g font-size="9.8"><text x="345.5" y="253.9">up-regulated</text><text x="413.5" y="253.9">down-regulated</text></g>
</svg></body></html>
